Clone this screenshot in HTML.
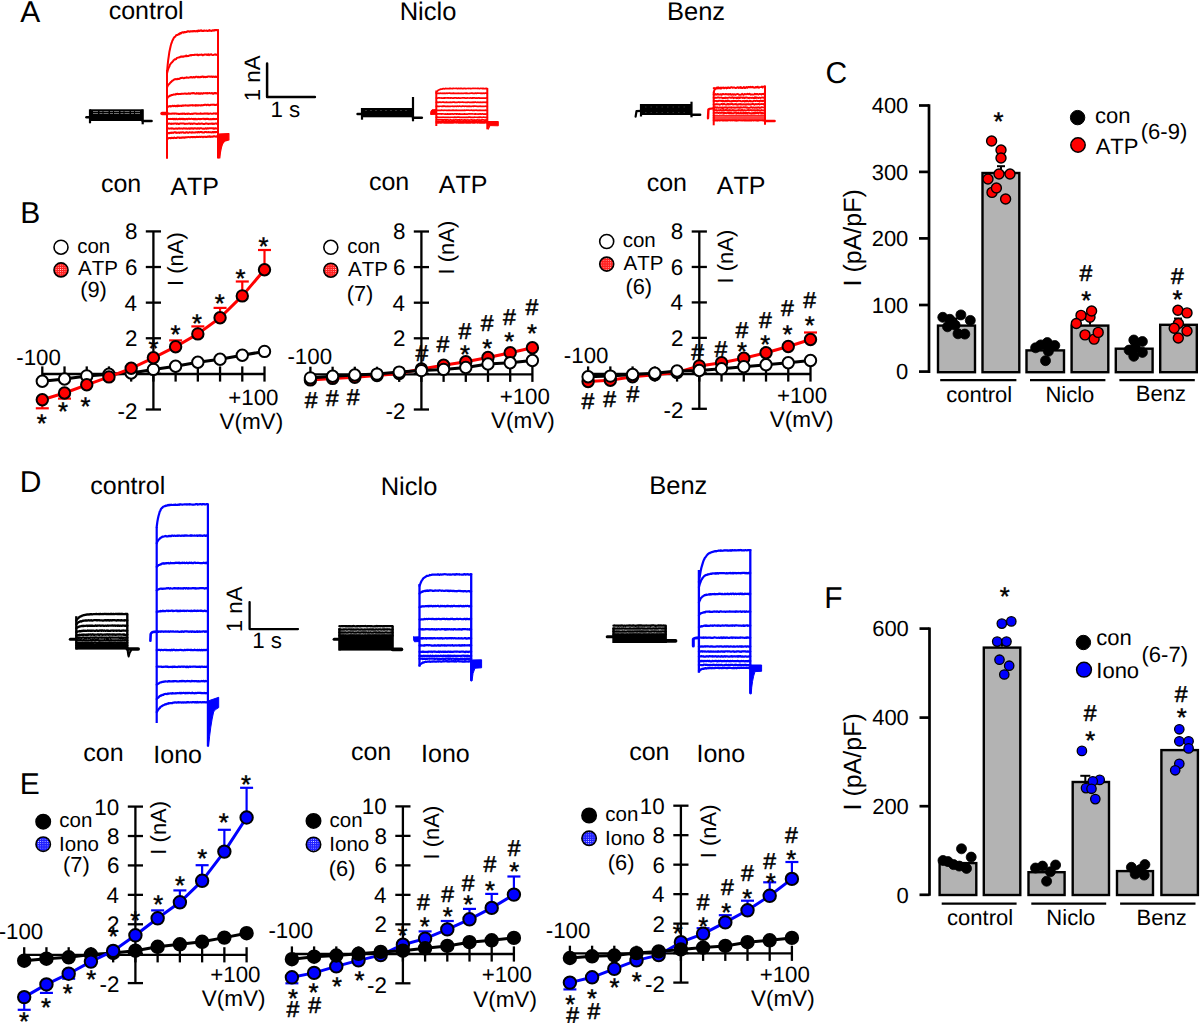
<!DOCTYPE html><html><head><meta charset="utf-8"><style>html,body{margin:0;padding:0;background:#fff;overflow:hidden}svg{display:block}text{font-family:"Liberation Sans",sans-serif;font-kerning:none;text-rendering:geometricPrecision}</style></head><body>
<svg width="1200" height="1023" viewBox="0 0 1200 1023">
<defs><pattern id="pr" width="2.2" height="2.2" patternUnits="userSpaceOnUse"><rect width="2.2" height="2.2" fill="#ff2020"/><circle cx="1.1" cy="1.1" r="0.45" fill="#fff"/></pattern><pattern id="pb" width="2.2" height="2.2" patternUnits="userSpaceOnUse"><rect width="2.2" height="2.2" fill="#2020ff"/><circle cx="1.1" cy="1.1" r="0.45" fill="#fff"/></pattern></defs>
<rect width="1200" height="1023" fill="#fff"/>
<text x="20.30" y="21.72" font-size="30" fill="#000">A</text>
<text x="20.36" y="223.32" font-size="30" fill="#000">B</text>
<text x="825.38" y="82.93" font-size="30" fill="#000">C</text>
<text x="19.65" y="492.32" font-size="30" fill="#000">D</text>
<text x="19.71" y="793.92" font-size="30" fill="#000">E</text>
<text x="824.21" y="608.32" font-size="30" fill="#000">F</text>
<text x="108.64" y="18.84" font-size="25" fill="#000">control</text>
<text x="399.70" y="19.81" font-size="25.5" fill="#000">Niclo</text>
<text x="666.98" y="19.55" font-size="25.5" fill="#000">Benz</text>
<text x="100.93" y="191.90" font-size="25" fill="#000">con</text>
<text x="170.42" y="195.20" font-size="25" fill="#000">ATP</text>
<text x="368.93" y="190.30" font-size="25" fill="#000">con</text>
<text x="438.72" y="193.30" font-size="25" fill="#000">ATP</text>
<text x="646.73" y="191.20" font-size="25" fill="#000">con</text>
<text x="716.72" y="194.30" font-size="25" fill="#000">ATP</text>
<path d="M267.1,63.6 L267.1,97.1 L314.9,97.1" stroke="#000" stroke-width="2.5" fill="none" stroke-linejoin="round" stroke-linecap="round" />
<text transform="translate(252.00,77.50) rotate(-90)" x="-23.76" y="7.67" font-size="22.3" fill="#000">1 nA</text>
<text x="270.53" y="116.96" font-size="22.3" fill="#000">1 s</text>
<rect x="90" y="109.3" width="52.7" height="11.7" fill="#000"/>
<line x1="90.00" y1="109.30" x2="90.00" y2="123.30" stroke="#000" stroke-width="2.2" stroke-linecap="butt"/>
<line x1="142.70" y1="109.30" x2="142.70" y2="124.30" stroke="#000" stroke-width="2.2" stroke-linecap="butt"/>
<line x1="86.50" y1="117.20" x2="90.00" y2="117.20" stroke="#000" stroke-width="2.6" stroke-linecap="round"/>
<line x1="142.70" y1="121.00" x2="151.50" y2="121.00" stroke="#000" stroke-width="2.6" stroke-linecap="round"/>
<path d="M93,111.5 H140 M93,113.5 H140" stroke="#fff" stroke-width="0.7" stroke-dasharray="5 1.5 3 1" opacity="0.6"/>
<path d="M167.00,72.30 L167.60,65.57 L168.20,59.98 L168.80,56.00 L169.40,51.70 L170.00,49.07 L170.60,46.33 L171.20,43.88 L171.80,42.53 L172.40,40.56 L173.00,39.69 L173.60,38.25 L174.20,37.37 L174.80,36.93 L175.40,36.67 L176.00,35.40 L176.60,35.00 L177.20,34.98 L177.80,34.93 L178.40,34.23 L179.00,33.76 L179.60,34.09 L180.20,32.93 L180.80,33.53 L181.40,32.78 L182.00,32.47 L182.60,32.29 L183.20,32.34 L183.80,32.71 L184.40,31.96 L185.00,32.25 L185.60,32.21 L186.20,31.84 L186.80,31.93 L187.40,31.36 L188.00,31.28 L188.60,31.35 L189.20,31.76 L189.80,31.44 L190.40,31.27 L191.00,31.48 L191.60,31.29 L192.20,31.09 L192.80,31.53 L193.40,31.39 L194.00,30.89 L194.60,31.18 L195.20,31.09 L195.80,31.40 L196.40,31.22 L197.00,30.75 L197.60,31.41 L198.20,30.51 L198.80,30.78 L199.40,31.10 L200.00,30.46 L200.60,30.78 L201.20,30.30 L201.80,30.91 L202.40,30.98 L203.00,30.77 L203.60,31.05 L204.20,30.47 L204.80,30.84 L205.40,30.72 L206.00,30.69 L206.60,30.55 L207.20,30.92 L207.80,31.01 L208.40,30.53 L209.00,30.71 L209.60,30.09 L210.20,30.72 L210.80,30.66 L211.40,30.99 L212.00,30.81 L212.60,30.26 L213.20,30.36 L213.80,30.63 L214.40,29.98 L215.00,30.41 L215.60,30.11 L216.20,30.05 L216.80,29.99 L217.40,30.69 L218.00,30.41" stroke="#ff0000" stroke-width="2.0" fill="none" stroke-linejoin="round" stroke-linecap="round" />
<path d="M167.00,73.60 L167.60,70.93 L168.20,69.06 L168.80,67.51 L169.40,66.51 L170.00,64.57 L170.60,63.85 L171.20,63.02 L171.80,62.53 L172.40,61.79 L173.00,61.22 L173.60,60.16 L174.20,59.81 L174.80,59.34 L175.40,59.44 L176.00,59.17 L176.60,58.14 L177.20,57.89 L177.80,57.69 L178.40,57.46 L179.00,57.48 L179.60,57.38 L180.20,56.91 L180.80,56.52 L181.40,56.74 L182.00,56.56 L182.60,56.61 L183.20,56.83 L183.80,56.49 L184.40,56.22 L185.00,56.22 L185.60,56.18 L186.20,55.53 L186.80,56.22 L187.40,56.03 L188.00,56.05 L188.60,55.91 L189.20,55.49 L189.80,55.43 L190.40,55.11 L191.00,55.54 L191.60,54.98 L192.20,54.94 L192.80,55.02 L193.40,54.94 L194.00,55.06 L194.60,54.77 L195.20,54.69 L195.80,54.79 L196.40,54.72 L197.00,54.93 L197.60,54.60 L198.20,55.33 L198.80,55.08 L199.40,54.64 L200.00,54.71 L200.60,54.78 L201.20,54.77 L201.80,54.54 L202.40,55.18 L203.00,55.29 L203.60,54.80 L204.20,54.80 L204.80,54.43 L205.40,54.44 L206.00,54.64 L206.60,54.56 L207.20,55.06 L207.80,54.45 L208.40,54.31 L209.00,55.14 L209.60,54.75 L210.20,54.40 L210.80,54.75 L211.40,54.28 L212.00,54.73 L212.60,55.12 L213.20,55.02 L213.80,54.86 L214.40,54.46 L215.00,54.55 L215.60,54.37 L216.20,54.91 L216.80,54.69 L217.40,54.91 L218.00,54.65" stroke="#ff0000" stroke-width="2.0" fill="none" stroke-linejoin="round" stroke-linecap="round" />
<path d="M167.00,87.60 L167.60,86.13 L168.20,84.92 L168.80,84.45 L169.40,83.78 L170.00,82.98 L170.60,82.36 L171.20,81.86 L171.80,81.35 L172.40,80.56 L173.00,80.46 L173.60,80.03 L174.20,79.51 L174.80,79.28 L175.40,79.27 L176.00,79.07 L176.60,79.25 L177.20,79.30 L177.80,78.75 L178.40,79.02 L179.00,78.94 L179.60,78.80 L180.20,78.23 L180.80,78.02 L181.40,77.94 L182.00,77.83 L182.60,77.76 L183.20,78.02 L183.80,78.18 L184.40,78.06 L185.00,77.71 L185.60,77.80 L186.20,77.86 L186.80,77.24 L187.40,77.65 L188.00,77.80 L188.60,77.66 L189.20,77.59 L189.80,77.33 L190.40,77.06 L191.00,77.51 L191.60,77.11 L192.20,77.45 L192.80,77.56 L193.40,77.07 L194.00,77.05 L194.60,77.46 L195.20,77.26 L195.80,76.79 L196.40,76.73 L197.00,76.73 L197.60,77.31 L198.20,77.22 L198.80,76.67 L199.40,77.20 L200.00,77.30 L200.60,77.03 L201.20,76.77 L201.80,76.91 L202.40,76.57 L203.00,76.46 L203.60,77.21 L204.20,76.95 L204.80,76.84 L205.40,77.15 L206.00,76.74 L206.60,77.08 L207.20,77.04 L207.80,76.54 L208.40,76.56 L209.00,76.59 L209.60,76.54 L210.20,76.81 L210.80,76.54 L211.40,76.66 L212.00,76.42 L212.60,77.04 L213.20,76.59 L213.80,76.67 L214.40,76.76 L215.00,77.02 L215.60,76.62 L216.20,77.02 L216.80,76.68 L217.40,76.70 L218.00,76.67" stroke="#ff0000" stroke-width="2.0" fill="none" stroke-linejoin="round" stroke-linecap="round" />
<path d="M167.00,98.50 L167.60,97.79 L168.20,96.77 L168.80,96.59 L169.40,95.96 L170.00,95.45 L170.60,95.78 L171.20,95.02 L171.80,95.04 L172.40,95.05 L173.00,94.75 L173.60,94.43 L174.20,94.46 L174.80,94.38 L175.40,94.47 L176.00,93.85 L176.60,94.14 L177.20,93.83 L177.80,93.79 L178.40,94.14 L179.00,93.88 L179.60,93.88 L180.20,94.01 L180.80,94.09 L181.40,93.69 L182.00,93.79 L182.60,93.68 L183.20,93.66 L183.80,93.78 L184.40,93.57 L185.00,93.62 L185.60,93.55 L186.20,93.91 L186.80,93.70 L187.40,93.83 L188.00,93.87 L188.60,93.31 L189.20,93.53 L189.80,93.83 L190.40,93.74 L191.00,93.17 L191.60,93.14 L192.20,93.39 L192.80,93.09 L193.40,93.21 L194.00,93.07 L194.60,93.54 L195.20,93.63 L195.80,93.71 L196.40,93.11 L197.00,93.56 L197.60,93.51 L198.20,93.09 L198.80,93.68 L199.40,93.74 L200.00,93.14 L200.60,93.72 L201.20,93.27 L201.80,93.34 L202.40,93.74 L203.00,93.61 L203.60,93.07 L204.20,93.29 L204.80,93.35 L205.40,93.21 L206.00,93.09 L206.60,93.19 L207.20,93.51 L207.80,92.94 L208.40,93.37 L209.00,93.28 L209.60,92.94 L210.20,93.19 L210.80,93.42 L211.40,93.33 L212.00,92.97 L212.60,93.71 L213.20,93.55 L213.80,93.69 L214.40,93.00 L215.00,93.13 L215.60,92.94 L216.20,93.54 L216.80,93.13 L217.40,93.01 L218.00,93.31" stroke="#ff0000" stroke-width="2.0" fill="none" stroke-linejoin="round" stroke-linecap="round" />
<path d="M167.00,106.70 L167.60,106.50 L168.20,106.73 L168.80,106.57 L169.40,106.11 L170.00,105.98 L170.60,106.47 L171.20,106.19 L171.80,106.24 L172.40,105.79 L173.00,105.74 L173.60,106.16 L174.20,105.95 L174.80,105.68 L175.40,106.27 L176.00,106.03 L176.60,106.13 L177.20,105.61 L177.80,106.13 L178.40,105.56 L179.00,106.10 L179.60,105.80 L180.20,105.70 L180.80,105.83 L181.40,106.08 L182.00,105.60 L182.60,105.48 L183.20,105.74 L183.80,105.52 L184.40,105.41 L185.00,105.43 L185.60,105.34 L186.20,105.43 L186.80,105.49 L187.40,105.46 L188.00,105.76 L188.60,105.42 L189.20,105.55 L189.80,105.30 L190.40,105.40 L191.00,105.16 L191.60,105.30 L192.20,105.12 L192.80,105.60 L193.40,105.46 L194.00,105.19 L194.60,105.37 L195.20,105.67 L195.80,105.08 L196.40,105.56 L197.00,105.27 L197.60,105.30 L198.20,105.52 L198.80,105.19 L199.40,105.25 L200.00,105.36 L200.60,105.55 L201.20,105.08 L201.80,105.41 L202.40,105.30 L203.00,105.24 L203.60,105.06 L204.20,105.00 L204.80,104.78 L205.40,104.81 L206.00,104.75 L206.60,105.20 L207.20,104.85 L207.80,104.76 L208.40,104.69 L209.00,105.20 L209.60,105.21 L210.20,105.05 L210.80,104.76 L211.40,104.71 L212.00,104.73 L212.60,104.83 L213.20,104.60 L213.80,104.79 L214.40,104.64 L215.00,105.11 L215.60,105.10 L216.20,104.79 L216.80,104.56 L217.40,105.04 L218.00,104.70" stroke="#ff0000" stroke-width="2.0" fill="none" stroke-linejoin="round" stroke-linecap="round" />
<path d="M167.00,113.80 L167.60,113.68 L168.20,113.71 L168.80,113.49 L169.40,113.72 L170.00,113.77 L170.60,113.79 L171.20,113.60 L171.80,113.78 L172.40,113.48 L173.00,113.63 L173.60,113.53 L174.20,113.71 L174.80,113.49 L175.40,113.48 L176.00,113.65 L176.60,113.60 L177.20,113.81 L177.80,113.78 L178.40,113.91 L179.00,113.85 L179.60,113.88 L180.20,113.98 L180.80,113.68 L181.40,113.64 L182.00,114.03 L182.60,113.53 L183.20,113.87 L183.80,113.82 L184.40,113.46 L185.00,113.93 L185.60,113.96 L186.20,113.80 L186.80,113.86 L187.40,113.91 L188.00,113.50 L188.60,113.73 L189.20,113.72 L189.80,113.91 L190.40,113.89 L191.00,113.90 L191.60,113.75 L192.20,113.94 L192.80,113.81 L193.40,113.81 L194.00,113.53 L194.60,113.41 L195.20,113.47 L195.80,113.60 L196.40,113.45 L197.00,113.88 L197.60,113.72 L198.20,113.75 L198.80,113.75 L199.40,113.78 L200.00,113.66 L200.60,113.37 L201.20,113.84 L201.80,113.81 L202.40,113.66 L203.00,113.68 L203.60,113.75 L204.20,113.39 L204.80,113.79 L205.40,113.50 L206.00,113.39 L206.60,113.50 L207.20,113.78 L207.80,113.46 L208.40,113.78 L209.00,113.92 L209.60,113.63 L210.20,113.56 L210.80,113.62 L211.40,113.74 L212.00,113.78 L212.60,113.69 L213.20,113.70 L213.80,113.36 L214.40,113.40 L215.00,113.46 L215.60,113.76 L216.20,113.49 L216.80,113.65 L217.40,113.31 L218.00,113.60" stroke="#ff0000" stroke-width="2.0" fill="none" stroke-linejoin="round" stroke-linecap="round" />
<path d="M167.00,119.00 L167.60,118.74 L168.20,118.86 L168.80,119.10 L169.40,119.12 L170.00,119.11 L170.60,118.87 L171.20,119.01 L171.80,118.98 L172.40,118.98 L173.00,118.77 L173.60,119.24 L174.20,118.82 L174.80,119.29 L175.40,119.26 L176.00,118.71 L176.60,118.98 L177.20,119.19 L177.80,119.28 L178.40,118.97 L179.00,118.86 L179.60,118.83 L180.20,119.27 L180.80,118.83 L181.40,119.05 L182.00,118.79 L182.60,119.01 L183.20,119.27 L183.80,118.78 L184.40,119.19 L185.00,119.01 L185.60,119.23 L186.20,119.12 L186.80,118.84 L187.40,119.24 L188.00,118.99 L188.60,118.71 L189.20,118.70 L189.80,119.00 L190.40,118.97 L191.00,118.88 L191.60,118.78 L192.20,118.91 L192.80,118.89 L193.40,119.20 L194.00,118.70 L194.60,119.15 L195.20,119.20 L195.80,118.77 L196.40,119.26 L197.00,119.13 L197.60,119.24 L198.20,118.87 L198.80,118.92 L199.40,118.94 L200.00,119.30 L200.60,119.05 L201.20,118.92 L201.80,118.96 L202.40,118.87 L203.00,118.73 L203.60,118.76 L204.20,119.20 L204.80,118.87 L205.40,119.26 L206.00,118.85 L206.60,118.86 L207.20,119.01 L207.80,118.81 L208.40,118.92 L209.00,119.27 L209.60,119.23 L210.20,119.19 L210.80,119.08 L211.40,119.25 L212.00,119.26 L212.60,119.03 L213.20,119.13 L213.80,118.73 L214.40,119.14 L215.00,118.97 L215.60,119.15 L216.20,119.09 L216.80,118.87 L217.40,118.73 L218.00,119.00" stroke="#ff0000" stroke-width="2.0" fill="none" stroke-linejoin="round" stroke-linecap="round" />
<path d="M167.00,123.70 L167.60,123.96 L168.20,123.48 L168.80,123.68 L169.40,123.61 L170.00,123.58 L170.60,123.84 L171.20,123.99 L171.80,123.56 L172.40,123.79 L173.00,123.58 L173.60,123.73 L174.20,123.64 L174.80,123.50 L175.40,123.50 L176.00,123.52 L176.60,123.94 L177.20,123.70 L177.80,123.53 L178.40,123.94 L179.00,124.00 L179.60,123.67 L180.20,123.48 L180.80,123.52 L181.40,123.45 L182.00,123.61 L182.60,123.45 L183.20,123.54 L183.80,123.56 L184.40,123.74 L185.00,123.93 L185.60,123.85 L186.20,123.65 L186.80,123.65 L187.40,123.71 L188.00,123.63 L188.60,123.60 L189.20,123.44 L189.80,123.57 L190.40,123.98 L191.00,123.48 L191.60,123.70 L192.20,123.78 L192.80,123.92 L193.40,123.53 L194.00,123.56 L194.60,123.55 L195.20,123.64 L195.80,123.67 L196.40,123.97 L197.00,123.91 L197.60,123.92 L198.20,123.41 L198.80,123.42 L199.40,123.83 L200.00,123.94 L200.60,123.68 L201.20,123.75 L201.80,123.40 L202.40,123.63 L203.00,123.96 L203.60,123.90 L204.20,123.91 L204.80,123.98 L205.40,123.55 L206.00,123.47 L206.60,123.49 L207.20,123.71 L207.80,123.81 L208.40,123.96 L209.00,123.83 L209.60,123.79 L210.20,123.86 L210.80,123.67 L211.40,123.73 L212.00,123.42 L212.60,123.87 L213.20,123.54 L213.80,123.95 L214.40,123.79 L215.00,123.58 L215.60,123.48 L216.20,123.55 L216.80,123.78 L217.40,123.82 L218.00,123.70" stroke="#ff0000" stroke-width="2.0" fill="none" stroke-linejoin="round" stroke-linecap="round" />
<path d="M167.00,128.60 L167.60,128.36 L168.20,128.34 L168.80,128.61 L169.40,128.64 L170.00,128.52 L170.60,128.42 L171.20,128.64 L171.80,128.29 L172.40,128.46 L173.00,128.55 L173.60,128.85 L174.20,128.66 L174.80,128.80 L175.40,128.55 L176.00,128.41 L176.60,128.41 L177.20,128.84 L177.80,128.68 L178.40,128.44 L179.00,128.27 L179.60,128.55 L180.20,128.65 L180.80,128.50 L181.40,128.40 L182.00,128.64 L182.60,128.79 L183.20,128.37 L183.80,128.25 L184.40,128.43 L185.00,128.48 L185.60,128.64 L186.20,128.34 L186.80,128.70 L187.40,128.66 L188.00,128.52 L188.60,128.34 L189.20,128.79 L189.80,128.40 L190.40,128.70 L191.00,128.34 L191.60,128.34 L192.20,128.66 L192.80,128.38 L193.40,128.77 L194.00,128.49 L194.60,128.30 L195.20,128.32 L195.80,128.44 L196.40,128.58 L197.00,128.75 L197.60,128.27 L198.20,128.41 L198.80,128.30 L199.40,128.76 L200.00,128.26 L200.60,128.20 L201.20,128.20 L201.80,128.40 L202.40,128.70 L203.00,128.69 L203.60,128.60 L204.20,128.75 L204.80,128.71 L205.40,128.35 L206.00,128.26 L206.60,128.71 L207.20,128.59 L207.80,128.16 L208.40,128.54 L209.00,128.36 L209.60,128.36 L210.20,128.33 L210.80,128.23 L211.40,128.13 L212.00,128.29 L212.60,128.33 L213.20,128.69 L213.80,128.19 L214.40,128.69 L215.00,128.24 L215.60,128.32 L216.20,128.60 L216.80,128.60 L217.40,128.36 L218.00,128.40" stroke="#ff0000" stroke-width="2.0" fill="none" stroke-linejoin="round" stroke-linecap="round" />
<path d="M167.00,133.70 L167.60,133.12 L168.20,133.22 L168.80,133.00 L169.40,133.27 L170.00,132.67 L170.60,132.73 L171.20,133.05 L171.80,132.41 L172.40,132.64 L173.00,132.90 L173.60,132.85 L174.20,132.32 L174.80,132.30 L175.40,132.31 L176.00,132.90 L176.60,132.43 L177.20,132.76 L177.80,132.86 L178.40,132.46 L179.00,132.40 L179.60,132.87 L180.20,132.63 L180.80,132.37 L181.40,132.68 L182.00,132.40 L182.60,132.36 L183.20,132.16 L183.80,132.68 L184.40,132.79 L185.00,132.58 L185.60,132.79 L186.20,132.14 L186.80,132.28 L187.40,132.44 L188.00,132.77 L188.60,132.76 L189.20,132.36 L189.80,132.26 L190.40,132.38 L191.00,132.41 L191.60,132.71 L192.20,132.18 L192.80,132.61 L193.40,132.56 L194.00,132.61 L194.60,132.57 L195.20,132.44 L195.80,132.24 L196.40,132.23 L197.00,132.25 L197.60,132.54 L198.20,132.04 L198.80,132.11 L199.40,132.50 L200.00,132.13 L200.60,132.00 L201.20,131.97 L201.80,132.33 L202.40,132.16 L203.00,132.61 L203.60,132.54 L204.20,132.60 L204.80,132.09 L205.40,131.96 L206.00,131.96 L206.60,132.23 L207.20,132.37 L207.80,132.18 L208.40,132.03 L209.00,132.15 L209.60,132.28 L210.20,132.31 L210.80,132.36 L211.40,132.42 L212.00,132.29 L212.60,131.90 L213.20,132.40 L213.80,132.01 L214.40,132.19 L215.00,132.05 L215.60,132.29 L216.20,131.91 L216.80,131.94 L217.40,131.93 L218.00,132.10" stroke="#ff0000" stroke-width="2.0" fill="none" stroke-linejoin="round" stroke-linecap="round" />
<path d="M167.00,138.50 L167.60,138.11 L168.20,138.51 L168.80,138.20 L169.40,137.95 L170.00,137.94 L170.60,138.31 L171.20,137.93 L171.80,137.71 L172.40,138.08 L173.00,137.94 L173.60,138.16 L174.20,137.51 L174.80,137.75 L175.40,137.97 L176.00,137.96 L176.60,137.99 L177.20,137.36 L177.80,137.52 L178.40,137.38 L179.00,137.41 L179.60,137.94 L180.20,137.64 L180.80,137.87 L181.40,137.46 L182.00,137.79 L182.60,137.48 L183.20,137.32 L183.80,137.67 L184.40,137.77 L185.00,137.16 L185.60,137.48 L186.20,137.48 L186.80,137.18 L187.40,137.27 L188.00,137.09 L188.60,137.12 L189.20,137.13 L189.80,137.35 L190.40,137.37 L191.00,137.04 L191.60,136.89 L192.20,137.09 L192.80,137.32 L193.40,136.95 L194.00,137.02 L194.60,136.93 L195.20,137.32 L195.80,137.13 L196.40,136.77 L197.00,136.78 L197.60,136.97 L198.20,137.06 L198.80,137.10 L199.40,136.70 L200.00,136.73 L200.60,137.08 L201.20,136.86 L201.80,136.76 L202.40,136.75 L203.00,137.19 L203.60,136.72 L204.20,136.88 L204.80,136.71 L205.40,136.74 L206.00,137.03 L206.60,137.11 L207.20,136.64 L207.80,136.51 L208.40,136.86 L209.00,136.47 L209.60,136.32 L210.20,136.93 L210.80,136.57 L211.40,136.83 L212.00,136.52 L212.60,136.84 L213.20,136.52 L213.80,136.30 L214.40,136.17 L215.00,136.53 L215.60,136.57 L216.20,136.74 L216.80,136.15 L217.40,136.50 L218.00,136.40" stroke="#ff0000" stroke-width="2.0" fill="none" stroke-linejoin="round" stroke-linecap="round" />
<line x1="167.00" y1="70.00" x2="167.00" y2="158.70" stroke="#ff0000" stroke-width="2.0" stroke-linecap="butt"/>
<line x1="218.00" y1="29.30" x2="218.00" y2="158.30" stroke="#ff0000" stroke-width="2.0" stroke-linecap="butt"/>
<line x1="162.00" y1="113.50" x2="167.00" y2="113.50" stroke="#ff0000" stroke-width="3.4" stroke-linecap="round"/>
<path d="M218,134 L228.9,133.6 L228.9,140 L224.5,141.2 Q221,144 219.8,158 L218,158 Z" stroke="#ff0000" stroke-width="1.2" fill="#ff0000" stroke-linejoin="round" stroke-linecap="round" />
<rect x="362" y="108" width="51" height="9.3" fill="#000"/>
<line x1="362.00" y1="108.00" x2="362.00" y2="119.70" stroke="#000" stroke-width="2.2" stroke-linecap="butt"/>
<line x1="413.00" y1="97.00" x2="413.00" y2="121.30" stroke="#000" stroke-width="2.2" stroke-linecap="butt"/>
<line x1="357.50" y1="114.00" x2="362.00" y2="114.00" stroke="#000" stroke-width="2.4" stroke-linecap="round"/>
<line x1="413.00" y1="117.70" x2="421.80" y2="117.70" stroke="#000" stroke-width="2.6" stroke-linecap="round"/>
<path d="M365,110.5 H410" stroke="#fff" stroke-width="0.6" stroke-dasharray="2 3" opacity="0.35"/>
<path d="M436.30,92.50 L436.90,91.59 L437.50,90.98 L438.10,90.31 L438.70,89.94 L439.30,89.71 L439.90,89.62 L440.50,89.09 L441.10,89.08 L441.70,89.08 L442.30,89.05 L442.90,88.66 L443.50,88.58 L444.10,88.85 L444.70,88.83 L445.30,88.60 L445.90,88.41 L446.50,88.74 L447.10,88.51 L447.70,88.70 L448.30,88.58 L448.90,88.66 L449.50,88.38 L450.10,88.63 L450.70,88.40 L451.30,88.47 L451.90,88.65 L452.50,88.64 L453.10,88.38 L453.70,88.39 L454.30,88.46 L454.90,88.51 L455.50,88.46 L456.10,88.35 L456.70,88.40 L457.30,88.59 L457.90,88.66 L458.50,88.32 L459.10,88.53 L459.70,88.60 L460.30,88.32 L460.90,88.64 L461.50,88.35 L462.10,88.54 L462.70,88.52 L463.30,88.55 L463.90,88.42 L464.50,88.47 L465.10,88.53 L465.70,88.47 L466.30,88.56 L466.90,88.48 L467.50,88.48 L468.10,88.31 L468.70,88.55 L469.30,88.50 L469.90,88.39 L470.50,88.61 L471.10,88.61 L471.70,88.48 L472.30,88.37 L472.90,88.49 L473.50,88.34 L474.10,88.35 L474.70,88.47 L475.30,88.34 L475.90,88.48 L476.50,88.50 L477.10,88.32 L477.70,88.55 L478.30,88.33 L478.90,88.59 L479.50,88.61 L480.10,88.50 L480.70,88.32 L481.30,88.50 L481.90,88.45 L482.50,88.68 L483.10,88.35 L483.70,88.64 L484.30,88.70 L484.90,88.59 L485.50,88.63 L486.10,88.38 L486.70,88.69 L487.30,88.50" stroke="#ff0000" stroke-width="1.7" fill="none" stroke-linejoin="round" stroke-linecap="round" />
<path d="M436.30,93.30 L436.90,93.30 L437.50,93.46 L438.10,93.45 L438.70,93.18 L439.30,93.40 L439.90,93.46 L440.50,93.14 L441.10,93.25 L441.70,93.39 L442.30,93.18 L442.90,93.44 L443.50,93.22 L444.10,93.41 L444.70,93.17 L445.30,93.30 L445.90,93.45 L446.50,93.19 L447.10,93.21 L447.70,93.30 L448.30,93.23 L448.90,93.13 L449.50,93.19 L450.10,93.18 L450.70,93.46 L451.30,93.36 L451.90,93.44 L452.50,93.18 L453.10,93.40 L453.70,93.16 L454.30,93.31 L454.90,93.35 L455.50,93.25 L456.10,93.43 L456.70,93.32 L457.30,93.33 L457.90,93.44 L458.50,93.16 L459.10,93.48 L459.70,93.35 L460.30,93.26 L460.90,93.41 L461.50,93.22 L462.10,93.48 L462.70,93.33 L463.30,93.25 L463.90,93.40 L464.50,93.28 L465.10,93.18 L465.70,93.39 L466.30,93.14 L466.90,93.42 L467.50,93.21 L468.10,93.35 L468.70,93.47 L469.30,93.33 L469.90,93.36 L470.50,93.23 L471.10,93.12 L471.70,93.13 L472.30,93.17 L472.90,93.34 L473.50,93.28 L474.10,93.30 L474.70,93.44 L475.30,93.17 L475.90,93.20 L476.50,93.36 L477.10,93.13 L477.70,93.12 L478.30,93.25 L478.90,93.16 L479.50,93.25 L480.10,93.20 L480.70,93.33 L481.30,93.33 L481.90,93.19 L482.50,93.34 L483.10,93.29 L483.70,93.17 L484.30,93.46 L484.90,93.21 L485.50,93.17 L486.10,93.15 L486.70,93.35 L487.30,93.30" stroke="#ff0000" stroke-width="1.7" fill="none" stroke-linejoin="round" stroke-linecap="round" />
<path d="M436.30,98.00 L436.90,98.13 L437.50,98.10 L438.10,97.96 L438.70,97.92 L439.30,97.82 L439.90,98.05 L440.50,98.02 L441.10,97.95 L441.70,98.05 L442.30,97.98 L442.90,98.16 L443.50,98.08 L444.10,97.91 L444.70,98.15 L445.30,97.84 L445.90,98.01 L446.50,97.97 L447.10,97.91 L447.70,97.84 L448.30,98.10 L448.90,97.82 L449.50,98.02 L450.10,98.16 L450.70,97.87 L451.30,97.89 L451.90,98.04 L452.50,98.00 L453.10,98.05 L453.70,98.11 L454.30,97.88 L454.90,97.93 L455.50,97.93 L456.10,97.84 L456.70,98.14 L457.30,98.10 L457.90,98.08 L458.50,97.82 L459.10,98.12 L459.70,98.09 L460.30,97.99 L460.90,98.09 L461.50,97.98 L462.10,97.90 L462.70,97.86 L463.30,97.90 L463.90,97.83 L464.50,97.94 L465.10,98.09 L465.70,98.07 L466.30,98.12 L466.90,98.08 L467.50,97.92 L468.10,98.02 L468.70,97.98 L469.30,98.10 L469.90,98.01 L470.50,97.92 L471.10,98.05 L471.70,98.17 L472.30,97.90 L472.90,98.14 L473.50,97.83 L474.10,97.91 L474.70,97.90 L475.30,98.09 L475.90,98.16 L476.50,98.09 L477.10,97.94 L477.70,98.14 L478.30,97.94 L478.90,97.91 L479.50,98.15 L480.10,98.05 L480.70,98.07 L481.30,98.06 L481.90,98.17 L482.50,97.99 L483.10,98.12 L483.70,98.07 L484.30,98.13 L484.90,97.98 L485.50,98.08 L486.10,98.03 L486.70,97.93 L487.30,98.00" stroke="#ff0000" stroke-width="1.7" fill="none" stroke-linejoin="round" stroke-linecap="round" />
<path d="M436.30,102.30 L436.90,102.20 L437.50,102.34 L438.10,102.15 L438.70,102.45 L439.30,102.17 L439.90,102.13 L440.50,102.16 L441.10,102.45 L441.70,102.24 L442.30,102.17 L442.90,102.13 L443.50,102.13 L444.10,102.37 L444.70,102.35 L445.30,102.37 L445.90,102.39 L446.50,102.14 L447.10,102.33 L447.70,102.25 L448.30,102.41 L448.90,102.42 L449.50,102.44 L450.10,102.14 L450.70,102.43 L451.30,102.45 L451.90,102.46 L452.50,102.16 L453.10,102.19 L453.70,102.16 L454.30,102.13 L454.90,102.43 L455.50,102.41 L456.10,102.35 L456.70,102.42 L457.30,102.35 L457.90,102.22 L458.50,102.16 L459.10,102.16 L459.70,102.39 L460.30,102.19 L460.90,102.23 L461.50,102.27 L462.10,102.13 L462.70,102.21 L463.30,102.22 L463.90,102.38 L464.50,102.25 L465.10,102.24 L465.70,102.47 L466.30,102.30 L466.90,102.43 L467.50,102.34 L468.10,102.13 L468.70,102.27 L469.30,102.28 L469.90,102.40 L470.50,102.24 L471.10,102.37 L471.70,102.31 L472.30,102.20 L472.90,102.43 L473.50,102.15 L474.10,102.42 L474.70,102.18 L475.30,102.12 L475.90,102.19 L476.50,102.39 L477.10,102.47 L477.70,102.12 L478.30,102.30 L478.90,102.30 L479.50,102.41 L480.10,102.19 L480.70,102.30 L481.30,102.24 L481.90,102.42 L482.50,102.21 L483.10,102.46 L483.70,102.22 L484.30,102.20 L484.90,102.37 L485.50,102.30 L486.10,102.16 L486.70,102.35 L487.30,102.30" stroke="#ff0000" stroke-width="1.7" fill="none" stroke-linejoin="round" stroke-linecap="round" />
<path d="M436.30,106.30 L436.90,106.15 L437.50,106.40 L438.10,106.37 L438.70,106.40 L439.30,106.35 L439.90,106.25 L440.50,106.26 L441.10,106.26 L441.70,106.44 L442.30,106.15 L442.90,106.44 L443.50,106.13 L444.10,106.19 L444.70,106.21 L445.30,106.44 L445.90,106.30 L446.50,106.26 L447.10,106.44 L447.70,106.20 L448.30,106.29 L448.90,106.31 L449.50,106.39 L450.10,106.39 L450.70,106.35 L451.30,106.25 L451.90,106.24 L452.50,106.18 L453.10,106.42 L453.70,106.36 L454.30,106.39 L454.90,106.18 L455.50,106.28 L456.10,106.40 L456.70,106.33 L457.30,106.17 L457.90,106.29 L458.50,106.44 L459.10,106.21 L459.70,106.19 L460.30,106.23 L460.90,106.37 L461.50,106.42 L462.10,106.18 L462.70,106.18 L463.30,106.21 L463.90,106.24 L464.50,106.31 L465.10,106.18 L465.70,106.24 L466.30,106.19 L466.90,106.47 L467.50,106.38 L468.10,106.16 L468.70,106.47 L469.30,106.16 L469.90,106.26 L470.50,106.47 L471.10,106.41 L471.70,106.38 L472.30,106.28 L472.90,106.19 L473.50,106.35 L474.10,106.16 L474.70,106.19 L475.30,106.26 L475.90,106.13 L476.50,106.26 L477.10,106.40 L477.70,106.37 L478.30,106.30 L478.90,106.35 L479.50,106.29 L480.10,106.17 L480.70,106.34 L481.30,106.27 L481.90,106.39 L482.50,106.45 L483.10,106.27 L483.70,106.33 L484.30,106.39 L484.90,106.27 L485.50,106.20 L486.10,106.38 L486.70,106.44 L487.30,106.30" stroke="#ff0000" stroke-width="1.7" fill="none" stroke-linejoin="round" stroke-linecap="round" />
<path d="M436.30,110.30 L436.90,110.40 L437.50,110.37 L438.10,110.43 L438.70,110.36 L439.30,110.35 L439.90,110.28 L440.50,110.23 L441.10,110.35 L441.70,110.16 L442.30,110.27 L442.90,110.40 L443.50,110.38 L444.10,110.35 L444.70,110.21 L445.30,110.27 L445.90,110.28 L446.50,110.34 L447.10,110.27 L447.70,110.36 L448.30,110.45 L448.90,110.19 L449.50,110.36 L450.10,110.40 L450.70,110.26 L451.30,110.30 L451.90,110.47 L452.50,110.13 L453.10,110.32 L453.70,110.18 L454.30,110.40 L454.90,110.46 L455.50,110.31 L456.10,110.16 L456.70,110.33 L457.30,110.31 L457.90,110.38 L458.50,110.30 L459.10,110.35 L459.70,110.42 L460.30,110.31 L460.90,110.27 L461.50,110.46 L462.10,110.20 L462.70,110.37 L463.30,110.26 L463.90,110.39 L464.50,110.16 L465.10,110.47 L465.70,110.25 L466.30,110.14 L466.90,110.22 L467.50,110.26 L468.10,110.12 L468.70,110.27 L469.30,110.27 L469.90,110.37 L470.50,110.25 L471.10,110.22 L471.70,110.20 L472.30,110.39 L472.90,110.46 L473.50,110.31 L474.10,110.20 L474.70,110.41 L475.30,110.26 L475.90,110.20 L476.50,110.17 L477.10,110.40 L477.70,110.41 L478.30,110.35 L478.90,110.29 L479.50,110.32 L480.10,110.20 L480.70,110.47 L481.30,110.25 L481.90,110.35 L482.50,110.41 L483.10,110.41 L483.70,110.29 L484.30,110.23 L484.90,110.32 L485.50,110.17 L486.10,110.42 L486.70,110.25 L487.30,110.30" stroke="#ff0000" stroke-width="1.7" fill="none" stroke-linejoin="round" stroke-linecap="round" />
<path d="M436.30,114.00 L436.90,114.13 L437.50,113.92 L438.10,113.96 L438.70,113.91 L439.30,113.97 L439.90,113.89 L440.50,113.82 L441.10,114.08 L441.70,113.92 L442.30,113.91 L442.90,113.93 L443.50,113.99 L444.10,113.97 L444.70,114.05 L445.30,114.06 L445.90,113.95 L446.50,114.15 L447.10,114.13 L447.70,113.84 L448.30,114.12 L448.90,114.15 L449.50,114.10 L450.10,113.87 L450.70,114.12 L451.30,114.05 L451.90,113.83 L452.50,113.82 L453.10,114.16 L453.70,114.06 L454.30,113.91 L454.90,113.86 L455.50,113.87 L456.10,113.90 L456.70,114.10 L457.30,113.94 L457.90,113.87 L458.50,114.15 L459.10,114.11 L459.70,113.88 L460.30,114.14 L460.90,114.04 L461.50,114.10 L462.10,114.06 L462.70,114.14 L463.30,114.10 L463.90,114.12 L464.50,113.89 L465.10,114.07 L465.70,114.01 L466.30,114.09 L466.90,113.98 L467.50,114.14 L468.10,114.02 L468.70,113.92 L469.30,113.90 L469.90,113.87 L470.50,114.00 L471.10,113.84 L471.70,113.99 L472.30,113.87 L472.90,114.00 L473.50,114.00 L474.10,114.01 L474.70,114.13 L475.30,113.82 L475.90,114.12 L476.50,113.99 L477.10,114.02 L477.70,114.06 L478.30,114.12 L478.90,113.95 L479.50,113.97 L480.10,114.17 L480.70,113.85 L481.30,114.05 L481.90,114.05 L482.50,113.83 L483.10,114.04 L483.70,114.07 L484.30,114.16 L484.90,113.94 L485.50,114.17 L486.10,114.00 L486.70,113.99 L487.30,114.00" stroke="#ff0000" stroke-width="1.7" fill="none" stroke-linejoin="round" stroke-linecap="round" />
<path d="M436.30,117.30 L436.90,117.44 L437.50,117.13 L438.10,117.38 L438.70,117.35 L439.30,117.24 L439.90,117.43 L440.50,117.25 L441.10,117.29 L441.70,117.31 L442.30,117.40 L442.90,117.20 L443.50,117.28 L444.10,117.27 L444.70,117.32 L445.30,117.42 L445.90,117.23 L446.50,117.42 L447.10,117.27 L447.70,117.30 L448.30,117.22 L448.90,117.30 L449.50,117.47 L450.10,117.36 L450.70,117.41 L451.30,117.24 L451.90,117.23 L452.50,117.23 L453.10,117.33 L453.70,117.35 L454.30,117.40 L454.90,117.13 L455.50,117.38 L456.10,117.44 L456.70,117.32 L457.30,117.14 L457.90,117.23 L458.50,117.12 L459.10,117.19 L459.70,117.45 L460.30,117.34 L460.90,117.36 L461.50,117.40 L462.10,117.45 L462.70,117.34 L463.30,117.34 L463.90,117.35 L464.50,117.37 L465.10,117.33 L465.70,117.37 L466.30,117.20 L466.90,117.36 L467.50,117.28 L468.10,117.39 L468.70,117.16 L469.30,117.19 L469.90,117.13 L470.50,117.40 L471.10,117.45 L471.70,117.36 L472.30,117.25 L472.90,117.42 L473.50,117.40 L474.10,117.32 L474.70,117.21 L475.30,117.23 L475.90,117.27 L476.50,117.23 L477.10,117.28 L477.70,117.35 L478.30,117.46 L478.90,117.14 L479.50,117.32 L480.10,117.13 L480.70,117.16 L481.30,117.41 L481.90,117.33 L482.50,117.45 L483.10,117.28 L483.70,117.13 L484.30,117.26 L484.90,117.33 L485.50,117.46 L486.10,117.47 L486.70,117.29 L487.30,117.30" stroke="#ff0000" stroke-width="1.7" fill="none" stroke-linejoin="round" stroke-linecap="round" />
<path d="M436.30,120.00 L436.90,119.97 L437.50,119.86 L438.10,120.05 L438.70,119.90 L439.30,119.87 L439.90,119.83 L440.50,119.82 L441.10,120.07 L441.70,119.86 L442.30,120.17 L442.90,119.85 L443.50,120.13 L444.10,119.87 L444.70,119.83 L445.30,120.08 L445.90,119.91 L446.50,120.08 L447.10,119.89 L447.70,119.84 L448.30,120.10 L448.90,120.08 L449.50,120.13 L450.10,120.08 L450.70,119.85 L451.30,120.05 L451.90,120.08 L452.50,119.99 L453.10,120.16 L453.70,119.91 L454.30,120.17 L454.90,120.08 L455.50,119.82 L456.10,119.83 L456.70,120.05 L457.30,120.11 L457.90,119.85 L458.50,119.93 L459.10,120.08 L459.70,119.88 L460.30,120.13 L460.90,120.00 L461.50,119.84 L462.10,119.95 L462.70,120.03 L463.30,119.98 L463.90,120.06 L464.50,119.87 L465.10,120.11 L465.70,119.95 L466.30,120.05 L466.90,120.05 L467.50,119.97 L468.10,119.96 L468.70,120.10 L469.30,120.16 L469.90,120.10 L470.50,120.02 L471.10,119.93 L471.70,119.84 L472.30,120.17 L472.90,120.07 L473.50,120.12 L474.10,119.94 L474.70,120.04 L475.30,120.17 L475.90,120.12 L476.50,120.04 L477.10,119.93 L477.70,119.97 L478.30,120.14 L478.90,119.96 L479.50,120.07 L480.10,120.04 L480.70,120.14 L481.30,120.11 L481.90,119.92 L482.50,119.82 L483.10,119.91 L483.70,119.97 L484.30,120.03 L484.90,120.11 L485.50,120.14 L486.10,119.84 L486.70,120.12 L487.30,120.00" stroke="#ff0000" stroke-width="1.7" fill="none" stroke-linejoin="round" stroke-linecap="round" />
<path d="M436.30,121.70 L436.90,121.81 L437.50,121.83 L438.10,121.73 L438.70,121.62 L439.30,121.83 L439.90,121.81 L440.50,121.77 L441.10,121.85 L441.70,121.64 L442.30,121.55 L442.90,121.72 L443.50,121.81 L444.10,121.59 L444.70,121.79 L445.30,121.86 L445.90,121.60 L446.50,121.74 L447.10,121.76 L447.70,121.69 L448.30,121.59 L448.90,121.61 L449.50,121.79 L450.10,121.80 L450.70,121.69 L451.30,121.55 L451.90,121.81 L452.50,121.80 L453.10,121.60 L453.70,121.73 L454.30,121.84 L454.90,121.84 L455.50,121.71 L456.10,121.69 L456.70,121.73 L457.30,121.59 L457.90,121.59 L458.50,121.59 L459.10,121.77 L459.70,121.65 L460.30,121.72 L460.90,121.66 L461.50,121.71 L462.10,121.57 L462.70,121.54 L463.30,121.88 L463.90,121.65 L464.50,121.56 L465.10,121.75 L465.70,121.80 L466.30,121.58 L466.90,121.73 L467.50,121.64 L468.10,121.71 L468.70,121.53 L469.30,121.53 L469.90,121.88 L470.50,121.83 L471.10,121.70 L471.70,121.72 L472.30,121.61 L472.90,121.80 L473.50,121.67 L474.10,121.86 L474.70,121.80 L475.30,121.81 L475.90,121.87 L476.50,121.61 L477.10,121.53 L477.70,121.59 L478.30,121.59 L478.90,121.55 L479.50,121.54 L480.10,121.72 L480.70,121.83 L481.30,121.68 L481.90,121.86 L482.50,121.85 L483.10,121.54 L483.70,121.74 L484.30,121.66 L484.90,121.56 L485.50,121.87 L486.10,121.61 L486.70,121.72 L487.30,121.70" stroke="#ff0000" stroke-width="1.7" fill="none" stroke-linejoin="round" stroke-linecap="round" />
<path d="M436.30,122.80 L436.90,122.85 L437.50,122.96 L438.10,122.86 L438.70,122.76 L439.30,122.78 L439.90,122.68 L440.50,122.97 L441.10,122.98 L441.70,122.70 L442.30,122.63 L442.90,122.71 L443.50,122.75 L444.10,122.94 L444.70,122.95 L445.30,122.92 L445.90,122.64 L446.50,122.90 L447.10,122.88 L447.70,122.85 L448.30,122.97 L448.90,122.64 L449.50,122.67 L450.10,122.89 L450.70,122.96 L451.30,122.86 L451.90,122.73 L452.50,122.83 L453.10,122.89 L453.70,122.66 L454.30,122.74 L454.90,122.71 L455.50,122.66 L456.10,122.79 L456.70,122.68 L457.30,122.71 L457.90,122.67 L458.50,122.86 L459.10,122.62 L459.70,122.88 L460.30,122.69 L460.90,122.63 L461.50,122.95 L462.10,122.70 L462.70,122.96 L463.30,122.93 L463.90,122.94 L464.50,122.67 L465.10,122.78 L465.70,122.65 L466.30,122.95 L466.90,122.92 L467.50,122.85 L468.10,122.78 L468.70,122.74 L469.30,122.92 L469.90,122.79 L470.50,122.85 L471.10,122.67 L471.70,122.70 L472.30,122.64 L472.90,122.88 L473.50,122.82 L474.10,122.67 L474.70,122.93 L475.30,122.72 L475.90,122.77 L476.50,122.68 L477.10,122.72 L477.70,122.92 L478.30,122.74 L478.90,122.68 L479.50,122.80 L480.10,122.73 L480.70,122.95 L481.30,122.66 L481.90,122.97 L482.50,122.64 L483.10,122.94 L483.70,122.86 L484.30,122.70 L484.90,122.79 L485.50,122.72 L486.10,122.71 L486.70,122.69 L487.30,122.80" stroke="#ff0000" stroke-width="1.7" fill="none" stroke-linejoin="round" stroke-linecap="round" />
<line x1="436.30" y1="90.50" x2="436.30" y2="126.00" stroke="#ff0000" stroke-width="2.0" stroke-linecap="butt"/>
<line x1="487.30" y1="88.30" x2="487.30" y2="129.30" stroke="#ff0000" stroke-width="2.0" stroke-linecap="butt"/>
<path d="M436,109.6 L432,109.8 Q430.3,111 430.6,114.5 L436,114.3 Z" stroke="#ff0000" stroke-width="1" fill="#ff0000" stroke-linejoin="round" stroke-linecap="round" />
<path d="M487.3,121.5 L498.3,121.5 L498.3,125.8 L490,125.6 L488.5,129 Z" stroke="#ff0000" stroke-width="1" fill="#ff0000" stroke-linejoin="round" stroke-linecap="round" />
<rect x="641" y="104" width="50.7" height="11" fill="#000"/>
<line x1="641.00" y1="104.00" x2="641.00" y2="116.50" stroke="#000" stroke-width="2.2" stroke-linecap="butt"/>
<line x1="691.50" y1="101.70" x2="691.50" y2="117.30" stroke="#000" stroke-width="2.2" stroke-linecap="butt"/>
<path d="M635.6,116.6 L636.5,111.2 L641,110.8" stroke="#000" stroke-width="2.2" fill="none" stroke-linejoin="round" stroke-linecap="round" />
<line x1="691.70" y1="114.70" x2="700.10" y2="114.70" stroke="#000" stroke-width="2.6" stroke-linecap="round"/>
<path d="M645,107 H688 M645,112.5 H688" stroke="#fff" stroke-width="0.5" stroke-dasharray="1.5 4" opacity="0.35"/>
<path d="M713.70,88.20 L714.30,88.02 L714.91,88.76 L715.51,88.76 L716.11,88.65 L716.72,87.65 L717.32,87.86 L717.92,88.58 L718.53,87.56 L719.13,88.34 L719.74,87.81 L720.34,88.62 L720.94,87.45 L721.55,88.38 L722.15,87.81 L722.75,87.56 L723.36,87.38 L723.96,88.36 L724.56,87.98 L725.17,87.55 L725.77,87.84 L726.37,88.40 L726.98,87.55 L727.58,87.96 L728.18,87.43 L728.79,87.46 L729.39,88.16 L730.00,88.07 L730.60,87.44 L731.20,87.29 L731.81,87.28 L732.41,87.89 L733.01,87.74 L733.62,87.46 L734.22,87.37 L734.82,87.84 L735.43,87.94 L736.03,88.05 L736.63,87.76 L737.24,87.29 L737.84,87.11 L738.44,87.90 L739.05,87.50 L739.65,87.86 L740.26,87.05 L740.86,87.94 L741.46,87.35 L742.07,87.95 L742.67,87.96 L743.27,87.50 L743.88,86.91 L744.48,87.97 L745.08,87.44 L745.69,87.90 L746.29,87.16 L746.89,87.05 L747.50,87.81 L748.10,87.24 L748.70,86.98 L749.31,87.21 L749.91,87.47 L750.52,86.74 L751.12,87.35 L751.72,87.25 L752.33,87.32 L752.93,86.83 L753.53,87.53 L754.14,87.63 L754.74,87.68 L755.34,87.01 L755.95,87.47 L756.55,87.06 L757.15,87.49 L757.76,86.64 L758.36,87.60 L758.96,87.69 L759.57,87.12 L760.17,87.13 L760.78,87.14 L761.38,87.13 L761.98,86.50 L762.59,87.62 L763.19,86.71 L763.79,86.65 L764.40,86.54 L765.00,87.00" stroke="#ff0000" stroke-width="1.9" fill="none" stroke-linejoin="round" stroke-linecap="round" />
<path d="M713.70,94.50 L714.30,94.25 L714.91,94.81 L715.51,94.02 L716.11,94.08 L716.72,94.68 L717.32,94.17 L717.92,93.98 L718.53,94.56 L719.13,94.53 L719.74,94.48 L720.34,94.65 L720.94,94.05 L721.55,94.81 L722.15,94.65 L722.75,93.97 L723.36,94.05 L723.96,94.41 L724.56,94.42 L725.17,94.19 L725.77,94.03 L726.37,94.31 L726.98,94.03 L727.58,94.48 L728.18,94.75 L728.79,94.03 L729.39,94.45 L730.00,94.62 L730.60,94.03 L731.20,94.69 L731.81,94.80 L732.41,94.24 L733.01,94.27 L733.62,94.68 L734.22,94.37 L734.82,94.23 L735.43,94.77 L736.03,94.60 L736.63,94.16 L737.24,94.06 L737.84,94.15 L738.44,94.24 L739.05,94.78 L739.65,94.60 L740.26,94.71 L740.86,94.60 L741.46,94.63 L742.07,93.83 L742.67,94.29 L743.27,94.73 L743.88,94.70 L744.48,94.01 L745.08,94.18 L745.69,94.38 L746.29,94.11 L746.89,94.27 L747.50,93.81 L748.10,94.16 L748.70,94.23 L749.31,93.74 L749.91,93.86 L750.52,94.68 L751.12,94.48 L751.72,94.64 L752.33,94.33 L752.93,94.50 L753.53,94.57 L754.14,94.57 L754.74,93.71 L755.34,94.32 L755.95,93.94 L756.55,94.34 L757.15,93.93 L757.76,94.20 L758.36,94.58 L758.96,94.27 L759.57,93.89 L760.17,94.16 L760.78,94.07 L761.38,94.58 L761.98,93.91 L762.59,93.92 L763.19,94.26 L763.79,93.73 L764.40,94.20 L765.00,94.10" stroke="#ff0000" stroke-width="1.9" fill="none" stroke-linejoin="round" stroke-linecap="round" />
<path d="M713.70,97.90 L714.30,98.35 L714.91,97.91 L715.51,97.66 L716.11,97.85 L716.72,97.92 L717.32,97.53 L717.92,97.50 L718.53,97.50 L719.13,97.66 L719.74,97.77 L720.34,97.65 L720.94,97.60 L721.55,97.44 L722.15,97.90 L722.75,98.19 L723.36,97.95 L723.96,97.91 L724.56,97.99 L725.17,97.53 L725.77,98.04 L726.37,97.79 L726.98,97.87 L727.58,97.93 L728.18,97.78 L728.79,97.62 L729.39,97.55 L730.00,97.53 L730.60,97.81 L731.20,97.68 L731.81,97.88 L732.41,97.30 L733.01,97.64 L733.62,98.15 L734.22,97.52 L734.82,97.83 L735.43,97.76 L736.03,97.55 L736.63,98.25 L737.24,97.56 L737.84,98.03 L738.44,97.41 L739.05,97.32 L739.65,98.12 L740.26,97.68 L740.86,97.30 L741.46,97.63 L742.07,97.67 L742.67,97.97 L743.27,97.34 L743.88,97.45 L744.48,98.18 L745.08,97.96 L745.69,97.37 L746.29,97.55 L746.89,97.56 L747.50,97.88 L748.10,97.82 L748.70,98.05 L749.31,98.01 L749.91,97.71 L750.52,97.92 L751.12,97.92 L751.72,97.94 L752.33,97.65 L752.93,97.96 L753.53,97.88 L754.14,98.08 L754.74,97.29 L755.34,98.03 L755.95,97.16 L756.55,97.92 L757.15,97.73 L757.76,97.64 L758.36,98.10 L758.96,97.71 L759.57,97.55 L760.17,97.91 L760.78,98.00 L761.38,97.73 L761.98,97.50 L762.59,97.57 L763.19,97.57 L763.79,97.83 L764.40,97.40 L765.00,97.60" stroke="#ff0000" stroke-width="1.9" fill="none" stroke-linejoin="round" stroke-linecap="round" />
<path d="M713.70,101.00 L714.30,100.90 L714.91,101.05 L715.51,100.90 L716.11,100.84 L716.72,101.26 L717.32,101.31 L717.92,101.00 L718.53,100.95 L719.13,100.72 L719.74,100.82 L720.34,100.68 L720.94,101.07 L721.55,101.07 L722.15,100.63 L722.75,101.38 L723.36,100.84 L723.96,101.31 L724.56,101.30 L725.17,101.41 L725.77,100.73 L726.37,100.93 L726.98,101.37 L727.58,100.56 L728.18,100.59 L728.79,101.06 L729.39,101.00 L730.00,101.38 L730.60,101.25 L731.20,101.03 L731.81,101.45 L732.41,101.02 L733.01,101.02 L733.62,101.17 L734.22,100.90 L734.82,100.87 L735.43,101.09 L736.03,100.87 L736.63,101.40 L737.24,101.16 L737.84,101.02 L738.44,100.64 L739.05,100.89 L739.65,100.91 L740.26,101.06 L740.86,101.07 L741.46,101.34 L742.07,101.42 L742.67,100.99 L743.27,100.95 L743.88,101.11 L744.48,101.45 L745.08,100.86 L745.69,101.03 L746.29,101.28 L746.89,100.70 L747.50,100.84 L748.10,101.43 L748.70,101.29 L749.31,101.01 L749.91,100.65 L750.52,101.36 L751.12,101.17 L751.72,101.29 L752.33,101.44 L752.93,101.35 L753.53,100.93 L754.14,100.69 L754.74,100.81 L755.34,101.01 L755.95,101.00 L756.55,100.72 L757.15,100.71 L757.76,101.12 L758.36,101.09 L758.96,100.87 L759.57,101.44 L760.17,101.12 L760.78,100.59 L761.38,100.92 L761.98,101.26 L762.59,100.83 L763.19,101.17 L763.79,100.55 L764.40,100.82 L765.00,101.00" stroke="#ff0000" stroke-width="1.9" fill="none" stroke-linejoin="round" stroke-linecap="round" />
<path d="M713.70,104.30 L714.30,104.57 L714.91,104.37 L715.51,104.43 L716.11,104.06 L716.72,104.30 L717.32,104.34 L717.92,104.11 L718.53,104.42 L719.13,104.33 L719.74,104.70 L720.34,104.36 L720.94,104.23 L721.55,104.00 L722.15,104.03 L722.75,104.51 L723.36,103.99 L723.96,103.98 L724.56,104.04 L725.17,104.32 L725.77,104.56 L726.37,104.39 L726.98,104.55 L727.58,103.95 L728.18,103.91 L728.79,104.52 L729.39,104.16 L730.00,104.47 L730.60,104.18 L731.20,104.04 L731.81,104.11 L732.41,103.98 L733.01,104.62 L733.62,104.37 L734.22,104.18 L734.82,104.26 L735.43,104.21 L736.03,103.94 L736.63,104.61 L737.24,104.37 L737.84,104.67 L738.44,104.25 L739.05,104.40 L739.65,104.10 L740.26,103.94 L740.86,104.64 L741.46,104.58 L742.07,104.15 L742.67,104.62 L743.27,104.55 L743.88,104.14 L744.48,104.38 L745.08,104.67 L745.69,104.30 L746.29,104.66 L746.89,104.09 L747.50,104.21 L748.10,104.47 L748.70,104.08 L749.31,104.15 L749.91,104.60 L750.52,104.29 L751.12,104.53 L751.72,104.09 L752.33,104.04 L752.93,104.19 L753.53,104.05 L754.14,104.68 L754.74,104.13 L755.34,104.35 L755.95,103.99 L756.55,104.33 L757.15,104.21 L757.76,104.22 L758.36,103.95 L758.96,104.00 L759.57,104.56 L760.17,104.18 L760.78,104.10 L761.38,104.05 L761.98,104.13 L762.59,104.09 L763.19,103.93 L763.79,104.43 L764.40,104.17 L765.00,104.30" stroke="#ff0000" stroke-width="1.9" fill="none" stroke-linejoin="round" stroke-linecap="round" />
<path d="M713.70,107.60 L714.30,107.32 L714.91,107.76 L715.51,107.27 L716.11,107.42 L716.72,107.87 L717.32,107.30 L717.92,107.55 L718.53,107.87 L719.13,107.84 L719.74,107.33 L720.34,107.48 L720.94,107.78 L721.55,107.50 L722.15,107.97 L722.75,107.37 L723.36,107.96 L723.96,107.60 L724.56,107.38 L725.17,107.56 L725.77,107.30 L726.37,107.77 L726.98,107.41 L727.58,107.92 L728.18,107.67 L728.79,107.49 L729.39,107.40 L730.00,107.69 L730.60,107.37 L731.20,107.90 L731.81,107.30 L732.41,107.61 L733.01,107.63 L733.62,107.42 L734.22,107.82 L734.82,107.51 L735.43,107.73 L736.03,107.65 L736.63,107.45 L737.24,107.51 L737.84,107.27 L738.44,107.34 L739.05,107.88 L739.65,107.46 L740.26,107.73 L740.86,107.29 L741.46,107.65 L742.07,107.49 L742.67,107.60 L743.27,107.44 L743.88,107.25 L744.48,107.45 L745.08,107.38 L745.69,107.30 L746.29,107.77 L746.89,107.43 L747.50,107.52 L748.10,107.93 L748.70,107.82 L749.31,107.91 L749.91,107.89 L750.52,107.31 L751.12,107.42 L751.72,107.22 L752.33,107.74 L752.93,107.73 L753.53,107.48 L754.14,107.53 L754.74,107.73 L755.34,107.76 L755.95,107.40 L756.55,107.88 L757.15,107.48 L757.76,107.70 L758.36,107.35 L758.96,107.29 L759.57,107.93 L760.17,107.79 L760.78,107.77 L761.38,107.23 L761.98,107.23 L762.59,107.33 L763.19,107.36 L763.79,107.44 L764.40,107.50 L765.00,107.60" stroke="#ff0000" stroke-width="1.9" fill="none" stroke-linejoin="round" stroke-linecap="round" />
<path d="M713.70,110.30 L714.30,109.98 L714.91,110.17 L715.51,110.40 L716.11,110.08 L716.72,110.54 L717.32,110.35 L717.92,110.45 L718.53,110.13 L719.13,110.25 L719.74,110.43 L720.34,110.19 L720.94,109.95 L721.55,110.53 L722.15,110.49 L722.75,110.15 L723.36,109.98 L723.96,110.55 L724.56,110.38 L725.17,109.98 L725.77,110.12 L726.37,110.03 L726.98,110.50 L727.58,110.10 L728.18,110.59 L728.79,110.47 L729.39,110.01 L730.00,110.44 L730.60,110.23 L731.20,110.47 L731.81,110.53 L732.41,110.15 L733.01,110.01 L733.62,110.61 L734.22,110.25 L734.82,110.60 L735.43,110.43 L736.03,110.47 L736.63,110.53 L737.24,110.39 L737.84,110.27 L738.44,109.99 L739.05,110.44 L739.65,110.25 L740.26,110.31 L740.86,110.60 L741.46,110.04 L742.07,110.48 L742.67,109.98 L743.27,110.44 L743.88,110.51 L744.48,110.13 L745.08,110.33 L745.69,110.63 L746.29,110.40 L746.89,110.33 L747.50,110.12 L748.10,109.99 L748.70,110.20 L749.31,110.24 L749.91,110.09 L750.52,110.17 L751.12,110.05 L751.72,110.44 L752.33,110.42 L752.93,110.12 L753.53,110.12 L754.14,110.31 L754.74,110.26 L755.34,110.61 L755.95,110.20 L756.55,110.16 L757.15,110.57 L757.76,110.05 L758.36,110.34 L758.96,110.18 L759.57,110.52 L760.17,110.33 L760.78,110.48 L761.38,110.07 L761.98,110.42 L762.59,110.37 L763.19,110.27 L763.79,110.49 L764.40,110.53 L765.00,110.30" stroke="#ff0000" stroke-width="1.9" fill="none" stroke-linejoin="round" stroke-linecap="round" />
<path d="M713.70,113.00 L714.30,112.73 L714.91,112.85 L715.51,112.90 L716.11,112.79 L716.72,112.69 L717.32,112.85 L717.92,112.79 L718.53,113.14 L719.13,112.96 L719.74,112.73 L720.34,112.88 L720.94,112.98 L721.55,112.90 L722.15,112.77 L722.75,112.70 L723.36,112.66 L723.96,113.34 L724.56,113.18 L725.17,112.71 L725.77,113.15 L726.37,113.34 L726.98,113.04 L727.58,112.73 L728.18,112.99 L728.79,112.95 L729.39,112.78 L730.00,113.03 L730.60,112.66 L731.20,113.29 L731.81,113.10 L732.41,113.09 L733.01,113.30 L733.62,113.11 L734.22,112.83 L734.82,112.82 L735.43,112.75 L736.03,112.67 L736.63,113.19 L737.24,113.24 L737.84,112.86 L738.44,112.78 L739.05,113.10 L739.65,113.24 L740.26,113.30 L740.86,112.77 L741.46,113.20 L742.07,113.23 L742.67,113.17 L743.27,112.88 L743.88,112.78 L744.48,113.23 L745.08,112.87 L745.69,112.91 L746.29,113.04 L746.89,112.91 L747.50,113.23 L748.10,112.82 L748.70,112.68 L749.31,113.05 L749.91,113.09 L750.52,113.22 L751.12,113.14 L751.72,113.28 L752.33,113.31 L752.93,113.00 L753.53,113.00 L754.14,112.76 L754.74,112.86 L755.34,113.06 L755.95,112.71 L756.55,113.13 L757.15,112.76 L757.76,112.96 L758.36,113.33 L758.96,112.71 L759.57,112.68 L760.17,112.96 L760.78,112.78 L761.38,113.16 L761.98,112.65 L762.59,113.24 L763.19,113.25 L763.79,113.20 L764.40,112.95 L765.00,113.00" stroke="#ff0000" stroke-width="1.9" fill="none" stroke-linejoin="round" stroke-linecap="round" />
<path d="M713.70,115.70 L714.30,115.57 L714.91,115.80 L715.51,115.71 L716.11,115.65 L716.72,115.60 L717.32,115.66 L717.92,115.80 L718.53,115.90 L719.13,115.94 L719.74,115.50 L720.34,115.58 L720.94,115.67 L721.55,115.74 L722.15,115.61 L722.75,115.52 L723.36,115.45 L723.96,115.59 L724.56,115.68 L725.17,115.98 L725.77,115.95 L726.37,115.92 L726.98,115.98 L727.58,115.98 L728.18,115.77 L728.79,115.89 L729.39,115.44 L730.00,115.81 L730.60,115.77 L731.20,115.58 L731.81,115.74 L732.41,115.97 L733.01,115.69 L733.62,115.79 L734.22,115.58 L734.82,115.61 L735.43,115.93 L736.03,115.42 L736.63,115.51 L737.24,115.81 L737.84,115.67 L738.44,115.45 L739.05,115.80 L739.65,115.62 L740.26,115.75 L740.86,115.65 L741.46,115.72 L742.07,115.74 L742.67,115.64 L743.27,115.47 L743.88,115.51 L744.48,115.93 L745.08,115.73 L745.69,115.47 L746.29,115.92 L746.89,115.55 L747.50,115.46 L748.10,115.72 L748.70,115.55 L749.31,115.69 L749.91,115.73 L750.52,115.54 L751.12,115.74 L751.72,115.47 L752.33,115.71 L752.93,115.75 L753.53,115.45 L754.14,115.64 L754.74,115.44 L755.34,115.66 L755.95,115.92 L756.55,115.73 L757.15,115.83 L757.76,115.85 L758.36,115.47 L758.96,115.99 L759.57,115.83 L760.17,115.46 L760.78,115.90 L761.38,115.64 L761.98,115.50 L762.59,115.98 L763.19,115.74 L763.79,115.86 L764.40,115.48 L765.00,115.70" stroke="#ff0000" stroke-width="1.9" fill="none" stroke-linejoin="round" stroke-linecap="round" />
<path d="M713.70,117.40 L714.30,117.57 L714.91,117.13 L715.51,117.24 L716.11,117.32 L716.72,117.11 L717.32,117.46 L717.92,117.23 L718.53,117.28 L719.13,117.52 L719.74,117.36 L720.34,117.63 L720.94,117.47 L721.55,117.62 L722.15,117.44 L722.75,117.65 L723.36,117.62 L723.96,117.20 L724.56,117.55 L725.17,117.30 L725.77,117.56 L726.37,117.51 L726.98,117.60 L727.58,117.17 L728.18,117.32 L728.79,117.54 L729.39,117.67 L730.00,117.53 L730.60,117.13 L731.20,117.46 L731.81,117.16 L732.41,117.43 L733.01,117.58 L733.62,117.17 L734.22,117.66 L734.82,117.51 L735.43,117.25 L736.03,117.22 L736.63,117.37 L737.24,117.60 L737.84,117.45 L738.44,117.17 L739.05,117.11 L739.65,117.17 L740.26,117.58 L740.86,117.21 L741.46,117.43 L742.07,117.27 L742.67,117.51 L743.27,117.33 L743.88,117.19 L744.48,117.63 L745.08,117.42 L745.69,117.51 L746.29,117.58 L746.89,117.67 L747.50,117.11 L748.10,117.31 L748.70,117.19 L749.31,117.40 L749.91,117.62 L750.52,117.58 L751.12,117.12 L751.72,117.21 L752.33,117.59 L752.93,117.51 L753.53,117.34 L754.14,117.39 L754.74,117.19 L755.34,117.61 L755.95,117.34 L756.55,117.62 L757.15,117.47 L757.76,117.15 L758.36,117.30 L758.96,117.23 L759.57,117.64 L760.17,117.45 L760.78,117.13 L761.38,117.20 L761.98,117.32 L762.59,117.38 L763.19,117.45 L763.79,117.33 L764.40,117.31 L765.00,117.40" stroke="#ff0000" stroke-width="1.9" fill="none" stroke-linejoin="round" stroke-linecap="round" />
<path d="M713.70,119.00 L714.30,118.70 L714.91,119.05 L715.51,118.90 L716.11,118.71 L716.72,118.98 L717.32,119.29 L717.92,118.73 L718.53,118.79 L719.13,119.10 L719.74,118.86 L720.34,118.86 L720.94,119.00 L721.55,118.86 L722.15,119.04 L722.75,119.02 L723.36,119.27 L723.96,119.30 L724.56,118.72 L725.17,119.04 L725.77,119.16 L726.37,119.22 L726.98,119.16 L727.58,119.08 L728.18,119.08 L728.79,118.92 L729.39,118.87 L730.00,119.18 L730.60,119.22 L731.20,119.26 L731.81,119.11 L732.41,118.88 L733.01,119.16 L733.62,119.14 L734.22,119.01 L734.82,119.08 L735.43,118.91 L736.03,119.03 L736.63,118.94 L737.24,118.74 L737.84,118.90 L738.44,118.89 L739.05,119.29 L739.65,118.99 L740.26,118.92 L740.86,118.85 L741.46,118.84 L742.07,118.91 L742.67,118.78 L743.27,118.70 L743.88,119.22 L744.48,118.97 L745.08,118.97 L745.69,119.04 L746.29,118.88 L746.89,118.80 L747.50,118.74 L748.10,118.88 L748.70,118.89 L749.31,119.14 L749.91,119.03 L750.52,119.26 L751.12,118.90 L751.72,119.25 L752.33,119.05 L752.93,118.75 L753.53,118.81 L754.14,119.05 L754.74,119.29 L755.34,118.91 L755.95,119.16 L756.55,118.96 L757.15,119.22 L757.76,118.74 L758.36,118.99 L758.96,119.24 L759.57,118.87 L760.17,118.85 L760.78,118.71 L761.38,118.80 L761.98,118.86 L762.59,119.12 L763.19,118.83 L763.79,118.94 L764.40,118.82 L765.00,119.00" stroke="#ff0000" stroke-width="1.9" fill="none" stroke-linejoin="round" stroke-linecap="round" />
<path d="M713.70,120.40 L714.30,120.46 L714.91,120.62 L715.51,120.49 L716.11,120.22 L716.72,120.54 L717.32,120.68 L717.92,120.46 L718.53,120.15 L719.13,120.59 L719.74,120.63 L720.34,120.30 L720.94,120.18 L721.55,120.21 L722.15,120.42 L722.75,120.63 L723.36,120.48 L723.96,120.65 L724.56,120.23 L725.17,120.30 L725.77,120.55 L726.37,120.49 L726.98,120.34 L727.58,120.51 L728.18,120.30 L728.79,120.13 L729.39,120.35 L730.00,120.13 L730.60,120.48 L731.20,120.30 L731.81,120.40 L732.41,120.46 L733.01,120.25 L733.62,120.38 L734.22,120.11 L734.82,120.66 L735.43,120.44 L736.03,120.69 L736.63,120.13 L737.24,120.47 L737.84,120.53 L738.44,120.30 L739.05,120.16 L739.65,120.19 L740.26,120.19 L740.86,120.56 L741.46,120.15 L742.07,120.59 L742.67,120.35 L743.27,120.42 L743.88,120.45 L744.48,120.43 L745.08,120.49 L745.69,120.46 L746.29,120.30 L746.89,120.54 L747.50,120.25 L748.10,120.53 L748.70,120.56 L749.31,120.57 L749.91,120.29 L750.52,120.56 L751.12,120.69 L751.72,120.37 L752.33,120.27 L752.93,120.41 L753.53,120.66 L754.14,120.18 L754.74,120.11 L755.34,120.39 L755.95,120.49 L756.55,120.56 L757.15,120.32 L757.76,120.69 L758.36,120.24 L758.96,120.55 L759.57,120.15 L760.17,120.12 L760.78,120.18 L761.38,120.14 L761.98,120.40 L762.59,120.43 L763.19,120.21 L763.79,120.66 L764.40,120.32 L765.00,120.40" stroke="#ff0000" stroke-width="1.9" fill="none" stroke-linejoin="round" stroke-linecap="round" />
<rect x="714.5" y="115.5" width="50" height="4" fill="#ff5050" opacity="0.8"/>
<line x1="713.70" y1="92.00" x2="713.70" y2="125.30" stroke="#ff0000" stroke-width="2.0" stroke-linecap="butt"/>
<line x1="765.00" y1="85.50" x2="765.00" y2="124.70" stroke="#ff0000" stroke-width="2.0" stroke-linecap="butt"/>
<path d="M713.8,92 Q714.5,88 718,87.5" stroke="#ff0000" stroke-width="2" fill="none" stroke-linejoin="round" stroke-linecap="round" />
<path d="M708,118.3 L708.4,109.6 Q709,108.4 713.7,108.4" stroke="#ff0000" stroke-width="2.4" fill="none" stroke-linejoin="round" stroke-linecap="round" />
<line x1="765.00" y1="121.00" x2="774.50" y2="121.00" stroke="#ff0000" stroke-width="2.6" stroke-linecap="round"/>
<line x1="153.40" y1="231.40" x2="153.40" y2="409.50" stroke="#000" stroke-width="2.3" stroke-linecap="butt"/>
<line x1="42.30" y1="374.00" x2="264.50" y2="374.00" stroke="#000" stroke-width="2.3" stroke-linecap="butt"/>
<line x1="145.80" y1="231.40" x2="161.00" y2="231.40" stroke="#000" stroke-width="2.3" stroke-linecap="butt"/>
<line x1="145.80" y1="267.02" x2="161.00" y2="267.02" stroke="#000" stroke-width="2.3" stroke-linecap="butt"/>
<line x1="145.80" y1="302.64" x2="161.00" y2="302.64" stroke="#000" stroke-width="2.3" stroke-linecap="butt"/>
<line x1="145.80" y1="338.26" x2="161.00" y2="338.26" stroke="#000" stroke-width="2.3" stroke-linecap="butt"/>
<line x1="145.80" y1="373.88" x2="161.00" y2="373.88" stroke="#000" stroke-width="2.3" stroke-linecap="butt"/>
<line x1="145.80" y1="409.50" x2="161.00" y2="409.50" stroke="#000" stroke-width="2.3" stroke-linecap="butt"/>
<line x1="42.30" y1="366.40" x2="42.30" y2="381.60" stroke="#000" stroke-width="2.3" stroke-linecap="butt"/>
<line x1="64.52" y1="366.40" x2="64.52" y2="381.60" stroke="#000" stroke-width="2.3" stroke-linecap="butt"/>
<line x1="86.74" y1="366.40" x2="86.74" y2="381.60" stroke="#000" stroke-width="2.3" stroke-linecap="butt"/>
<line x1="108.96" y1="366.40" x2="108.96" y2="381.60" stroke="#000" stroke-width="2.3" stroke-linecap="butt"/>
<line x1="131.18" y1="366.40" x2="131.18" y2="381.60" stroke="#000" stroke-width="2.3" stroke-linecap="butt"/>
<line x1="153.40" y1="366.40" x2="153.40" y2="381.60" stroke="#000" stroke-width="2.3" stroke-linecap="butt"/>
<line x1="175.62" y1="366.40" x2="175.62" y2="381.60" stroke="#000" stroke-width="2.3" stroke-linecap="butt"/>
<line x1="197.84" y1="366.40" x2="197.84" y2="381.60" stroke="#000" stroke-width="2.3" stroke-linecap="butt"/>
<line x1="220.06" y1="366.40" x2="220.06" y2="381.60" stroke="#000" stroke-width="2.3" stroke-linecap="butt"/>
<line x1="242.28" y1="366.40" x2="242.28" y2="381.60" stroke="#000" stroke-width="2.3" stroke-linecap="butt"/>
<line x1="264.50" y1="366.40" x2="264.50" y2="381.60" stroke="#000" stroke-width="2.3" stroke-linecap="butt"/>
<text x="124.92" y="239.31" font-size="22.4" fill="#000">8</text>
<text x="124.93" y="274.93" font-size="22.4" fill="#000">6</text>
<text x="124.60" y="310.55" font-size="22.4" fill="#000">4</text>
<text x="125.07" y="346.28" font-size="22.4" fill="#000">2</text>
<text x="117.61" y="418.72" font-size="22.4" fill="#000">-2</text>
<text x="16.27" y="364.68" font-size="22.3" fill="#000">-100</text>
<text x="228.28" y="405.18" font-size="22.3" fill="#000">+100</text>
<text x="219.38" y="429.42" font-size="22.5" fill="#000">V(mV)</text>
<text transform="translate(177.75,258.85) rotate(-90)" x="-27.23" y="5.69" font-size="22" fill="#000">I (nA)</text>
<circle cx="61.00" cy="247.20" r="7.00" fill="#fff" stroke="#000" stroke-width="1.6"/>
<circle cx="61.00" cy="269.90" r="7.00" fill="url(#pr)" stroke="#000" stroke-width="1.6"/>
<text x="77.13" y="252.92" font-size="20.5" fill="#000">con</text>
<text x="77.96" y="275.45" font-size="20.5" fill="#000">ATP</text>
<text x="80.23" y="296.99" font-size="21.8" fill="#000">(9)</text>
<path d="M42.30,381.30 L64.52,379.00 L86.74,375.90 L108.96,374.30 L131.18,373.00 L153.40,369.40 L175.62,366.30 L197.84,362.30 L220.06,359.20 L242.28,355.30 L264.50,351.40" stroke="#000" stroke-width="3" fill="none" stroke-linejoin="round" stroke-linecap="round" />
<circle cx="42.30" cy="381.30" r="5.70" fill="#fff" stroke="#000" stroke-width="2.0"/>
<circle cx="64.52" cy="379.00" r="5.70" fill="#fff" stroke="#000" stroke-width="2.0"/>
<circle cx="86.74" cy="375.90" r="5.70" fill="#fff" stroke="#000" stroke-width="2.0"/>
<circle cx="108.96" cy="374.30" r="5.70" fill="#fff" stroke="#000" stroke-width="2.0"/>
<circle cx="131.18" cy="373.00" r="5.70" fill="#fff" stroke="#000" stroke-width="2.0"/>
<circle cx="153.40" cy="369.40" r="5.70" fill="#fff" stroke="#000" stroke-width="2.0"/>
<circle cx="175.62" cy="366.30" r="5.70" fill="#fff" stroke="#000" stroke-width="2.0"/>
<circle cx="197.84" cy="362.30" r="5.70" fill="#fff" stroke="#000" stroke-width="2.0"/>
<circle cx="220.06" cy="359.20" r="5.70" fill="#fff" stroke="#000" stroke-width="2.0"/>
<circle cx="242.28" cy="355.30" r="5.70" fill="#fff" stroke="#000" stroke-width="2.0"/>
<circle cx="264.50" cy="351.40" r="5.70" fill="#fff" stroke="#000" stroke-width="2.0"/>
<line x1="42.30" y1="399.80" x2="42.30" y2="408.30" stroke="#ff0000" stroke-width="2.2" stroke-linecap="butt"/>
<line x1="35.80" y1="408.30" x2="48.80" y2="408.30" stroke="#ff0000" stroke-width="2.2" stroke-linecap="butt"/>
<line x1="64.52" y1="393.00" x2="64.52" y2="398.60" stroke="#ff0000" stroke-width="2.2" stroke-linecap="butt"/>
<line x1="58.02" y1="398.60" x2="71.02" y2="398.60" stroke="#ff0000" stroke-width="2.2" stroke-linecap="butt"/>
<line x1="175.62" y1="346.70" x2="175.62" y2="340.40" stroke="#ff0000" stroke-width="2.2" stroke-linecap="butt"/>
<line x1="169.12" y1="340.40" x2="182.12" y2="340.40" stroke="#ff0000" stroke-width="2.2" stroke-linecap="butt"/>
<line x1="197.84" y1="333.90" x2="197.84" y2="326.40" stroke="#ff0000" stroke-width="2.2" stroke-linecap="butt"/>
<line x1="191.34" y1="326.40" x2="204.34" y2="326.40" stroke="#ff0000" stroke-width="2.2" stroke-linecap="butt"/>
<line x1="220.06" y1="317.80" x2="220.06" y2="307.90" stroke="#ff0000" stroke-width="2.2" stroke-linecap="butt"/>
<line x1="213.56" y1="307.90" x2="226.56" y2="307.90" stroke="#ff0000" stroke-width="2.2" stroke-linecap="butt"/>
<line x1="242.28" y1="295.90" x2="242.28" y2="281.50" stroke="#ff0000" stroke-width="2.2" stroke-linecap="butt"/>
<line x1="235.78" y1="281.50" x2="248.78" y2="281.50" stroke="#ff0000" stroke-width="2.2" stroke-linecap="butt"/>
<line x1="264.50" y1="269.70" x2="264.50" y2="250.00" stroke="#ff0000" stroke-width="2.2" stroke-linecap="butt"/>
<line x1="258.00" y1="250.00" x2="271.00" y2="250.00" stroke="#ff0000" stroke-width="2.2" stroke-linecap="butt"/>
<path d="M42.30,399.80 L64.52,393.00 L86.74,384.80 L108.96,376.90 L131.18,368.30 L153.40,357.80 L175.62,346.70 L197.84,333.90 L220.06,317.80 L242.28,295.90 L264.50,269.70" stroke="#ff0000" stroke-width="3" fill="none" stroke-linejoin="round" stroke-linecap="round" />
<circle cx="42.30" cy="399.80" r="5.70" fill="#ff0000" stroke="#000" stroke-width="2.0"/>
<circle cx="64.52" cy="393.00" r="5.70" fill="#ff0000" stroke="#000" stroke-width="2.0"/>
<circle cx="86.74" cy="384.80" r="5.70" fill="#ff0000" stroke="#000" stroke-width="2.0"/>
<circle cx="108.96" cy="376.90" r="5.70" fill="#ff0000" stroke="#000" stroke-width="2.0"/>
<circle cx="131.18" cy="368.30" r="5.70" fill="#ff0000" stroke="#000" stroke-width="2.0"/>
<circle cx="153.40" cy="357.80" r="5.70" fill="#ff0000" stroke="#000" stroke-width="2.0"/>
<circle cx="175.62" cy="346.70" r="5.70" fill="#ff0000" stroke="#000" stroke-width="2.0"/>
<circle cx="197.84" cy="333.90" r="5.70" fill="#ff0000" stroke="#000" stroke-width="2.0"/>
<circle cx="220.06" cy="317.80" r="5.70" fill="#ff0000" stroke="#000" stroke-width="2.0"/>
<circle cx="242.28" cy="295.90" r="5.70" fill="#ff0000" stroke="#000" stroke-width="2.0"/>
<circle cx="264.50" cy="269.70" r="5.70" fill="#ff0000" stroke="#000" stroke-width="2.0"/>
<text x="258.43" y="254.97" font-size="25.5" fill="#000" stroke="#000" stroke-width="0.45">*</text>
<text x="235.43" y="287.07" font-size="25.5" fill="#000" stroke="#000" stroke-width="0.45">*</text>
<text x="214.63" y="312.07" font-size="25.5" fill="#000" stroke="#000" stroke-width="0.45">*</text>
<text x="191.93" y="332.37" font-size="25.5" fill="#000" stroke="#000" stroke-width="0.45">*</text>
<text x="170.53" y="342.57" font-size="25.5" fill="#000" stroke="#000" stroke-width="0.45">*</text>
<text x="148.43" y="356.87" font-size="25.5" fill="#000" stroke="#000" stroke-width="0.45">*</text>
<text x="36.73" y="432.37" font-size="25.5" fill="#000" stroke="#000" stroke-width="0.45">*</text>
<text x="58.03" y="420.07" font-size="25.5" fill="#000" stroke="#000" stroke-width="0.45">*</text>
<text x="80.43" y="414.87" font-size="25.5" fill="#000" stroke="#000" stroke-width="0.45">*</text>
<line x1="421.40" y1="231.50" x2="421.40" y2="409.50" stroke="#000" stroke-width="2.3" stroke-linecap="butt"/>
<line x1="310.40" y1="374.30" x2="532.40" y2="374.30" stroke="#000" stroke-width="2.3" stroke-linecap="butt"/>
<line x1="413.80" y1="231.50" x2="429.00" y2="231.50" stroke="#000" stroke-width="2.3" stroke-linecap="butt"/>
<line x1="413.80" y1="267.10" x2="429.00" y2="267.10" stroke="#000" stroke-width="2.3" stroke-linecap="butt"/>
<line x1="413.80" y1="302.70" x2="429.00" y2="302.70" stroke="#000" stroke-width="2.3" stroke-linecap="butt"/>
<line x1="413.80" y1="338.30" x2="429.00" y2="338.30" stroke="#000" stroke-width="2.3" stroke-linecap="butt"/>
<line x1="413.80" y1="373.90" x2="429.00" y2="373.90" stroke="#000" stroke-width="2.3" stroke-linecap="butt"/>
<line x1="413.80" y1="409.50" x2="429.00" y2="409.50" stroke="#000" stroke-width="2.3" stroke-linecap="butt"/>
<line x1="310.40" y1="366.70" x2="310.40" y2="381.90" stroke="#000" stroke-width="2.3" stroke-linecap="butt"/>
<line x1="332.60" y1="366.70" x2="332.60" y2="381.90" stroke="#000" stroke-width="2.3" stroke-linecap="butt"/>
<line x1="354.80" y1="366.70" x2="354.80" y2="381.90" stroke="#000" stroke-width="2.3" stroke-linecap="butt"/>
<line x1="377.00" y1="366.70" x2="377.00" y2="381.90" stroke="#000" stroke-width="2.3" stroke-linecap="butt"/>
<line x1="399.20" y1="366.70" x2="399.20" y2="381.90" stroke="#000" stroke-width="2.3" stroke-linecap="butt"/>
<line x1="421.40" y1="366.70" x2="421.40" y2="381.90" stroke="#000" stroke-width="2.3" stroke-linecap="butt"/>
<line x1="443.60" y1="366.70" x2="443.60" y2="381.90" stroke="#000" stroke-width="2.3" stroke-linecap="butt"/>
<line x1="465.80" y1="366.70" x2="465.80" y2="381.90" stroke="#000" stroke-width="2.3" stroke-linecap="butt"/>
<line x1="488.00" y1="366.70" x2="488.00" y2="381.90" stroke="#000" stroke-width="2.3" stroke-linecap="butt"/>
<line x1="510.20" y1="366.70" x2="510.20" y2="381.90" stroke="#000" stroke-width="2.3" stroke-linecap="butt"/>
<line x1="532.40" y1="366.70" x2="532.40" y2="381.90" stroke="#000" stroke-width="2.3" stroke-linecap="butt"/>
<text x="392.92" y="239.41" font-size="22.4" fill="#000">8</text>
<text x="392.93" y="275.01" font-size="22.4" fill="#000">6</text>
<text x="392.60" y="310.61" font-size="22.4" fill="#000">4</text>
<text x="393.07" y="346.32" font-size="22.4" fill="#000">2</text>
<text x="385.61" y="418.72" font-size="22.4" fill="#000">-2</text>
<text x="287.42" y="363.88" font-size="22.3" fill="#000">-100</text>
<text x="499.63" y="404.38" font-size="22.3" fill="#000">+100</text>
<text x="490.98" y="427.52" font-size="22.5" fill="#000">V(mV)</text>
<text transform="translate(448.70,247.30) rotate(-90)" x="-27.23" y="5.69" font-size="22" fill="#000">I (nA)</text>
<circle cx="330.80" cy="247.30" r="7.00" fill="#fff" stroke="#000" stroke-width="1.6"/>
<circle cx="330.80" cy="270.20" r="7.00" fill="url(#pr)" stroke="#000" stroke-width="1.6"/>
<text x="347.13" y="253.02" font-size="20.5" fill="#000">con</text>
<text x="347.96" y="275.75" font-size="20.5" fill="#000">ATP</text>
<text x="346.68" y="301.34" font-size="21.8" fill="#000">(7)</text>
<path d="M310.40,379.90 L332.60,378.40 L354.80,377.20 L377.00,375.50 L399.20,373.50 L421.40,369.00 L443.60,365.20 L465.80,361.70 L488.00,357.50 L510.20,352.80 L532.40,347.70" stroke="#ff0000" stroke-width="3" fill="none" stroke-linejoin="round" stroke-linecap="round" />
<circle cx="310.40" cy="379.90" r="5.70" fill="#ff0000" stroke="#000" stroke-width="2.0"/>
<circle cx="332.60" cy="378.40" r="5.70" fill="#ff0000" stroke="#000" stroke-width="2.0"/>
<circle cx="354.80" cy="377.20" r="5.70" fill="#ff0000" stroke="#000" stroke-width="2.0"/>
<circle cx="377.00" cy="375.50" r="5.70" fill="#ff0000" stroke="#000" stroke-width="2.0"/>
<circle cx="399.20" cy="373.50" r="5.70" fill="#ff0000" stroke="#000" stroke-width="2.0"/>
<circle cx="421.40" cy="369.00" r="5.70" fill="#ff0000" stroke="#000" stroke-width="2.0"/>
<circle cx="443.60" cy="365.20" r="5.70" fill="#ff0000" stroke="#000" stroke-width="2.0"/>
<circle cx="465.80" cy="361.70" r="5.70" fill="#ff0000" stroke="#000" stroke-width="2.0"/>
<circle cx="488.00" cy="357.50" r="5.70" fill="#ff0000" stroke="#000" stroke-width="2.0"/>
<circle cx="510.20" cy="352.80" r="5.70" fill="#ff0000" stroke="#000" stroke-width="2.0"/>
<circle cx="532.40" cy="347.70" r="5.70" fill="#ff0000" stroke="#000" stroke-width="2.0"/>
<path d="M310.40,377.90 L332.60,376.20 L354.80,375.00 L377.00,374.10 L399.20,372.10 L421.40,370.60 L443.60,369.40 L465.80,367.50 L488.00,364.00 L510.20,362.80 L532.40,360.50" stroke="#000" stroke-width="3" fill="none" stroke-linejoin="round" stroke-linecap="round" />
<circle cx="310.40" cy="377.90" r="5.70" fill="#fff" stroke="#000" stroke-width="2.0"/>
<circle cx="332.60" cy="376.20" r="5.70" fill="#fff" stroke="#000" stroke-width="2.0"/>
<circle cx="354.80" cy="375.00" r="5.70" fill="#fff" stroke="#000" stroke-width="2.0"/>
<circle cx="377.00" cy="374.10" r="5.70" fill="#fff" stroke="#000" stroke-width="2.0"/>
<circle cx="399.20" cy="372.10" r="5.70" fill="#fff" stroke="#000" stroke-width="2.0"/>
<circle cx="421.40" cy="370.60" r="5.70" fill="#fff" stroke="#000" stroke-width="2.0"/>
<circle cx="443.60" cy="369.40" r="5.70" fill="#fff" stroke="#000" stroke-width="2.0"/>
<circle cx="465.80" cy="367.50" r="5.70" fill="#fff" stroke="#000" stroke-width="2.0"/>
<circle cx="488.00" cy="364.00" r="5.70" fill="#fff" stroke="#000" stroke-width="2.0"/>
<circle cx="510.20" cy="362.80" r="5.70" fill="#fff" stroke="#000" stroke-width="2.0"/>
<circle cx="532.40" cy="360.50" r="5.70" fill="#fff" stroke="#000" stroke-width="2.0"/>
<text x="304.71" y="407.97" font-size="23" fill="#000" stroke="#000" stroke-width="0.55">#</text>
<text x="325.71" y="406.17" font-size="23" fill="#000" stroke="#000" stroke-width="0.55">#</text>
<text x="346.71" y="405.07" font-size="23" fill="#000" stroke="#000" stroke-width="0.55">#</text>
<text x="415.51" y="360.67" font-size="23" fill="#000" stroke="#000" stroke-width="0.55">#</text>
<text x="436.41" y="352.07" font-size="23" fill="#000" stroke="#000" stroke-width="0.55">#</text>
<text x="458.61" y="339.17" font-size="23" fill="#000" stroke="#000" stroke-width="0.55">#</text>
<text x="460.03" y="363.07" font-size="25.5" fill="#000" stroke="#000" stroke-width="0.45">*</text>
<text x="480.81" y="331.07" font-size="23" fill="#000" stroke="#000" stroke-width="0.55">#</text>
<text x="482.23" y="357.27" font-size="25.5" fill="#000" stroke="#000" stroke-width="0.45">*</text>
<text x="502.91" y="325.17" font-size="23" fill="#000" stroke="#000" stroke-width="0.55">#</text>
<text x="504.33" y="350.27" font-size="25.5" fill="#000" stroke="#000" stroke-width="0.45">*</text>
<text x="525.61" y="314.67" font-size="23" fill="#000" stroke="#000" stroke-width="0.55">#</text>
<text x="527.03" y="342.07" font-size="25.5" fill="#000" stroke="#000" stroke-width="0.45">*</text>
<line x1="699.30" y1="231.50" x2="699.30" y2="408.80" stroke="#000" stroke-width="2.3" stroke-linecap="butt"/>
<line x1="588.10" y1="374.00" x2="810.50" y2="374.00" stroke="#000" stroke-width="2.3" stroke-linecap="butt"/>
<line x1="691.70" y1="231.50" x2="706.90" y2="231.50" stroke="#000" stroke-width="2.3" stroke-linecap="butt"/>
<line x1="691.70" y1="266.96" x2="706.90" y2="266.96" stroke="#000" stroke-width="2.3" stroke-linecap="butt"/>
<line x1="691.70" y1="302.42" x2="706.90" y2="302.42" stroke="#000" stroke-width="2.3" stroke-linecap="butt"/>
<line x1="691.70" y1="337.88" x2="706.90" y2="337.88" stroke="#000" stroke-width="2.3" stroke-linecap="butt"/>
<line x1="691.70" y1="373.34" x2="706.90" y2="373.34" stroke="#000" stroke-width="2.3" stroke-linecap="butt"/>
<line x1="691.70" y1="408.80" x2="706.90" y2="408.80" stroke="#000" stroke-width="2.3" stroke-linecap="butt"/>
<line x1="588.10" y1="366.40" x2="588.10" y2="381.60" stroke="#000" stroke-width="2.3" stroke-linecap="butt"/>
<line x1="610.34" y1="366.40" x2="610.34" y2="381.60" stroke="#000" stroke-width="2.3" stroke-linecap="butt"/>
<line x1="632.58" y1="366.40" x2="632.58" y2="381.60" stroke="#000" stroke-width="2.3" stroke-linecap="butt"/>
<line x1="654.82" y1="366.40" x2="654.82" y2="381.60" stroke="#000" stroke-width="2.3" stroke-linecap="butt"/>
<line x1="677.06" y1="366.40" x2="677.06" y2="381.60" stroke="#000" stroke-width="2.3" stroke-linecap="butt"/>
<line x1="699.30" y1="366.40" x2="699.30" y2="381.60" stroke="#000" stroke-width="2.3" stroke-linecap="butt"/>
<line x1="721.54" y1="366.40" x2="721.54" y2="381.60" stroke="#000" stroke-width="2.3" stroke-linecap="butt"/>
<line x1="743.78" y1="366.40" x2="743.78" y2="381.60" stroke="#000" stroke-width="2.3" stroke-linecap="butt"/>
<line x1="766.02" y1="366.40" x2="766.02" y2="381.60" stroke="#000" stroke-width="2.3" stroke-linecap="butt"/>
<line x1="788.26" y1="366.40" x2="788.26" y2="381.60" stroke="#000" stroke-width="2.3" stroke-linecap="butt"/>
<line x1="810.50" y1="366.40" x2="810.50" y2="381.60" stroke="#000" stroke-width="2.3" stroke-linecap="butt"/>
<text x="670.82" y="239.41" font-size="22.4" fill="#000">8</text>
<text x="670.83" y="274.87" font-size="22.4" fill="#000">6</text>
<text x="670.50" y="310.33" font-size="22.4" fill="#000">4</text>
<text x="670.97" y="345.90" font-size="22.4" fill="#000">2</text>
<text x="663.51" y="418.02" font-size="22.4" fill="#000">-2</text>
<text x="563.87" y="362.93" font-size="22.3" fill="#000">-100</text>
<text x="776.88" y="402.58" font-size="22.3" fill="#000">+100</text>
<text x="769.68" y="426.97" font-size="22.5" fill="#000">V(mV)</text>
<text transform="translate(727.40,256.30) rotate(-90)" x="-27.23" y="5.69" font-size="22" fill="#000">I (nA)</text>
<circle cx="606.70" cy="241.50" r="7.00" fill="#fff" stroke="#000" stroke-width="1.6"/>
<circle cx="606.70" cy="264.10" r="7.00" fill="url(#pr)" stroke="#000" stroke-width="1.6"/>
<text x="622.63" y="247.22" font-size="20.5" fill="#000">con</text>
<text x="623.46" y="269.65" font-size="20.5" fill="#000">ATP</text>
<text x="625.43" y="294.39" font-size="21.8" fill="#000">(6)</text>
<line x1="810.50" y1="339.50" x2="810.50" y2="332.50" stroke="#ff0000" stroke-width="2.2" stroke-linecap="butt"/>
<line x1="804.00" y1="332.50" x2="817.00" y2="332.50" stroke="#ff0000" stroke-width="2.2" stroke-linecap="butt"/>
<path d="M588.10,381.50 L610.34,380.30 L632.58,376.80 L654.82,374.80 L677.06,372.50 L699.30,365.90 L721.54,362.80 L743.78,358.20 L766.02,352.80 L788.26,346.50 L810.50,339.50" stroke="#ff0000" stroke-width="3" fill="none" stroke-linejoin="round" stroke-linecap="round" />
<circle cx="588.10" cy="381.50" r="5.70" fill="#ff0000" stroke="#000" stroke-width="2.0"/>
<circle cx="610.34" cy="380.30" r="5.70" fill="#ff0000" stroke="#000" stroke-width="2.0"/>
<circle cx="632.58" cy="376.80" r="5.70" fill="#ff0000" stroke="#000" stroke-width="2.0"/>
<circle cx="654.82" cy="374.80" r="5.70" fill="#ff0000" stroke="#000" stroke-width="2.0"/>
<circle cx="677.06" cy="372.50" r="5.70" fill="#ff0000" stroke="#000" stroke-width="2.0"/>
<circle cx="699.30" cy="365.90" r="5.70" fill="#ff0000" stroke="#000" stroke-width="2.0"/>
<circle cx="721.54" cy="362.80" r="5.70" fill="#ff0000" stroke="#000" stroke-width="2.0"/>
<circle cx="743.78" cy="358.20" r="5.70" fill="#ff0000" stroke="#000" stroke-width="2.0"/>
<circle cx="766.02" cy="352.80" r="5.70" fill="#ff0000" stroke="#000" stroke-width="2.0"/>
<circle cx="788.26" cy="346.50" r="5.70" fill="#ff0000" stroke="#000" stroke-width="2.0"/>
<circle cx="810.50" cy="339.50" r="5.70" fill="#ff0000" stroke="#000" stroke-width="2.0"/>
<path d="M588.10,376.80 L610.34,376.10 L632.58,374.50 L654.82,373.30 L677.06,371.00 L699.30,370.50 L721.54,368.70 L743.78,366.80 L766.02,364.70 L788.26,362.80 L810.50,360.50" stroke="#000" stroke-width="3" fill="none" stroke-linejoin="round" stroke-linecap="round" />
<circle cx="588.10" cy="376.80" r="5.70" fill="#fff" stroke="#000" stroke-width="2.0"/>
<circle cx="610.34" cy="376.10" r="5.70" fill="#fff" stroke="#000" stroke-width="2.0"/>
<circle cx="632.58" cy="374.50" r="5.70" fill="#fff" stroke="#000" stroke-width="2.0"/>
<circle cx="654.82" cy="373.30" r="5.70" fill="#fff" stroke="#000" stroke-width="2.0"/>
<circle cx="677.06" cy="371.00" r="5.70" fill="#fff" stroke="#000" stroke-width="2.0"/>
<circle cx="699.30" cy="370.50" r="5.70" fill="#fff" stroke="#000" stroke-width="2.0"/>
<circle cx="721.54" cy="368.70" r="5.70" fill="#fff" stroke="#000" stroke-width="2.0"/>
<circle cx="743.78" cy="366.80" r="5.70" fill="#fff" stroke="#000" stroke-width="2.0"/>
<circle cx="766.02" cy="364.70" r="5.70" fill="#fff" stroke="#000" stroke-width="2.0"/>
<circle cx="788.26" cy="362.80" r="5.70" fill="#fff" stroke="#000" stroke-width="2.0"/>
<circle cx="810.50" cy="360.50" r="5.70" fill="#fff" stroke="#000" stroke-width="2.0"/>
<text x="581.61" y="409.17" font-size="23" fill="#000" stroke="#000" stroke-width="0.55">#</text>
<text x="603.31" y="406.87" font-size="23" fill="#000" stroke="#000" stroke-width="0.55">#</text>
<text x="626.41" y="402.17" font-size="23" fill="#000" stroke="#000" stroke-width="0.55">#</text>
<text x="691.31" y="360.17" font-size="23" fill="#000" stroke="#000" stroke-width="0.55">#</text>
<text x="714.61" y="356.67" font-size="23" fill="#000" stroke="#000" stroke-width="0.55">#</text>
<text x="735.61" y="338.07" font-size="23" fill="#000" stroke="#000" stroke-width="0.55">#</text>
<text x="737.03" y="359.57" font-size="25.5" fill="#000" stroke="#000" stroke-width="0.45">*</text>
<text x="758.91" y="327.57" font-size="23" fill="#000" stroke="#000" stroke-width="0.55">#</text>
<text x="760.33" y="352.57" font-size="25.5" fill="#000" stroke="#000" stroke-width="0.45">*</text>
<text x="781.11" y="315.87" font-size="23" fill="#000" stroke="#000" stroke-width="0.55">#</text>
<text x="782.53" y="343.27" font-size="25.5" fill="#000" stroke="#000" stroke-width="0.45">*</text>
<text x="803.31" y="307.67" font-size="23" fill="#000" stroke="#000" stroke-width="0.55">#</text>
<text x="804.73" y="333.87" font-size="25.5" fill="#000" stroke="#000" stroke-width="0.45">*</text>
<rect x="938.00" y="325.60" width="37.00" height="46.60" fill="#b3b3b3" stroke="#000" stroke-width="2.4"/>
<rect x="982.50" y="173.00" width="36.80" height="199.20" fill="#b3b3b3" stroke="#000" stroke-width="2.4"/>
<rect x="1026.50" y="350.40" width="37.50" height="21.80" fill="#b3b3b3" stroke="#000" stroke-width="2.4"/>
<rect x="1071.60" y="325.60" width="36.70" height="46.60" fill="#b3b3b3" stroke="#000" stroke-width="2.4"/>
<rect x="1115.80" y="348.70" width="36.80" height="23.50" fill="#b3b3b3" stroke="#000" stroke-width="2.4"/>
<rect x="1160.20" y="324.80" width="36.60" height="47.40" fill="#b3b3b3" stroke="#000" stroke-width="2.4"/>
<line x1="929.00" y1="104.30" x2="929.00" y2="373.00" stroke="#000" stroke-width="2.7" stroke-linecap="butt"/>
<line x1="919.00" y1="105.50" x2="929.00" y2="105.50" stroke="#000" stroke-width="2.7" stroke-linecap="butt"/>
<text x="871.65" y="113.37" font-size="22" fill="#000">400</text>
<line x1="919.00" y1="171.90" x2="929.00" y2="171.90" stroke="#000" stroke-width="2.7" stroke-linecap="butt"/>
<text x="871.65" y="179.77" font-size="22" fill="#000">300</text>
<line x1="919.00" y1="238.40" x2="929.00" y2="238.40" stroke="#000" stroke-width="2.7" stroke-linecap="butt"/>
<text x="871.65" y="246.27" font-size="22" fill="#000">200</text>
<line x1="919.00" y1="305.00" x2="929.00" y2="305.00" stroke="#000" stroke-width="2.7" stroke-linecap="butt"/>
<text x="871.65" y="312.87" font-size="22" fill="#000">100</text>
<line x1="919.00" y1="371.60" x2="929.00" y2="371.60" stroke="#000" stroke-width="2.7" stroke-linecap="butt"/>
<text x="896.12" y="379.47" font-size="22" fill="#000">0</text>
<line x1="940.20" y1="380.20" x2="1016.40" y2="380.20" stroke="#000" stroke-width="2.3" stroke-linecap="butt"/>
<line x1="1030.00" y1="380.20" x2="1105.40" y2="380.20" stroke="#000" stroke-width="2.3" stroke-linecap="butt"/>
<line x1="1119.40" y1="380.20" x2="1194.80" y2="380.20" stroke="#000" stroke-width="2.3" stroke-linecap="butt"/>
<text x="946.20" y="402.06" font-size="22" fill="#000">control</text>
<text x="1045.41" y="401.76" font-size="22" fill="#000">Niclo</text>
<text x="1135.77" y="401.46" font-size="22" fill="#000">Benz</text>
<text transform="translate(854.20,237.50) rotate(-90)" x="-49.00" y="6.46" font-size="25" fill="#000">I (pA/pF)</text>
<line x1="1001.00" y1="166.20" x2="1001.00" y2="172.20" stroke="#000" stroke-width="2" stroke-linecap="butt"/>
<line x1="997.00" y1="166.20" x2="1005.00" y2="166.20" stroke="#000" stroke-width="2" stroke-linecap="butt"/>
<line x1="956.00" y1="318.50" x2="956.00" y2="324.50" stroke="#000" stroke-width="2" stroke-linecap="butt"/>
<line x1="952.00" y1="318.50" x2="960.00" y2="318.50" stroke="#000" stroke-width="2" stroke-linecap="butt"/>
<line x1="1090.00" y1="318.80" x2="1090.00" y2="324.80" stroke="#000" stroke-width="2" stroke-linecap="butt"/>
<line x1="1086.00" y1="318.80" x2="1094.00" y2="318.80" stroke="#000" stroke-width="2" stroke-linecap="butt"/>
<line x1="1045.00" y1="345.50" x2="1045.00" y2="351.50" stroke="#000" stroke-width="2" stroke-linecap="butt"/>
<line x1="1041.00" y1="345.50" x2="1049.00" y2="345.50" stroke="#000" stroke-width="2" stroke-linecap="butt"/>
<line x1="1134.00" y1="343.50" x2="1134.00" y2="349.50" stroke="#000" stroke-width="2" stroke-linecap="butt"/>
<line x1="1130.00" y1="343.50" x2="1138.00" y2="343.50" stroke="#000" stroke-width="2" stroke-linecap="butt"/>
<line x1="1178.00" y1="318.50" x2="1178.00" y2="324.50" stroke="#000" stroke-width="2" stroke-linecap="butt"/>
<line x1="1174.00" y1="318.50" x2="1182.00" y2="318.50" stroke="#000" stroke-width="2" stroke-linecap="butt"/>
<circle cx="942.80" cy="317.30" r="5.00" fill="#000" stroke="#000" stroke-width="0.8"/>
<circle cx="949.80" cy="319.30" r="5.00" fill="#000" stroke="#000" stroke-width="0.8"/>
<circle cx="960.90" cy="314.90" r="5.00" fill="#000" stroke="#000" stroke-width="0.8"/>
<circle cx="970.30" cy="320.40" r="5.00" fill="#000" stroke="#000" stroke-width="0.8"/>
<circle cx="947.50" cy="326.80" r="5.00" fill="#000" stroke="#000" stroke-width="0.8"/>
<circle cx="955.10" cy="325.10" r="5.00" fill="#000" stroke="#000" stroke-width="0.8"/>
<circle cx="958.00" cy="333.80" r="5.00" fill="#000" stroke="#000" stroke-width="0.8"/>
<circle cx="964.80" cy="334.10" r="5.00" fill="#000" stroke="#000" stroke-width="0.8"/>
<circle cx="1035.60" cy="347.80" r="5.00" fill="#000" stroke="#000" stroke-width="0.8"/>
<circle cx="1040.80" cy="344.90" r="5.00" fill="#000" stroke="#000" stroke-width="0.8"/>
<circle cx="1047.30" cy="342.60" r="5.00" fill="#000" stroke="#000" stroke-width="0.8"/>
<circle cx="1054.80" cy="345.50" r="5.00" fill="#000" stroke="#000" stroke-width="0.8"/>
<circle cx="1048.40" cy="351.30" r="5.00" fill="#000" stroke="#000" stroke-width="0.8"/>
<circle cx="1045.50" cy="360.70" r="5.00" fill="#000" stroke="#000" stroke-width="0.8"/>
<circle cx="1133.80" cy="340.00" r="5.00" fill="#000" stroke="#000" stroke-width="0.8"/>
<circle cx="1142.40" cy="341.50" r="5.00" fill="#000" stroke="#000" stroke-width="0.8"/>
<circle cx="1129.10" cy="350.10" r="5.00" fill="#000" stroke="#000" stroke-width="0.8"/>
<circle cx="1135.40" cy="347.70" r="5.00" fill="#000" stroke="#000" stroke-width="0.8"/>
<circle cx="1142.40" cy="352.40" r="5.00" fill="#000" stroke="#000" stroke-width="0.8"/>
<circle cx="1133.80" cy="356.30" r="5.00" fill="#000" stroke="#000" stroke-width="0.8"/>
<circle cx="991.60" cy="141.00" r="5.00" fill="#ff0000" stroke="#000" stroke-width="1.4"/>
<circle cx="1001.00" cy="150.00" r="5.00" fill="#ff0000" stroke="#000" stroke-width="1.4"/>
<circle cx="1001.00" cy="158.00" r="5.00" fill="#ff0000" stroke="#000" stroke-width="1.4"/>
<circle cx="988.00" cy="179.00" r="5.00" fill="#ff0000" stroke="#000" stroke-width="1.4"/>
<circle cx="999.00" cy="174.00" r="5.00" fill="#ff0000" stroke="#000" stroke-width="1.4"/>
<circle cx="1010.00" cy="174.00" r="5.00" fill="#ff0000" stroke="#000" stroke-width="1.4"/>
<circle cx="992.00" cy="192.40" r="5.00" fill="#ff0000" stroke="#000" stroke-width="1.4"/>
<circle cx="996.40" cy="188.00" r="5.00" fill="#ff0000" stroke="#000" stroke-width="1.4"/>
<circle cx="1005.60" cy="199.00" r="5.00" fill="#ff0000" stroke="#000" stroke-width="1.4"/>
<circle cx="1090.00" cy="317.20" r="5.00" fill="#ff0000" stroke="#000" stroke-width="1.4"/>
<circle cx="1081.00" cy="315.40" r="5.00" fill="#ff0000" stroke="#000" stroke-width="1.4"/>
<circle cx="1091.60" cy="311.00" r="5.00" fill="#ff0000" stroke="#000" stroke-width="1.4"/>
<circle cx="1076.30" cy="323.50" r="5.00" fill="#ff0000" stroke="#000" stroke-width="1.4"/>
<circle cx="1085.00" cy="334.90" r="5.00" fill="#ff0000" stroke="#000" stroke-width="1.4"/>
<circle cx="1094.10" cy="339.10" r="5.00" fill="#ff0000" stroke="#000" stroke-width="1.4"/>
<circle cx="1098.20" cy="332.40" r="5.00" fill="#ff0000" stroke="#000" stroke-width="1.4"/>
<circle cx="1177.90" cy="310.20" r="5.00" fill="#ff0000" stroke="#000" stroke-width="1.4"/>
<circle cx="1187.00" cy="312.90" r="5.00" fill="#ff0000" stroke="#000" stroke-width="1.4"/>
<circle cx="1178.40" cy="323.50" r="5.00" fill="#ff0000" stroke="#000" stroke-width="1.4"/>
<circle cx="1174.20" cy="328.20" r="5.00" fill="#ff0000" stroke="#000" stroke-width="1.4"/>
<circle cx="1187.00" cy="331.00" r="5.00" fill="#ff0000" stroke="#000" stroke-width="1.4"/>
<circle cx="1178.30" cy="338.00" r="5.00" fill="#ff0000" stroke="#000" stroke-width="1.4"/>
<text x="993.53" y="129.77" font-size="25.5" fill="#000" stroke="#000" stroke-width="0.45">*</text>
<text x="1079.51" y="280.87" font-size="23" fill="#000" stroke="#000" stroke-width="0.55">#</text>
<text x="1081.13" y="308.87" font-size="25.5" fill="#000" stroke="#000" stroke-width="0.45">*</text>
<text x="1171.11" y="284.37" font-size="23" fill="#000" stroke="#000" stroke-width="0.55">#</text>
<text x="1172.53" y="308.47" font-size="25.5" fill="#000" stroke="#000" stroke-width="0.45">*</text>
<circle cx="1077.60" cy="117.60" r="7.20" fill="#000" stroke="#000" stroke-width="1"/>
<circle cx="1078.00" cy="145.00" r="7.20" fill="#ff0000" stroke="#000" stroke-width="1.5"/>
<text x="1095.11" y="122.71" font-size="22" fill="#000">con</text>
<text x="1095.67" y="153.57" font-size="22" fill="#000">ATP</text>
<text x="1140.78" y="139.19" font-size="22" fill="#000">(6-9)</text>
<rect x="939.60" y="863.10" width="36.70" height="31.90" fill="#b3b3b3" stroke="#000" stroke-width="2.4"/>
<rect x="983.80" y="647.60" width="36.50" height="247.40" fill="#b3b3b3" stroke="#000" stroke-width="2.4"/>
<rect x="1028.50" y="872.20" width="36.10" height="22.80" fill="#b3b3b3" stroke="#000" stroke-width="2.4"/>
<rect x="1072.70" y="782.00" width="36.30" height="113.00" fill="#b3b3b3" stroke="#000" stroke-width="2.4"/>
<rect x="1117.00" y="871.10" width="36.00" height="23.90" fill="#b3b3b3" stroke="#000" stroke-width="2.4"/>
<rect x="1161.40" y="750.10" width="36.50" height="144.90" fill="#b3b3b3" stroke="#000" stroke-width="2.4"/>
<line x1="929.50" y1="627.40" x2="929.50" y2="895.80" stroke="#000" stroke-width="2.7" stroke-linecap="butt"/>
<line x1="919.50" y1="628.60" x2="929.50" y2="628.60" stroke="#000" stroke-width="2.7" stroke-linecap="butt"/>
<text x="872.15" y="636.47" font-size="22" fill="#000">600</text>
<line x1="919.50" y1="717.60" x2="929.50" y2="717.60" stroke="#000" stroke-width="2.7" stroke-linecap="butt"/>
<text x="872.15" y="725.47" font-size="22" fill="#000">400</text>
<line x1="919.50" y1="806.20" x2="929.50" y2="806.20" stroke="#000" stroke-width="2.7" stroke-linecap="butt"/>
<text x="872.15" y="814.07" font-size="22" fill="#000">200</text>
<line x1="919.50" y1="894.80" x2="929.50" y2="894.80" stroke="#000" stroke-width="2.7" stroke-linecap="butt"/>
<text x="896.62" y="902.67" font-size="22" fill="#000">0</text>
<line x1="941.70" y1="903.60" x2="1016.60" y2="903.60" stroke="#000" stroke-width="2.3" stroke-linecap="butt"/>
<line x1="1031.30" y1="903.60" x2="1106.20" y2="903.60" stroke="#000" stroke-width="2.3" stroke-linecap="butt"/>
<line x1="1120.10" y1="903.60" x2="1195.50" y2="903.60" stroke="#000" stroke-width="2.3" stroke-linecap="butt"/>
<text x="947.10" y="925.36" font-size="22" fill="#000">control</text>
<text x="1046.36" y="925.16" font-size="22" fill="#000">Niclo</text>
<text x="1136.57" y="924.86" font-size="22" fill="#000">Benz</text>
<text transform="translate(855.00,761.50) rotate(-90)" x="-49.00" y="6.46" font-size="25" fill="#000">I (pA/pF)</text>
<line x1="1085.30" y1="775.80" x2="1085.30" y2="781.80" stroke="#000" stroke-width="2" stroke-linecap="butt"/>
<line x1="1080.30" y1="775.80" x2="1090.30" y2="775.80" stroke="#000" stroke-width="2" stroke-linecap="butt"/>
<line x1="1002.00" y1="640.50" x2="1002.00" y2="646.50" stroke="#000" stroke-width="2" stroke-linecap="butt"/>
<line x1="997.00" y1="640.50" x2="1007.00" y2="640.50" stroke="#000" stroke-width="2" stroke-linecap="butt"/>
<circle cx="961.50" cy="848.80" r="5.00" fill="#000" stroke="#000" stroke-width="0.8"/>
<circle cx="971.20" cy="857.10" r="5.00" fill="#000" stroke="#000" stroke-width="0.8"/>
<circle cx="948.00" cy="861.60" r="5.00" fill="#000" stroke="#000" stroke-width="0.8"/>
<circle cx="953.60" cy="864.60" r="5.00" fill="#000" stroke="#000" stroke-width="0.8"/>
<circle cx="959.30" cy="866.10" r="5.00" fill="#000" stroke="#000" stroke-width="0.8"/>
<circle cx="966.50" cy="868.40" r="5.00" fill="#000" stroke="#000" stroke-width="0.8"/>
<circle cx="943.00" cy="860.50" r="5.00" fill="#000" stroke="#000" stroke-width="0.8"/>
<circle cx="1035.50" cy="868.00" r="5.00" fill="#000" stroke="#000" stroke-width="0.8"/>
<circle cx="1042.50" cy="866.10" r="5.00" fill="#000" stroke="#000" stroke-width="0.8"/>
<circle cx="1055.60" cy="865.00" r="5.00" fill="#000" stroke="#000" stroke-width="0.8"/>
<circle cx="1050.40" cy="871.80" r="5.00" fill="#000" stroke="#000" stroke-width="0.8"/>
<circle cx="1046.60" cy="881.20" r="5.00" fill="#000" stroke="#000" stroke-width="0.8"/>
<circle cx="1131.40" cy="867.30" r="5.00" fill="#000" stroke="#000" stroke-width="0.8"/>
<circle cx="1144.90" cy="864.60" r="5.00" fill="#000" stroke="#000" stroke-width="0.8"/>
<circle cx="1135.20" cy="874.00" r="5.00" fill="#000" stroke="#000" stroke-width="0.8"/>
<circle cx="1144.20" cy="875.10" r="5.00" fill="#000" stroke="#000" stroke-width="0.8"/>
<circle cx="1140.40" cy="869.50" r="5.00" fill="#000" stroke="#000" stroke-width="0.8"/>
<circle cx="1001.80" cy="623.60" r="4.70" fill="#0000ff" stroke="#000" stroke-width="1.3"/>
<circle cx="1011.30" cy="621.40" r="4.70" fill="#0000ff" stroke="#000" stroke-width="1.3"/>
<circle cx="997.20" cy="641.60" r="4.70" fill="#0000ff" stroke="#000" stroke-width="1.3"/>
<circle cx="1006.50" cy="641.60" r="4.70" fill="#0000ff" stroke="#000" stroke-width="1.3"/>
<circle cx="999.50" cy="659.70" r="4.70" fill="#0000ff" stroke="#000" stroke-width="1.3"/>
<circle cx="1009.20" cy="665.70" r="4.70" fill="#0000ff" stroke="#000" stroke-width="1.3"/>
<circle cx="1004.30" cy="674.50" r="4.70" fill="#0000ff" stroke="#000" stroke-width="1.3"/>
<circle cx="1081.90" cy="750.90" r="4.70" fill="#0000ff" stroke="#000" stroke-width="1.3"/>
<circle cx="1099.70" cy="779.90" r="4.70" fill="#0000ff" stroke="#000" stroke-width="1.3"/>
<circle cx="1092.80" cy="781.30" r="4.70" fill="#0000ff" stroke="#000" stroke-width="1.3"/>
<circle cx="1086.00" cy="788.10" r="4.70" fill="#0000ff" stroke="#000" stroke-width="1.3"/>
<circle cx="1091.50" cy="788.80" r="4.70" fill="#0000ff" stroke="#000" stroke-width="1.3"/>
<circle cx="1095.30" cy="799.10" r="4.70" fill="#0000ff" stroke="#000" stroke-width="1.3"/>
<circle cx="1179.30" cy="729.30" r="4.70" fill="#0000ff" stroke="#000" stroke-width="1.3"/>
<circle cx="1179.30" cy="741.30" r="4.70" fill="#0000ff" stroke="#000" stroke-width="1.3"/>
<circle cx="1188.60" cy="741.30" r="4.70" fill="#0000ff" stroke="#000" stroke-width="1.3"/>
<circle cx="1188.60" cy="748.40" r="4.70" fill="#0000ff" stroke="#000" stroke-width="1.3"/>
<circle cx="1179.30" cy="763.80" r="4.70" fill="#0000ff" stroke="#000" stroke-width="1.3"/>
<circle cx="1175.20" cy="770.30" r="4.70" fill="#0000ff" stroke="#000" stroke-width="1.3"/>
<text x="999.83" y="605.07" font-size="25.5" fill="#000" stroke="#000" stroke-width="0.45">*</text>
<text x="1083.71" y="721.47" font-size="23" fill="#000" stroke="#000" stroke-width="0.55">#</text>
<text x="1085.33" y="749.47" font-size="25.5" fill="#000" stroke="#000" stroke-width="0.45">*</text>
<text x="1174.71" y="701.57" font-size="23" fill="#000" stroke="#000" stroke-width="0.55">#</text>
<text x="1176.83" y="725.67" font-size="25.5" fill="#000" stroke="#000" stroke-width="0.45">*</text>
<circle cx="1083.40" cy="642.50" r="7.20" fill="#000" stroke="#000" stroke-width="1"/>
<circle cx="1084.00" cy="669.70" r="7.40" fill="#0000ff" stroke="#000" stroke-width="1.5"/>
<text x="1096.26" y="644.61" font-size="22" fill="#000">con</text>
<text x="1096.29" y="677.96" font-size="22" fill="#000">Iono</text>
<text x="1141.53" y="662.49" font-size="22" fill="#000">(6-7)</text>
<text x="90.24" y="493.54" font-size="25" fill="#000">control</text>
<text x="380.65" y="494.71" font-size="25.5" fill="#000">Niclo</text>
<text x="649.23" y="493.95" font-size="25.5" fill="#000">Benz</text>
<text x="83.33" y="760.50" font-size="25" fill="#000">con</text>
<text x="153.29" y="763.28" font-size="25" fill="#000">Iono</text>
<text x="350.98" y="759.50" font-size="25" fill="#000">con</text>
<text x="421.04" y="761.98" font-size="25" fill="#000">Iono</text>
<text x="629.23" y="759.80" font-size="25" fill="#000">con</text>
<text x="696.49" y="761.98" font-size="25" fill="#000">Iono</text>
<path d="M249.6,602.1 L249.6,629.1 L298,629.1" stroke="#000" stroke-width="2.3" fill="none" stroke-linejoin="round" stroke-linecap="round" />
<text transform="translate(234.00,608.50) rotate(-90)" x="-23.76" y="7.67" font-size="22.3" fill="#000">1 nA</text>
<text x="252.18" y="647.76" font-size="22.3" fill="#000">1 s</text>
<rect x="76.30" y="643.50" width="51.00" height="6.10" fill="#000"/>
<path d="M76.30,620.50 L76.90,619.49 L77.50,618.76 L78.10,618.34 L78.70,617.85 L79.30,617.07 L79.90,616.60 L80.50,616.54 L81.10,616.01 L81.70,616.04 L82.30,615.61 L82.90,615.47 L83.50,615.17 L84.10,615.20 L84.70,614.93 L85.30,614.77 L85.90,614.90 L86.50,614.49 L87.10,614.67 L87.70,614.33 L88.30,614.51 L88.90,614.36 L89.50,614.50 L90.10,614.14 L90.70,614.31 L91.30,614.22 L91.90,614.39 L92.50,614.38 L93.10,614.23 L93.70,614.05 L94.30,614.05 L94.90,614.04 L95.50,614.10 L96.10,614.00 L96.70,613.98 L97.30,614.20 L97.90,614.14 L98.50,614.00 L99.10,614.27 L99.70,613.95 L100.30,614.09 L100.90,613.92 L101.50,614.20 L102.10,614.20 L102.70,613.95 L103.30,614.14 L103.90,614.17 L104.50,613.95 L105.10,613.97 L105.70,614.02 L106.30,614.18 L106.90,613.89 L107.50,614.10 L108.10,614.06 L108.70,614.00 L109.30,614.05 L109.90,614.17 L110.50,613.90 L111.10,614.17 L111.70,613.96 L112.30,614.13 L112.90,614.16 L113.50,613.89 L114.10,614.16 L114.70,614.21 L115.30,613.93 L115.90,613.82 L116.50,613.85 L117.10,614.20 L117.70,613.81 L118.30,614.17 L118.90,613.87 L119.50,614.10 L120.10,613.85 L120.70,613.87 L121.30,614.08 L121.90,613.84 L122.50,613.94 L123.10,614.17 L123.70,614.09 L124.30,614.16 L124.90,614.20 L125.50,613.82 L126.10,613.90 L126.70,614.12 L127.30,614.00" stroke="#000" stroke-width="2.3" fill="none" stroke-linejoin="round" stroke-linecap="round" />
<path d="M76.30,624.30 L76.90,623.76 L77.50,622.91 L78.10,622.69 L78.70,622.18 L79.30,621.96 L79.90,621.53 L80.50,621.26 L81.10,621.56 L81.70,621.06 L82.30,621.21 L82.90,620.72 L83.50,620.80 L84.10,620.55 L84.70,620.63 L85.30,620.45 L85.90,620.65 L86.50,620.34 L87.10,620.60 L87.70,620.45 L88.30,620.24 L88.90,620.34 L89.50,620.39 L90.10,620.59 L90.70,620.29 L91.30,620.21 L91.90,620.58 L92.50,620.53 L93.10,620.45 L93.70,620.21 L94.30,620.16 L94.90,620.20 L95.50,620.10 L96.10,620.09 L96.70,620.32 L97.30,620.26 L97.90,620.34 L98.50,620.24 L99.10,620.06 L99.70,620.40 L100.30,620.38 L100.90,620.33 L101.50,620.33 L102.10,620.40 L102.70,620.54 L103.30,620.49 L103.90,620.41 L104.50,620.25 L105.10,620.21 L105.70,620.26 L106.30,620.54 L106.90,620.24 L107.50,620.24 L108.10,620.26 L108.70,620.12 L109.30,620.55 L109.90,620.05 L110.50,620.35 L111.10,620.51 L111.70,620.18 L112.30,620.36 L112.90,620.24 L113.50,620.17 L114.10,620.15 L114.70,620.11 L115.30,620.47 L115.90,620.44 L116.50,620.50 L117.10,620.07 L117.70,620.40 L118.30,620.21 L118.90,620.37 L119.50,620.32 L120.10,620.21 L120.70,620.54 L121.30,620.05 L121.90,620.42 L122.50,620.48 L123.10,620.31 L123.70,620.35 L124.30,620.55 L124.90,620.17 L125.50,620.36 L126.10,620.42 L126.70,620.24 L127.30,620.30" stroke="#000" stroke-width="2.3" fill="none" stroke-linejoin="round" stroke-linecap="round" />
<path d="M76.30,628.20 L76.90,627.85 L77.50,627.32 L78.10,627.09 L78.70,626.88 L79.30,626.71 L79.90,626.36 L80.50,626.38 L81.10,626.23 L81.70,625.97 L82.30,626.09 L82.90,625.86 L83.50,626.13 L84.10,625.87 L84.70,625.96 L85.30,625.84 L85.90,625.79 L86.50,625.64 L87.10,625.59 L87.70,625.97 L88.30,625.76 L88.90,625.75 L89.50,625.74 L90.10,625.88 L90.70,625.59 L91.30,625.55 L91.90,625.87 L92.50,625.69 L93.10,625.78 L93.70,625.87 L94.30,625.90 L94.90,625.89 L95.50,625.48 L96.10,625.64 L96.70,625.87 L97.30,625.86 L97.90,625.51 L98.50,625.53 L99.10,625.58 L99.70,625.50 L100.30,625.63 L100.90,625.85 L101.50,625.71 L102.10,625.68 L102.70,625.49 L103.30,625.65 L103.90,625.95 L104.50,625.80 L105.10,625.67 L105.70,625.69 L106.30,625.85 L106.90,625.83 L107.50,625.53 L108.10,625.79 L108.70,625.63 L109.30,625.71 L109.90,625.57 L110.50,625.64 L111.10,625.62 L111.70,625.64 L112.30,625.46 L112.90,625.55 L113.50,625.74 L114.10,625.48 L114.70,625.54 L115.30,625.81 L115.90,625.59 L116.50,625.61 L117.10,625.57 L117.70,625.87 L118.30,625.50 L118.90,625.77 L119.50,625.88 L120.10,625.55 L120.70,625.66 L121.30,625.85 L121.90,625.76 L122.50,625.64 L123.10,625.47 L123.70,625.67 L124.30,625.63 L124.90,625.81 L125.50,625.60 L126.10,625.65 L126.70,625.77 L127.30,625.70" stroke="#000" stroke-width="2.3" fill="none" stroke-linejoin="round" stroke-linecap="round" />
<path d="M76.30,632.20 L76.90,632.08 L77.50,631.63 L78.10,631.47 L78.70,631.41 L79.30,631.46 L79.90,631.00 L80.50,631.31 L81.10,631.11 L81.70,630.88 L82.30,630.99 L82.90,630.78 L83.50,630.62 L84.10,630.94 L84.70,630.73 L85.30,630.79 L85.90,630.76 L86.50,630.95 L87.10,630.87 L87.70,630.50 L88.30,630.77 L88.90,630.70 L89.50,630.70 L90.10,630.88 L90.70,630.67 L91.30,630.70 L91.90,630.90 L92.50,630.68 L93.10,630.70 L93.70,630.71 L94.30,630.87 L94.90,630.79 L95.50,630.82 L96.10,630.65 L96.70,630.47 L97.30,630.79 L97.90,630.73 L98.50,630.84 L99.10,630.84 L99.70,630.51 L100.30,630.56 L100.90,630.49 L101.50,630.86 L102.10,630.50 L102.70,630.49 L103.30,630.83 L103.90,630.73 L104.50,630.48 L105.10,630.79 L105.70,630.81 L106.30,630.69 L106.90,630.48 L107.50,630.80 L108.10,630.66 L108.70,630.74 L109.30,630.95 L109.90,630.86 L110.50,630.89 L111.10,630.52 L111.70,630.62 L112.30,630.71 L112.90,630.45 L113.50,630.94 L114.10,630.59 L114.70,630.58 L115.30,630.61 L115.90,630.58 L116.50,630.88 L117.10,630.73 L117.70,630.71 L118.30,630.66 L118.90,630.48 L119.50,630.60 L120.10,630.88 L120.70,630.85 L121.30,630.88 L121.90,630.58 L122.50,630.55 L123.10,630.48 L123.70,630.72 L124.30,630.64 L124.90,630.68 L125.50,630.69 L126.10,630.74 L126.70,630.63 L127.30,630.70" stroke="#000" stroke-width="2.3" fill="none" stroke-linejoin="round" stroke-linecap="round" />
<path d="M76.30,635.60 L76.90,635.57 L77.50,635.12 L78.10,635.36 L78.70,635.08 L79.30,634.74 L79.90,634.81 L80.50,634.86 L81.10,634.76 L81.70,634.80 L82.30,634.65 L82.90,634.60 L83.50,634.84 L84.10,634.57 L84.70,634.77 L85.30,634.80 L85.90,634.69 L86.50,634.61 L87.10,634.84 L87.70,634.59 L88.30,634.81 L88.90,634.39 L89.50,634.58 L90.10,634.68 L90.70,634.38 L91.30,634.79 L91.90,634.39 L92.50,634.65 L93.10,634.44 L93.70,634.81 L94.30,634.63 L94.90,634.75 L95.50,634.60 L96.10,634.69 L96.70,634.69 L97.30,634.50 L97.90,634.46 L98.50,634.77 L99.10,634.42 L99.70,634.81 L100.30,634.45 L100.90,634.40 L101.50,634.40 L102.10,634.74 L102.70,634.83 L103.30,634.56 L103.90,634.68 L104.50,634.48 L105.10,634.80 L105.70,634.69 L106.30,634.43 L106.90,634.38 L107.50,634.70 L108.10,634.37 L108.70,634.77 L109.30,634.50 L109.90,634.47 L110.50,634.64 L111.10,634.51 L111.70,634.63 L112.30,634.43 L112.90,634.81 L113.50,634.51 L114.10,634.77 L114.70,634.43 L115.30,634.75 L115.90,634.84 L116.50,634.55 L117.10,634.37 L117.70,634.54 L118.30,634.67 L118.90,634.46 L119.50,634.62 L120.10,634.40 L120.70,634.58 L121.30,634.71 L121.90,634.56 L122.50,634.69 L123.10,634.41 L123.70,634.76 L124.30,634.41 L124.90,634.81 L125.50,634.85 L126.10,634.82 L126.70,634.61 L127.30,634.60" stroke="#000" stroke-width="2.3" fill="none" stroke-linejoin="round" stroke-linecap="round" />
<path d="M76.30,637.70 L76.90,637.60 L77.50,637.62 L78.10,637.83 L78.70,637.70 L79.30,637.91 L79.90,637.50 L80.50,637.69 L81.10,637.88 L81.70,637.75 L82.30,637.72 L82.90,637.49 L83.50,637.52 L84.10,637.59 L84.70,637.90 L85.30,637.87 L85.90,637.56 L86.50,637.91 L87.10,637.47 L87.70,637.75 L88.30,637.93 L88.90,637.62 L89.50,637.92 L90.10,637.78 L90.70,637.48 L91.30,637.62 L91.90,637.67 L92.50,637.57 L93.10,637.82 L93.70,637.54 L94.30,637.84 L94.90,637.60 L95.50,637.48 L96.10,637.73 L96.70,637.50 L97.30,637.73 L97.90,637.84 L98.50,637.75 L99.10,637.68 L99.70,637.47 L100.30,637.71 L100.90,637.50 L101.50,637.77 L102.10,637.52 L102.70,637.74 L103.30,637.63 L103.90,637.64 L104.50,637.78 L105.10,637.53 L105.70,637.53 L106.30,637.92 L106.90,637.62 L107.50,637.87 L108.10,637.89 L108.70,637.69 L109.30,637.52 L109.90,637.50 L110.50,637.89 L111.10,637.51 L111.70,637.70 L112.30,637.72 L112.90,637.51 L113.50,637.68 L114.10,637.53 L114.70,637.72 L115.30,637.70 L115.90,637.63 L116.50,637.55 L117.10,637.65 L117.70,637.55 L118.30,637.51 L118.90,637.57 L119.50,637.89 L120.10,637.70 L120.70,637.90 L121.30,637.46 L121.90,637.92 L122.50,637.69 L123.10,637.85 L123.70,637.74 L124.30,637.79 L124.90,637.56 L125.50,637.83 L126.10,637.53 L126.70,637.58 L127.30,637.70" stroke="#000" stroke-width="2.3" fill="none" stroke-linejoin="round" stroke-linecap="round" />
<path d="M76.30,640.30 L76.90,640.11 L77.50,640.26 L78.10,640.31 L78.70,640.22 L79.30,640.46 L79.90,640.13 L80.50,640.33 L81.10,640.19 L81.70,640.34 L82.30,640.41 L82.90,640.38 L83.50,640.12 L84.10,640.20 L84.70,640.34 L85.30,640.49 L85.90,640.12 L86.50,640.35 L87.10,640.38 L87.70,640.43 L88.30,640.24 L88.90,640.42 L89.50,640.28 L90.10,640.47 L90.70,640.10 L91.30,640.48 L91.90,640.26 L92.50,640.26 L93.10,640.14 L93.70,640.20 L94.30,640.39 L94.90,640.37 L95.50,640.16 L96.10,640.24 L96.70,640.16 L97.30,640.18 L97.90,640.19 L98.50,640.23 L99.10,640.49 L99.70,640.50 L100.30,640.42 L100.90,640.29 L101.50,640.30 L102.10,640.41 L102.70,640.46 L103.30,640.40 L103.90,640.35 L104.50,640.18 L105.10,640.35 L105.70,640.44 L106.30,640.41 L106.90,640.14 L107.50,640.39 L108.10,640.24 L108.70,640.16 L109.30,640.49 L109.90,640.37 L110.50,640.40 L111.10,640.15 L111.70,640.43 L112.30,640.47 L112.90,640.46 L113.50,640.40 L114.10,640.43 L114.70,640.42 L115.30,640.34 L115.90,640.27 L116.50,640.43 L117.10,640.41 L117.70,640.45 L118.30,640.22 L118.90,640.48 L119.50,640.31 L120.10,640.48 L120.70,640.15 L121.30,640.49 L121.90,640.41 L122.50,640.20 L123.10,640.44 L123.70,640.19 L124.30,640.18 L124.90,640.28 L125.50,640.19 L126.10,640.30 L126.70,640.46 L127.30,640.30" stroke="#000" stroke-width="2.3" fill="none" stroke-linejoin="round" stroke-linecap="round" />
<path d="M76.30,642.80 L76.90,642.87 L77.50,642.88 L78.10,642.76 L78.70,642.91 L79.30,642.92 L79.90,642.87 L80.50,642.98 L81.10,642.93 L81.70,642.76 L82.30,642.63 L82.90,642.86 L83.50,642.93 L84.10,642.74 L84.70,642.84 L85.30,642.93 L85.90,642.92 L86.50,642.60 L87.10,642.80 L87.70,642.61 L88.30,642.64 L88.90,642.92 L89.50,642.77 L90.10,642.84 L90.70,642.78 L91.30,642.73 L91.90,642.69 L92.50,642.74 L93.10,642.94 L93.70,642.85 L94.30,642.72 L94.90,642.64 L95.50,642.71 L96.10,642.88 L96.70,642.78 L97.30,642.86 L97.90,642.92 L98.50,642.65 L99.10,642.87 L99.70,642.62 L100.30,642.93 L100.90,642.67 L101.50,642.71 L102.10,642.98 L102.70,642.74 L103.30,642.69 L103.90,642.96 L104.50,642.84 L105.10,642.96 L105.70,642.76 L106.30,642.80 L106.90,642.98 L107.50,642.80 L108.10,643.00 L108.70,642.68 L109.30,642.93 L109.90,642.66 L110.50,642.81 L111.10,642.60 L111.70,642.67 L112.30,642.98 L112.90,642.78 L113.50,642.92 L114.10,642.70 L114.70,642.74 L115.30,642.64 L115.90,642.82 L116.50,642.94 L117.10,642.81 L117.70,642.75 L118.30,642.97 L118.90,642.96 L119.50,642.87 L120.10,642.63 L120.70,642.85 L121.30,642.78 L121.90,642.98 L122.50,642.74 L123.10,642.86 L123.70,642.85 L124.30,642.75 L124.90,642.81 L125.50,642.87 L126.10,642.96 L126.70,642.80 L127.30,642.80" stroke="#000" stroke-width="2.3" fill="none" stroke-linejoin="round" stroke-linecap="round" />
<path d="M76.30,645.40 L76.90,645.35 L77.50,645.59 L78.10,645.22 L78.70,645.53 L79.30,645.47 L79.90,645.42 L80.50,645.38 L81.10,645.50 L81.70,645.56 L82.30,645.49 L82.90,645.50 L83.50,645.21 L84.10,645.33 L84.70,645.25 L85.30,645.58 L85.90,645.56 L86.50,645.26 L87.10,645.44 L87.70,645.43 L88.30,645.22 L88.90,645.36 L89.50,645.50 L90.10,645.46 L90.70,645.31 L91.30,645.50 L91.90,645.32 L92.50,645.42 L93.10,645.37 L93.70,645.59 L94.30,645.46 L94.90,645.52 L95.50,645.47 L96.10,645.35 L96.70,645.59 L97.30,645.48 L97.90,645.48 L98.50,645.31 L99.10,645.26 L99.70,645.43 L100.30,645.53 L100.90,645.52 L101.50,645.34 L102.10,645.26 L102.70,645.41 L103.30,645.55 L103.90,645.26 L104.50,645.50 L105.10,645.27 L105.70,645.32 L106.30,645.22 L106.90,645.32 L107.50,645.35 L108.10,645.59 L108.70,645.58 L109.30,645.27 L109.90,645.32 L110.50,645.58 L111.10,645.28 L111.70,645.33 L112.30,645.38 L112.90,645.24 L113.50,645.30 L114.10,645.36 L114.70,645.35 L115.30,645.59 L115.90,645.31 L116.50,645.28 L117.10,645.56 L117.70,645.38 L118.30,645.53 L118.90,645.45 L119.50,645.51 L120.10,645.33 L120.70,645.26 L121.30,645.50 L121.90,645.39 L122.50,645.42 L123.10,645.47 L123.70,645.50 L124.30,645.31 L124.90,645.35 L125.50,645.57 L126.10,645.41 L126.70,645.32 L127.30,645.40" stroke="#000" stroke-width="2.3" fill="none" stroke-linejoin="round" stroke-linecap="round" />
<path d="M76.30,647.60 L76.90,647.65 L77.50,647.50 L78.10,647.71 L78.70,647.42 L79.30,647.73 L79.90,647.63 L80.50,647.54 L81.10,647.78 L81.70,647.51 L82.30,647.50 L82.90,647.43 L83.50,647.62 L84.10,647.70 L84.70,647.67 L85.30,647.57 L85.90,647.72 L86.50,647.44 L87.10,647.52 L87.70,647.66 L88.30,647.79 L88.90,647.65 L89.50,647.68 L90.10,647.71 L90.70,647.56 L91.30,647.78 L91.90,647.70 L92.50,647.54 L93.10,647.56 L93.70,647.72 L94.30,647.54 L94.90,647.47 L95.50,647.75 L96.10,647.61 L96.70,647.61 L97.30,647.67 L97.90,647.76 L98.50,647.45 L99.10,647.54 L99.70,647.43 L100.30,647.57 L100.90,647.60 L101.50,647.74 L102.10,647.67 L102.70,647.63 L103.30,647.56 L103.90,647.63 L104.50,647.51 L105.10,647.74 L105.70,647.72 L106.30,647.74 L106.90,647.46 L107.50,647.67 L108.10,647.70 L108.70,647.60 L109.30,647.76 L109.90,647.76 L110.50,647.70 L111.10,647.73 L111.70,647.66 L112.30,647.75 L112.90,647.45 L113.50,647.68 L114.10,647.68 L114.70,647.64 L115.30,647.51 L115.90,647.43 L116.50,647.64 L117.10,647.73 L117.70,647.51 L118.30,647.49 L118.90,647.49 L119.50,647.44 L120.10,647.67 L120.70,647.79 L121.30,647.72 L121.90,647.54 L122.50,647.68 L123.10,647.43 L123.70,647.74 L124.30,647.53 L124.90,647.40 L125.50,647.65 L126.10,647.46 L126.70,647.51 L127.30,647.60" stroke="#000" stroke-width="2.3" fill="none" stroke-linejoin="round" stroke-linecap="round" />
<line x1="76.30" y1="616.20" x2="76.30" y2="649.60" stroke="#000" stroke-width="2.4" stroke-linecap="butt"/>
<line x1="127.30" y1="614.20" x2="127.30" y2="649.60" stroke="#000" stroke-width="2.4" stroke-linecap="butt"/>
<line x1="70.30" y1="639.30" x2="76.30" y2="639.30" stroke="#000" stroke-width="3.0" stroke-linecap="round"/>
<line x1="127.30" y1="649.00" x2="138.20" y2="649.00" stroke="#000" stroke-width="3.6" stroke-linecap="round"/>
<path d="M127.6,649 Q128.2,656 128.6,656.3 Q129.5,652 131,650.5" stroke="#000" stroke-width="2.2" fill="none" stroke-linejoin="round" stroke-linecap="round" />
<path d="M156.70,527.00 L157.30,522.17 L157.90,518.80 L158.51,516.02 L159.11,513.93 L159.71,511.69 L160.31,510.76 L160.92,509.21 L161.52,508.40 L162.12,507.93 L162.72,507.20 L163.33,506.74 L163.93,506.52 L164.53,506.01 L165.13,506.12 L165.74,505.58 L166.34,505.80 L166.94,505.64 L167.54,505.37 L168.14,504.97 L168.75,505.34 L169.35,504.82 L169.95,505.05 L170.55,504.95 L171.16,504.69 L171.76,504.99 L172.36,505.01 L172.96,504.89 L173.57,504.75 L174.17,504.79 L174.77,504.81 L175.37,504.57 L175.98,504.93 L176.58,504.98 L177.18,504.85 L177.78,504.92 L178.38,504.53 L178.99,504.90 L179.59,504.34 L180.19,504.56 L180.79,504.34 L181.40,504.52 L182.00,504.64 L182.60,504.65 L183.20,504.48 L183.81,504.40 L184.41,504.30 L185.01,504.41 L185.61,504.33 L186.22,504.27 L186.82,504.58 L187.42,504.44 L188.02,504.39 L188.62,504.23 L189.23,504.53 L189.83,504.22 L190.43,504.25 L191.03,504.42 L191.64,504.50 L192.24,504.65 L192.84,504.51 L193.44,504.62 L194.05,504.60 L194.65,504.48 L195.25,504.47 L195.85,504.07 L196.46,504.15 L197.06,504.03 L197.66,504.54 L198.26,504.45 L198.86,504.39 L199.47,504.16 L200.07,504.21 L200.67,504.09 L201.27,504.37 L201.88,504.58 L202.48,504.17 L203.08,504.01 L203.68,504.08 L204.29,504.19 L204.89,504.51 L205.49,504.45 L206.09,504.24 L206.70,504.03 L207.30,504.03 L207.90,504.26" stroke="#0000ff" stroke-width="2.2" fill="none" stroke-linejoin="round" stroke-linecap="round" />
<path d="M156.70,543.30 L157.30,541.63 L157.90,540.84 L158.51,539.74 L159.11,539.32 L159.71,538.68 L160.31,538.14 L160.92,537.58 L161.52,537.48 L162.12,536.82 L162.72,536.61 L163.33,536.72 L163.93,536.55 L164.53,536.26 L165.13,536.19 L165.74,535.97 L166.34,536.44 L166.94,536.27 L167.54,536.36 L168.14,536.34 L168.75,535.97 L169.35,536.12 L169.95,535.88 L170.55,536.11 L171.16,536.11 L171.76,535.66 L172.36,535.57 L172.96,535.67 L173.57,535.88 L174.17,535.74 L174.77,535.51 L175.37,535.99 L175.98,535.95 L176.58,535.74 L177.18,535.48 L177.78,535.98 L178.38,535.76 L178.99,535.47 L179.59,535.62 L180.19,535.79 L180.79,535.94 L181.40,535.69 L182.00,535.78 L182.60,535.51 L183.20,535.53 L183.81,535.92 L184.41,535.60 L185.01,535.43 L185.61,535.72 L186.22,535.44 L186.82,535.48 L187.42,535.63 L188.02,535.70 L188.62,535.73 L189.23,535.77 L189.83,535.61 L190.43,535.38 L191.03,535.77 L191.64,535.37 L192.24,535.62 L192.84,535.57 L193.44,535.73 L194.05,535.76 L194.65,535.47 L195.25,535.72 L195.85,535.74 L196.46,535.61 L197.06,535.41 L197.66,535.87 L198.26,535.68 L198.86,535.36 L199.47,535.46 L200.07,535.91 L200.67,535.45 L201.27,535.55 L201.88,535.79 L202.48,535.81 L203.08,535.69 L203.68,535.76 L204.29,535.33 L204.89,535.37 L205.49,535.89 L206.09,535.79 L206.70,535.33 L207.30,535.34 L207.90,535.61" stroke="#0000ff" stroke-width="2.2" fill="none" stroke-linejoin="round" stroke-linecap="round" />
<path d="M156.70,566.90 L157.30,566.08 L157.90,565.94 L158.51,565.07 L159.11,564.96 L159.71,564.81 L160.31,564.38 L160.92,564.34 L161.52,563.77 L162.12,563.56 L162.72,563.35 L163.33,563.70 L163.93,563.22 L164.53,563.67 L165.13,563.45 L165.74,563.09 L166.34,563.42 L166.94,562.99 L167.54,563.17 L168.14,562.90 L168.75,563.29 L169.35,563.33 L169.95,563.32 L170.55,562.76 L171.16,563.26 L171.76,563.07 L172.36,563.22 L172.96,563.02 L173.57,563.08 L174.17,563.05 L174.77,563.17 L175.37,562.73 L175.98,562.71 L176.58,563.00 L177.18,562.84 L177.78,562.90 L178.38,562.66 L178.99,563.10 L179.59,562.67 L180.19,563.15 L180.79,563.13 L181.40,562.92 L182.00,562.71 L182.60,563.03 L183.20,562.76 L183.81,562.89 L184.41,562.70 L185.01,563.22 L185.61,562.96 L186.22,562.84 L186.82,562.68 L187.42,563.06 L188.02,563.13 L188.62,563.13 L189.23,562.68 L189.83,562.84 L190.43,562.80 L191.03,563.07 L191.64,562.70 L192.24,562.98 L192.84,563.20 L193.44,563.07 L194.05,562.62 L194.65,562.66 L195.25,562.68 L195.85,563.03 L196.46,562.97 L197.06,562.92 L197.66,562.88 L198.26,562.85 L198.86,562.97 L199.47,563.00 L200.07,563.16 L200.67,563.05 L201.27,563.08 L201.88,563.15 L202.48,563.11 L203.08,563.03 L203.68,562.62 L204.29,563.01 L204.89,563.11 L205.49,562.86 L206.09,563.13 L206.70,562.71 L207.30,563.17 L207.90,562.90" stroke="#0000ff" stroke-width="2.2" fill="none" stroke-linejoin="round" stroke-linecap="round" />
<path d="M156.70,590.30 L157.30,589.90 L157.90,589.76 L158.51,589.25 L159.11,589.08 L159.71,588.94 L160.31,588.79 L160.92,588.55 L161.52,588.67 L162.12,588.92 L162.72,588.66 L163.33,588.78 L163.93,588.64 L164.53,588.65 L165.13,588.72 L165.74,588.55 L166.34,588.25 L166.94,588.22 L167.54,588.30 L168.14,588.06 L168.75,588.17 L169.35,588.56 L169.95,588.58 L170.55,588.22 L171.16,588.48 L171.76,588.48 L172.36,588.54 L172.96,588.49 L173.57,588.33 L174.17,588.07 L174.77,588.50 L175.37,588.19 L175.98,588.38 L176.58,588.22 L177.18,588.32 L177.78,588.58 L178.38,588.10 L178.99,588.32 L179.59,588.39 L180.19,588.32 L180.79,588.56 L181.40,588.25 L182.00,588.55 L182.60,588.41 L183.20,588.58 L183.81,588.05 L184.41,588.13 L185.01,588.17 L185.61,588.54 L186.22,588.01 L186.82,588.16 L187.42,588.43 L188.02,588.59 L188.62,588.11 L189.23,588.26 L189.83,588.41 L190.43,588.41 L191.03,588.45 L191.64,588.45 L192.24,588.15 L192.84,588.15 L193.44,588.02 L194.05,588.41 L194.65,588.13 L195.25,588.16 L195.85,588.58 L196.46,588.39 L197.06,588.35 L197.66,588.39 L198.26,588.36 L198.86,588.42 L199.47,588.18 L200.07,588.04 L200.67,588.04 L201.27,588.01 L201.88,588.22 L202.48,588.09 L203.08,588.07 L203.68,588.30 L204.29,588.58 L204.89,588.41 L205.49,588.16 L206.09,588.46 L206.70,588.11 L207.30,588.06 L207.90,588.30" stroke="#0000ff" stroke-width="2.2" fill="none" stroke-linejoin="round" stroke-linecap="round" />
<path d="M156.70,611.90 L157.30,611.60 L157.90,611.51 L158.51,611.56 L159.11,611.31 L159.71,611.40 L160.31,610.96 L160.92,611.40 L161.52,611.01 L162.12,611.26 L162.72,610.75 L163.33,611.21 L163.93,610.83 L164.53,611.19 L165.13,611.14 L165.74,611.05 L166.34,610.81 L166.94,610.64 L167.54,610.74 L168.14,611.16 L168.75,610.71 L169.35,611.01 L169.95,610.96 L170.55,611.01 L171.16,610.72 L171.76,610.69 L172.36,610.66 L172.96,611.19 L173.57,610.83 L174.17,610.99 L174.77,610.94 L175.37,610.74 L175.98,610.64 L176.58,610.61 L177.18,611.11 L177.78,610.68 L178.38,611.18 L178.99,610.82 L179.59,611.03 L180.19,610.68 L180.79,611.07 L181.40,610.75 L182.00,610.82 L182.60,610.91 L183.20,610.67 L183.81,610.75 L184.41,611.08 L185.01,610.77 L185.61,610.83 L186.22,611.06 L186.82,610.73 L187.42,610.72 L188.02,610.73 L188.62,610.83 L189.23,610.82 L189.83,610.98 L190.43,610.88 L191.03,611.12 L191.64,610.63 L192.24,611.00 L192.84,611.10 L193.44,610.74 L194.05,610.62 L194.65,610.86 L195.25,610.67 L195.85,610.88 L196.46,611.03 L197.06,610.66 L197.66,610.67 L198.26,610.89 L198.86,610.70 L199.47,610.74 L200.07,610.86 L200.67,610.67 L201.27,610.64 L201.88,610.82 L202.48,610.88 L203.08,611.16 L203.68,610.93 L204.29,610.64 L204.89,610.73 L205.49,611.05 L206.09,610.94 L206.70,611.12 L207.30,611.18 L207.90,610.90" stroke="#0000ff" stroke-width="2.2" fill="none" stroke-linejoin="round" stroke-linecap="round" />
<path d="M156.70,631.60 L157.30,631.81 L157.90,631.37 L158.51,631.87 L159.11,631.61 L159.71,631.44 L160.31,631.40 L160.92,631.82 L161.52,631.43 L162.12,631.35 L162.72,631.46 L163.33,631.85 L163.93,631.58 L164.53,631.74 L165.13,631.34 L165.74,631.57 L166.34,631.49 L166.94,631.42 L167.54,631.70 L168.14,631.52 L168.75,631.37 L169.35,631.89 L169.95,631.59 L170.55,631.41 L171.16,631.31 L171.76,631.69 L172.36,631.61 L172.96,631.31 L173.57,631.58 L174.17,631.74 L174.77,631.62 L175.37,631.44 L175.98,631.60 L176.58,631.66 L177.18,631.69 L177.78,631.39 L178.38,631.78 L178.99,631.87 L179.59,631.74 L180.19,631.81 L180.79,631.52 L181.40,631.84 L182.00,631.41 L182.60,631.44 L183.20,631.66 L183.81,631.84 L184.41,631.35 L185.01,631.43 L185.61,631.32 L186.22,631.56 L186.82,631.38 L187.42,631.41 L188.02,631.75 L188.62,631.65 L189.23,631.86 L189.83,631.54 L190.43,631.71 L191.03,631.31 L191.64,631.87 L192.24,631.44 L192.84,631.59 L193.44,631.61 L194.05,631.87 L194.65,631.60 L195.25,631.90 L195.85,631.67 L196.46,631.43 L197.06,631.80 L197.66,631.42 L198.26,631.90 L198.86,631.57 L199.47,631.44 L200.07,631.88 L200.67,631.49 L201.27,631.54 L201.88,631.51 L202.48,631.70 L203.08,631.31 L203.68,631.52 L204.29,631.40 L204.89,631.80 L205.49,631.30 L206.09,631.66 L206.70,631.45 L207.30,631.57 L207.90,631.60" stroke="#0000ff" stroke-width="2.2" fill="none" stroke-linejoin="round" stroke-linecap="round" />
<path d="M156.70,650.00 L157.30,650.04 L157.90,650.13 L158.51,649.78 L159.11,649.84 L159.71,649.77 L160.31,650.28 L160.92,649.79 L161.52,649.78 L162.12,650.01 L162.72,650.05 L163.33,650.23 L163.93,649.73 L164.53,649.84 L165.13,649.80 L165.74,650.05 L166.34,649.97 L166.94,649.95 L167.54,650.23 L168.14,650.10 L168.75,650.22 L169.35,650.27 L169.95,649.86 L170.55,650.27 L171.16,649.94 L171.76,649.73 L172.36,650.25 L172.96,649.76 L173.57,649.71 L174.17,649.87 L174.77,649.87 L175.37,650.28 L175.98,650.22 L176.58,649.95 L177.18,650.02 L177.78,650.21 L178.38,650.18 L178.99,650.09 L179.59,650.01 L180.19,649.77 L180.79,649.85 L181.40,650.09 L182.00,650.05 L182.60,650.18 L183.20,650.24 L183.81,650.28 L184.41,649.82 L185.01,649.75 L185.61,650.24 L186.22,650.04 L186.82,649.81 L187.42,650.12 L188.02,649.85 L188.62,649.84 L189.23,649.92 L189.83,650.01 L190.43,650.11 L191.03,649.74 L191.64,650.14 L192.24,650.07 L192.84,649.98 L193.44,650.10 L194.05,650.18 L194.65,649.71 L195.25,649.99 L195.85,650.11 L196.46,650.13 L197.06,650.09 L197.66,649.81 L198.26,650.28 L198.86,650.17 L199.47,649.84 L200.07,649.96 L200.67,650.27 L201.27,649.82 L201.88,649.95 L202.48,650.28 L203.08,650.24 L203.68,649.84 L204.29,650.14 L204.89,649.92 L205.49,650.10 L206.09,650.16 L206.70,649.78 L207.30,649.83 L207.90,650.00" stroke="#0000ff" stroke-width="2.2" fill="none" stroke-linejoin="round" stroke-linecap="round" />
<path d="M156.70,666.80 L157.30,666.63 L157.90,666.66 L158.51,666.52 L159.11,666.58 L159.71,666.74 L160.31,666.75 L160.92,666.55 L161.52,666.85 L162.12,667.07 L162.72,666.85 L163.33,666.71 L163.93,666.92 L164.53,666.76 L165.13,666.61 L165.74,666.79 L166.34,666.51 L166.94,666.91 L167.54,666.60 L168.14,666.72 L168.75,667.08 L169.35,666.96 L169.95,667.00 L170.55,666.89 L171.16,666.88 L171.76,666.92 L172.36,667.08 L172.96,666.62 L173.57,666.96 L174.17,666.68 L174.77,666.65 L175.37,666.99 L175.98,666.86 L176.58,667.01 L177.18,667.03 L177.78,666.85 L178.38,666.62 L178.99,666.51 L179.59,666.82 L180.19,666.94 L180.79,666.66 L181.40,666.54 L182.00,666.50 L182.60,666.60 L183.20,666.92 L183.81,666.50 L184.41,666.64 L185.01,666.66 L185.61,666.93 L186.22,667.09 L186.82,666.51 L187.42,666.57 L188.02,667.06 L188.62,667.08 L189.23,666.59 L189.83,666.70 L190.43,666.81 L191.03,666.69 L191.64,666.75 L192.24,666.79 L192.84,666.66 L193.44,666.53 L194.05,666.55 L194.65,666.60 L195.25,666.55 L195.85,666.87 L196.46,666.92 L197.06,666.66 L197.66,666.98 L198.26,666.94 L198.86,666.71 L199.47,666.80 L200.07,666.61 L200.67,667.06 L201.27,666.84 L201.88,666.53 L202.48,666.59 L203.08,666.92 L203.68,666.73 L204.29,666.93 L204.89,666.64 L205.49,666.98 L206.09,666.98 L206.70,666.56 L207.30,666.85 L207.90,666.80" stroke="#0000ff" stroke-width="2.2" fill="none" stroke-linejoin="round" stroke-linecap="round" />
<path d="M156.70,684.70 L157.30,684.03 L157.90,683.91 L158.51,683.61 L159.11,683.29 L159.71,682.69 L160.31,682.37 L160.92,682.52 L161.52,682.29 L162.12,681.89 L162.72,681.79 L163.33,681.92 L163.93,681.54 L164.53,681.77 L165.13,681.47 L165.74,681.42 L166.34,681.47 L166.94,681.49 L167.54,681.57 L168.14,681.12 L168.75,681.51 L169.35,681.18 L169.95,681.20 L170.55,681.39 L171.16,681.41 L171.76,681.35 L172.36,681.51 L172.96,681.08 L173.57,681.14 L174.17,681.34 L174.77,681.09 L175.37,681.03 L175.98,681.06 L176.58,681.39 L177.18,681.42 L177.78,681.35 L178.38,681.49 L178.99,681.39 L179.59,681.10 L180.19,681.10 L180.79,681.34 L181.40,680.94 L182.00,681.27 L182.60,680.96 L183.20,680.93 L183.81,681.21 L184.41,680.99 L185.01,681.46 L185.61,681.43 L186.22,681.18 L186.82,681.02 L187.42,680.97 L188.02,681.21 L188.62,681.21 L189.23,681.12 L189.83,681.33 L190.43,681.22 L191.03,681.37 L191.64,680.96 L192.24,680.94 L192.84,681.13 L193.44,681.19 L194.05,681.05 L194.65,681.30 L195.25,681.03 L195.85,681.09 L196.46,681.19 L197.06,681.33 L197.66,681.36 L198.26,681.12 L198.86,681.17 L199.47,681.46 L200.07,681.46 L200.67,681.27 L201.27,680.96 L201.88,681.17 L202.48,681.28 L203.08,681.07 L203.68,680.92 L204.29,681.49 L204.89,681.45 L205.49,680.98 L206.09,681.18 L206.70,681.27 L207.30,681.08 L207.90,681.20" stroke="#0000ff" stroke-width="2.2" fill="none" stroke-linejoin="round" stroke-linecap="round" />
<path d="M156.70,699.00 L157.30,698.09 L157.90,697.92 L158.51,697.41 L159.11,696.75 L159.71,696.13 L160.31,695.95 L160.92,695.45 L161.52,695.68 L162.12,694.88 L162.72,694.80 L163.33,694.88 L163.93,694.32 L164.53,694.14 L165.13,693.98 L165.74,693.90 L166.34,694.01 L166.94,694.09 L167.54,693.60 L168.14,693.52 L168.75,693.80 L169.35,693.53 L169.95,693.42 L170.55,693.24 L171.16,693.27 L171.76,693.66 L172.36,693.11 L172.96,693.17 L173.57,693.43 L174.17,693.49 L174.77,693.47 L175.37,693.19 L175.98,693.46 L176.58,693.23 L177.18,693.03 L177.78,693.12 L178.38,693.26 L178.99,693.26 L179.59,692.88 L180.19,692.91 L180.79,693.36 L181.40,692.85 L182.00,693.26 L182.60,692.97 L183.20,692.91 L183.81,692.91 L184.41,693.03 L185.01,693.34 L185.61,692.83 L186.22,693.25 L186.82,692.93 L187.42,692.84 L188.02,693.18 L188.62,692.93 L189.23,692.84 L189.83,692.98 L190.43,693.22 L191.03,693.24 L191.64,693.07 L192.24,692.73 L192.84,693.18 L193.44,693.08 L194.05,693.25 L194.65,693.29 L195.25,692.91 L195.85,693.22 L196.46,693.20 L197.06,692.87 L197.66,692.93 L198.26,692.93 L198.86,692.92 L199.47,692.93 L200.07,692.77 L200.67,692.84 L201.27,693.25 L201.88,692.95 L202.48,693.09 L203.08,693.24 L203.68,693.16 L204.29,692.85 L204.89,693.26 L205.49,693.19 L206.09,693.30 L206.70,693.14 L207.30,693.16 L207.90,693.00" stroke="#0000ff" stroke-width="2.2" fill="none" stroke-linejoin="round" stroke-linecap="round" />
<path d="M156.70,712.20 L157.30,711.32 L157.90,710.03 L158.51,709.42 L159.11,708.51 L159.71,708.11 L160.31,707.09 L160.92,706.80 L161.52,706.20 L162.12,706.07 L162.72,705.41 L163.33,705.37 L163.93,705.08 L164.53,704.83 L165.13,704.15 L165.74,704.41 L166.34,704.10 L166.94,703.89 L167.54,703.73 L168.14,703.23 L168.75,703.60 L169.35,703.29 L169.95,703.14 L170.55,702.98 L171.16,703.17 L171.76,703.10 L172.36,703.09 L172.96,702.63 L173.57,702.66 L174.17,702.56 L174.77,702.42 L175.37,702.52 L175.98,702.31 L176.58,702.74 L177.18,702.37 L177.78,702.25 L178.38,702.22 L178.99,702.61 L179.59,702.26 L180.19,702.40 L180.79,702.35 L181.40,702.57 L182.00,702.65 L182.60,702.25 L183.20,702.43 L183.81,702.58 L184.41,702.32 L185.01,702.57 L185.61,702.46 L186.22,702.20 L186.82,702.53 L187.42,702.34 L188.02,702.05 L188.62,702.34 L189.23,702.48 L189.83,702.29 L190.43,702.26 L191.03,702.22 L191.64,702.49 L192.24,702.36 L192.84,702.08 L193.44,702.17 L194.05,702.17 L194.65,702.52 L195.25,702.36 L195.85,702.02 L196.46,702.49 L197.06,701.96 L197.66,702.29 L198.26,702.19 L198.86,702.36 L199.47,702.19 L200.07,701.98 L200.67,702.24 L201.27,702.42 L201.88,702.40 L202.48,702.14 L203.08,702.06 L203.68,702.37 L204.29,702.40 L204.89,702.05 L205.49,702.45 L206.09,702.51 L206.70,702.18 L207.30,702.14 L207.90,702.21" stroke="#0000ff" stroke-width="2.2" fill="none" stroke-linejoin="round" stroke-linecap="round" />
<line x1="156.70" y1="527.00" x2="156.70" y2="723.00" stroke="#0000ff" stroke-width="2.2" stroke-linecap="butt"/>
<line x1="207.90" y1="504.00" x2="207.90" y2="746.30" stroke="#0000ff" stroke-width="2.2" stroke-linecap="butt"/>
<path d="M150.4,640.8 L150.7,634 Q151.4,631.6 156.7,631.6" stroke="#0000ff" stroke-width="2.6" fill="none" stroke-linejoin="round" stroke-linecap="round" />
<path d="M207.9,701 L218.7,697.3 L218.7,707.6 Q214.6,709.6 213.6,712 Q210.5,725 208.6,746.3 L207.9,746.3 Z" stroke="#0000ff" stroke-width="1" fill="#0000ff" stroke-linejoin="round" stroke-linecap="round" />
<rect x="339.40" y="634.50" width="53.20" height="16.10" fill="#000"/>
<path d="M339.40,626.20 L340.00,626.28 L340.61,626.37 L341.21,626.08 L341.82,626.12 L342.42,626.13 L343.03,626.29 L343.63,626.07 L344.24,626.22 L344.84,626.20 L345.45,626.27 L346.05,626.06 L346.65,626.38 L347.26,626.40 L347.86,626.22 L348.47,626.32 L349.07,626.07 L349.68,626.36 L350.28,626.22 L350.89,626.30 L351.49,626.35 L352.10,626.14 L352.70,626.37 L353.30,626.08 L353.91,626.01 L354.51,626.20 L355.12,626.36 L355.72,626.36 L356.33,626.38 L356.93,626.20 L357.54,626.37 L358.14,626.22 L358.75,626.06 L359.35,626.25 L359.95,626.32 L360.56,626.17 L361.16,626.24 L361.77,626.10 L362.37,626.11 L362.98,626.17 L363.58,626.21 L364.19,626.19 L364.79,626.04 L365.40,626.00 L366.00,626.14 L366.60,626.29 L367.21,626.30 L367.81,626.09 L368.42,626.10 L369.02,626.21 L369.63,626.07 L370.23,626.24 L370.84,626.36 L371.44,626.08 L372.05,626.23 L372.65,626.29 L373.25,626.30 L373.86,626.28 L374.46,626.28 L375.07,626.11 L375.67,626.34 L376.28,626.37 L376.88,626.02 L377.49,626.38 L378.09,626.18 L378.70,626.03 L379.30,626.03 L379.90,626.32 L380.51,626.27 L381.11,626.06 L381.72,626.18 L382.32,626.26 L382.93,626.40 L383.53,626.13 L384.14,626.31 L384.74,626.10 L385.35,626.08 L385.95,626.06 L386.55,626.16 L387.16,626.25 L387.76,626.12 L388.37,626.06 L388.97,626.09 L389.58,626.03 L390.18,626.08 L390.79,626.13 L391.39,626.20 L392.00,626.07 L392.60,626.20" stroke="#000" stroke-width="2.3" fill="none" stroke-linejoin="round" stroke-linecap="round" />
<path d="M339.40,629.50 L340.00,629.49 L340.61,629.48 L341.21,629.69 L341.82,629.49 L342.42,629.68 L343.03,629.49 L343.63,629.38 L344.24,629.54 L344.84,629.36 L345.45,629.37 L346.05,629.33 L346.65,629.58 L347.26,629.69 L347.86,629.46 L348.47,629.44 L349.07,629.47 L349.68,629.44 L350.28,629.58 L350.89,629.46 L351.49,629.36 L352.10,629.65 L352.70,629.53 L353.30,629.30 L353.91,629.64 L354.51,629.59 L355.12,629.44 L355.72,629.55 L356.33,629.67 L356.93,629.46 L357.54,629.47 L358.14,629.42 L358.75,629.52 L359.35,629.57 L359.95,629.59 L360.56,629.68 L361.16,629.36 L361.77,629.45 L362.37,629.64 L362.98,629.62 L363.58,629.54 L364.19,629.57 L364.79,629.44 L365.40,629.68 L366.00,629.52 L366.60,629.46 L367.21,629.37 L367.81,629.35 L368.42,629.66 L369.02,629.62 L369.63,629.31 L370.23,629.43 L370.84,629.49 L371.44,629.50 L372.05,629.45 L372.65,629.66 L373.25,629.44 L373.86,629.51 L374.46,629.67 L375.07,629.56 L375.67,629.49 L376.28,629.43 L376.88,629.45 L377.49,629.54 L378.09,629.61 L378.70,629.40 L379.30,629.45 L379.90,629.46 L380.51,629.45 L381.11,629.67 L381.72,629.52 L382.32,629.41 L382.93,629.43 L383.53,629.63 L384.14,629.36 L384.74,629.58 L385.35,629.31 L385.95,629.38 L386.55,629.32 L387.16,629.62 L387.76,629.36 L388.37,629.39 L388.97,629.32 L389.58,629.41 L390.18,629.59 L390.79,629.59 L391.39,629.66 L392.00,629.68 L392.60,629.50" stroke="#000" stroke-width="2.3" fill="none" stroke-linejoin="round" stroke-linecap="round" />
<path d="M339.40,632.50 L340.00,632.52 L340.61,632.67 L341.21,632.34 L341.82,632.67 L342.42,632.47 L343.03,632.38 L343.63,632.60 L344.24,632.64 L344.84,632.45 L345.45,632.34 L346.05,632.65 L346.65,632.60 L347.26,632.54 L347.86,632.69 L348.47,632.32 L349.07,632.32 L349.68,632.35 L350.28,632.31 L350.89,632.58 L351.49,632.55 L352.10,632.34 L352.70,632.36 L353.30,632.37 L353.91,632.54 L354.51,632.57 L355.12,632.69 L355.72,632.44 L356.33,632.69 L356.93,632.47 L357.54,632.46 L358.14,632.40 L358.75,632.39 L359.35,632.69 L359.95,632.70 L360.56,632.58 L361.16,632.37 L361.77,632.37 L362.37,632.36 L362.98,632.44 L363.58,632.59 L364.19,632.32 L364.79,632.51 L365.40,632.57 L366.00,632.31 L366.60,632.48 L367.21,632.62 L367.81,632.53 L368.42,632.48 L369.02,632.65 L369.63,632.54 L370.23,632.43 L370.84,632.46 L371.44,632.68 L372.05,632.64 L372.65,632.67 L373.25,632.52 L373.86,632.36 L374.46,632.37 L375.07,632.45 L375.67,632.58 L376.28,632.30 L376.88,632.62 L377.49,632.61 L378.09,632.51 L378.70,632.30 L379.30,632.62 L379.90,632.47 L380.51,632.57 L381.11,632.53 L381.72,632.59 L382.32,632.46 L382.93,632.68 L383.53,632.68 L384.14,632.67 L384.74,632.55 L385.35,632.43 L385.95,632.45 L386.55,632.41 L387.16,632.66 L387.76,632.62 L388.37,632.62 L388.97,632.63 L389.58,632.70 L390.18,632.58 L390.79,632.43 L391.39,632.60 L392.00,632.40 L392.60,632.50" stroke="#000" stroke-width="2.3" fill="none" stroke-linejoin="round" stroke-linecap="round" />
<path d="M339.40,635.50 L340.00,635.54 L340.61,635.36 L341.21,635.64 L341.82,635.50 L342.42,635.41 L343.03,635.67 L343.63,635.33 L344.24,635.67 L344.84,635.60 L345.45,635.36 L346.05,635.60 L346.65,635.53 L347.26,635.66 L347.86,635.53 L348.47,635.47 L349.07,635.67 L349.68,635.33 L350.28,635.61 L350.89,635.34 L351.49,635.41 L352.10,635.35 L352.70,635.65 L353.30,635.48 L353.91,635.59 L354.51,635.40 L355.12,635.59 L355.72,635.56 L356.33,635.34 L356.93,635.50 L357.54,635.59 L358.14,635.39 L358.75,635.56 L359.35,635.41 L359.95,635.45 L360.56,635.67 L361.16,635.68 L361.77,635.70 L362.37,635.47 L362.98,635.53 L363.58,635.62 L364.19,635.60 L364.79,635.48 L365.40,635.65 L366.00,635.46 L366.60,635.68 L367.21,635.49 L367.81,635.35 L368.42,635.60 L369.02,635.36 L369.63,635.57 L370.23,635.32 L370.84,635.70 L371.44,635.52 L372.05,635.60 L372.65,635.35 L373.25,635.55 L373.86,635.45 L374.46,635.40 L375.07,635.63 L375.67,635.31 L376.28,635.49 L376.88,635.33 L377.49,635.64 L378.09,635.66 L378.70,635.31 L379.30,635.49 L379.90,635.49 L380.51,635.59 L381.11,635.59 L381.72,635.44 L382.32,635.67 L382.93,635.37 L383.53,635.35 L384.14,635.63 L384.74,635.35 L385.35,635.37 L385.95,635.50 L386.55,635.43 L387.16,635.37 L387.76,635.67 L388.37,635.49 L388.97,635.61 L389.58,635.40 L390.18,635.67 L390.79,635.39 L391.39,635.66 L392.00,635.55 L392.60,635.50" stroke="#000" stroke-width="2.3" fill="none" stroke-linejoin="round" stroke-linecap="round" />
<line x1="339.40" y1="628.20" x2="339.40" y2="650.60" stroke="#000" stroke-width="2.4" stroke-linecap="butt"/>
<line x1="392.60" y1="626.20" x2="392.60" y2="650.60" stroke="#000" stroke-width="2.4" stroke-linecap="butt"/>
<line x1="334.10" y1="639.30" x2="339.40" y2="639.30" stroke="#000" stroke-width="3.0" stroke-linecap="round"/>
<line x1="392.60" y1="649.40" x2="401.50" y2="649.40" stroke="#000" stroke-width="3.6" stroke-linecap="round"/>
<path d="M419.50,585.90 L420.10,584.42 L420.70,582.81 L421.30,581.47 L421.90,580.35 L422.51,579.64 L423.11,578.64 L423.71,577.79 L424.31,577.74 L424.91,577.22 L425.51,576.76 L426.11,576.47 L426.71,575.88 L427.32,575.79 L427.92,575.80 L428.52,575.72 L429.12,575.55 L429.72,574.97 L430.32,575.18 L430.92,575.01 L431.52,574.85 L432.12,574.64 L432.73,574.57 L433.33,574.72 L433.93,574.69 L434.53,574.52 L435.13,574.55 L435.73,574.64 L436.33,574.74 L436.93,574.62 L437.53,574.34 L438.14,574.76 L438.74,574.44 L439.34,574.78 L439.94,574.79 L440.54,574.27 L441.14,574.53 L441.74,574.75 L442.34,574.40 L442.95,574.49 L443.55,574.34 L444.15,574.17 L444.75,574.27 L445.35,574.22 L445.95,574.31 L446.55,574.52 L447.15,574.47 L447.75,574.70 L448.36,574.54 L448.96,574.35 L449.56,574.70 L450.16,574.51 L450.76,574.45 L451.36,574.64 L451.96,574.52 L452.56,574.34 L453.17,574.48 L453.77,574.30 L454.37,574.70 L454.97,574.26 L455.57,574.70 L456.17,574.15 L456.77,574.12 L457.37,574.44 L457.97,574.23 L458.58,574.41 L459.18,574.18 L459.78,574.61 L460.38,574.51 L460.98,574.52 L461.58,574.66 L462.18,574.70 L462.78,574.51 L463.38,574.53 L463.99,574.11 L464.59,574.14 L465.19,574.36 L465.79,574.69 L466.39,574.29 L466.99,574.45 L467.59,574.11 L468.19,574.35 L468.80,574.65 L469.40,574.46 L470.00,574.60 L470.60,574.11 L471.20,574.40" stroke="#0000ff" stroke-width="2.2" fill="none" stroke-linejoin="round" stroke-linecap="round" />
<path d="M419.50,593.70 L420.10,592.90 L420.70,592.38 L421.30,592.36 L421.90,591.59 L422.51,591.81 L423.11,591.20 L423.71,591.39 L424.31,591.03 L424.91,590.80 L425.51,591.09 L426.11,590.68 L426.71,590.80 L427.32,590.38 L427.92,590.81 L428.52,590.87 L429.12,590.33 L429.72,590.70 L430.32,590.41 L430.92,590.33 L431.52,590.46 L432.12,590.64 L432.73,590.82 L433.33,590.85 L433.93,590.86 L434.53,590.65 L435.13,590.67 L435.73,590.39 L436.33,590.74 L436.93,590.65 L437.53,590.54 L438.14,590.88 L438.74,590.51 L439.34,590.45 L439.94,590.47 L440.54,590.48 L441.14,590.76 L441.74,590.90 L442.34,590.53 L442.95,590.75 L443.55,590.80 L444.15,590.81 L444.75,590.73 L445.35,590.83 L445.95,590.52 L446.55,590.56 L447.15,590.80 L447.75,590.70 L448.36,591.02 L448.96,590.73 L449.56,591.09 L450.16,590.76 L450.76,590.68 L451.36,590.93 L451.96,590.89 L452.56,590.87 L453.17,591.14 L453.77,590.83 L454.37,591.11 L454.97,591.22 L455.57,591.01 L456.17,591.05 L456.77,591.32 L457.37,591.14 L457.97,590.90 L458.58,590.85 L459.18,590.87 L459.78,591.03 L460.38,590.90 L460.98,591.25 L461.58,591.13 L462.18,591.08 L462.78,591.21 L463.38,591.48 L463.99,591.08 L464.59,591.04 L465.19,591.14 L465.79,591.17 L466.39,591.53 L466.99,591.43 L467.59,591.27 L468.19,591.13 L468.80,591.07 L469.40,591.13 L470.00,591.58 L470.60,591.47 L471.20,591.40" stroke="#0000ff" stroke-width="2.2" fill="none" stroke-linejoin="round" stroke-linecap="round" />
<path d="M419.50,607.10 L420.10,606.71 L420.70,606.84 L421.30,606.38 L421.90,606.55 L422.51,606.37 L423.11,606.16 L423.71,606.49 L424.31,606.43 L424.91,606.27 L425.51,606.04 L426.11,606.31 L426.71,606.15 L427.32,606.27 L427.92,605.92 L428.52,606.39 L429.12,605.84 L429.72,605.97 L430.32,606.07 L430.92,605.94 L431.52,605.87 L432.12,606.23 L432.73,606.41 L433.33,606.01 L433.93,605.97 L434.53,606.21 L435.13,605.94 L435.73,606.04 L436.33,606.22 L436.93,606.06 L437.53,605.90 L438.14,605.84 L438.74,606.13 L439.34,606.40 L439.94,606.35 L440.54,605.86 L441.14,606.10 L441.74,606.09 L442.34,605.92 L442.95,606.20 L443.55,606.10 L444.15,606.29 L444.75,605.98 L445.35,606.36 L445.95,606.29 L446.55,606.08 L447.15,605.88 L447.75,606.09 L448.36,605.88 L448.96,606.21 L449.56,606.22 L450.16,606.15 L450.76,606.39 L451.36,605.83 L451.96,606.23 L452.56,606.28 L453.17,605.87 L453.77,605.99 L454.37,605.83 L454.97,606.15 L455.57,606.23 L456.17,606.01 L456.77,606.22 L457.37,606.02 L457.97,606.23 L458.58,605.97 L459.18,606.39 L459.78,606.06 L460.38,605.80 L460.98,605.85 L461.58,606.24 L462.18,606.32 L462.78,606.18 L463.38,605.89 L463.99,606.32 L464.59,606.23 L465.19,605.87 L465.79,606.03 L466.39,606.20 L466.99,605.80 L467.59,605.83 L468.19,606.01 L468.80,606.32 L469.40,606.40 L470.00,605.99 L470.60,606.35 L471.20,606.10" stroke="#0000ff" stroke-width="2.2" fill="none" stroke-linejoin="round" stroke-linecap="round" />
<path d="M419.50,619.50 L420.10,619.58 L420.70,619.55 L421.30,619.33 L421.90,619.51 L422.51,619.27 L423.11,619.42 L423.71,619.16 L424.31,618.92 L424.91,619.09 L425.51,619.06 L426.11,618.96 L426.71,618.97 L427.32,619.04 L427.92,619.08 L428.52,618.86 L429.12,618.89 L429.72,619.02 L430.32,619.02 L430.92,618.96 L431.52,619.11 L432.12,618.82 L432.73,619.03 L433.33,618.87 L433.93,619.17 L434.53,619.13 L435.13,619.17 L435.73,619.01 L436.33,618.85 L436.93,619.26 L437.53,619.01 L438.14,618.93 L438.74,618.88 L439.34,618.94 L439.94,619.13 L440.54,619.19 L441.14,618.99 L441.74,619.14 L442.34,618.83 L442.95,618.97 L443.55,618.91 L444.15,618.88 L444.75,618.92 L445.35,619.15 L445.95,619.14 L446.55,618.82 L447.15,618.84 L447.75,619.17 L448.36,619.09 L448.96,619.11 L449.56,619.08 L450.16,619.12 L450.76,618.86 L451.36,618.74 L451.96,618.92 L452.56,618.72 L453.17,619.28 L453.77,619.01 L454.37,619.10 L454.97,619.28 L455.57,619.18 L456.17,618.84 L456.77,618.90 L457.37,618.77 L457.97,619.18 L458.58,619.14 L459.18,618.99 L459.78,618.92 L460.38,618.86 L460.98,618.99 L461.58,619.13 L462.18,619.24 L462.78,619.21 L463.38,619.22 L463.99,618.96 L464.59,618.95 L465.19,618.89 L465.79,619.28 L466.39,618.81 L466.99,618.79 L467.59,618.87 L468.19,619.25 L468.80,619.21 L469.40,618.90 L470.00,619.21 L470.60,619.23 L471.20,619.00" stroke="#0000ff" stroke-width="2.2" fill="none" stroke-linejoin="round" stroke-linecap="round" />
<path d="M419.50,629.30 L420.10,629.26 L420.70,629.12 L421.30,629.46 L421.90,629.22 L422.51,629.07 L423.11,629.54 L423.71,629.26 L424.31,629.24 L424.91,629.36 L425.51,629.15 L426.11,629.01 L426.71,629.23 L427.32,629.23 L427.92,629.01 L428.52,629.22 L429.12,629.46 L429.72,629.20 L430.32,629.41 L430.92,629.37 L431.52,629.11 L432.12,629.01 L432.73,629.40 L433.33,629.37 L433.93,629.18 L434.53,629.12 L435.13,629.51 L435.73,629.55 L436.33,629.14 L436.93,629.35 L437.53,629.34 L438.14,629.19 L438.74,629.02 L439.34,629.20 L439.94,629.39 L440.54,629.36 L441.14,629.31 L441.74,629.07 L442.34,629.13 L442.95,629.19 L443.55,629.25 L444.15,629.22 L444.75,629.54 L445.35,629.07 L445.95,629.59 L446.55,629.14 L447.15,629.51 L447.75,629.15 L448.36,629.35 L448.96,629.23 L449.56,629.02 L450.16,629.48 L450.76,629.49 L451.36,629.16 L451.96,629.47 L452.56,629.29 L453.17,629.59 L453.77,629.03 L454.37,629.23 L454.97,629.14 L455.57,629.37 L456.17,629.47 L456.77,629.51 L457.37,629.33 L457.97,629.23 L458.58,629.48 L459.18,629.06 L459.78,629.16 L460.38,629.45 L460.98,629.26 L461.58,629.60 L462.18,629.05 L462.78,629.28 L463.38,629.13 L463.99,629.00 L464.59,629.06 L465.19,629.05 L465.79,629.22 L466.39,629.26 L466.99,629.30 L467.59,629.17 L468.19,629.42 L468.80,629.31 L469.40,629.59 L470.00,629.10 L470.60,629.31 L471.20,629.30" stroke="#0000ff" stroke-width="2.2" fill="none" stroke-linejoin="round" stroke-linecap="round" />
<path d="M419.50,638.30 L420.10,638.30 L420.70,638.22 L421.30,638.52 L421.90,638.13 L422.51,638.53 L423.11,638.21 L423.71,638.20 L424.31,638.37 L424.91,638.34 L425.51,638.17 L426.11,638.05 L426.71,638.57 L427.32,638.22 L427.92,638.07 L428.52,638.39 L429.12,638.32 L429.72,638.20 L430.32,638.20 L430.92,638.51 L431.52,638.20 L432.12,638.25 L432.73,638.57 L433.33,638.22 L433.93,638.24 L434.53,638.10 L435.13,638.40 L435.73,638.40 L436.33,638.27 L436.93,638.24 L437.53,638.14 L438.14,638.47 L438.74,638.27 L439.34,638.50 L439.94,638.22 L440.54,638.44 L441.14,638.02 L441.74,638.13 L442.34,638.58 L442.95,638.41 L443.55,638.41 L444.15,638.30 L444.75,638.28 L445.35,638.12 L445.95,638.10 L446.55,638.39 L447.15,638.42 L447.75,638.16 L448.36,638.39 L448.96,638.08 L449.56,638.37 L450.16,638.10 L450.76,638.31 L451.36,638.19 L451.96,638.33 L452.56,638.08 L453.17,638.29 L453.77,638.37 L454.37,638.08 L454.97,638.19 L455.57,638.41 L456.17,638.33 L456.77,638.37 L457.37,638.47 L457.97,638.34 L458.58,638.13 L459.18,638.27 L459.78,638.50 L460.38,638.34 L460.98,638.45 L461.58,638.22 L462.18,638.27 L462.78,638.58 L463.38,638.49 L463.99,638.39 L464.59,638.06 L465.19,638.37 L465.79,638.02 L466.39,638.56 L466.99,638.58 L467.59,638.44 L468.19,638.16 L468.80,638.51 L469.40,638.11 L470.00,638.50 L470.60,638.31 L471.20,638.30" stroke="#0000ff" stroke-width="2.2" fill="none" stroke-linejoin="round" stroke-linecap="round" />
<path d="M419.50,645.40 L420.10,645.11 L420.70,645.63 L421.30,645.36 L421.90,645.60 L422.51,645.51 L423.11,645.42 L423.71,645.62 L424.31,645.22 L424.91,645.64 L425.51,645.30 L426.11,645.12 L426.71,645.30 L427.32,645.14 L427.92,645.14 L428.52,645.47 L429.12,645.17 L429.72,645.20 L430.32,645.28 L430.92,645.27 L431.52,645.65 L432.12,645.64 L432.73,645.62 L433.33,645.69 L433.93,645.36 L434.53,645.58 L435.13,645.27 L435.73,645.66 L436.33,645.59 L436.93,645.54 L437.53,645.24 L438.14,645.15 L438.74,645.66 L439.34,645.43 L439.94,645.47 L440.54,645.62 L441.14,645.19 L441.74,645.52 L442.34,645.38 L442.95,645.57 L443.55,645.37 L444.15,645.22 L444.75,645.67 L445.35,645.27 L445.95,645.55 L446.55,645.60 L447.15,645.25 L447.75,645.52 L448.36,645.34 L448.96,645.23 L449.56,645.23 L450.16,645.67 L450.76,645.32 L451.36,645.41 L451.96,645.40 L452.56,645.12 L453.17,645.55 L453.77,645.55 L454.37,645.63 L454.97,645.31 L455.57,645.23 L456.17,645.31 L456.77,645.54 L457.37,645.49 L457.97,645.34 L458.58,645.41 L459.18,645.19 L459.78,645.65 L460.38,645.38 L460.98,645.40 L461.58,645.57 L462.18,645.22 L462.78,645.53 L463.38,645.31 L463.99,645.59 L464.59,645.16 L465.19,645.27 L465.79,645.48 L466.39,645.39 L466.99,645.33 L467.59,645.45 L468.19,645.23 L468.80,645.36 L469.40,645.10 L470.00,645.58 L470.60,645.25 L471.20,645.40" stroke="#0000ff" stroke-width="2.2" fill="none" stroke-linejoin="round" stroke-linecap="round" />
<path d="M419.50,651.80 L420.10,652.00 L420.70,651.83 L421.30,651.86 L421.90,651.88 L422.51,651.58 L423.11,651.97 L423.71,651.68 L424.31,652.02 L424.91,651.97 L425.51,651.91 L426.11,651.99 L426.71,651.76 L427.32,651.90 L427.92,652.07 L428.52,651.61 L429.12,651.56 L429.72,651.75 L430.32,651.81 L430.92,651.59 L431.52,651.63 L432.12,652.02 L432.73,651.73 L433.33,651.59 L433.93,651.61 L434.53,651.85 L435.13,651.61 L435.73,651.79 L436.33,651.82 L436.93,651.76 L437.53,651.80 L438.14,652.00 L438.74,651.51 L439.34,652.06 L439.94,651.62 L440.54,651.52 L441.14,651.96 L441.74,651.84 L442.34,651.82 L442.95,651.63 L443.55,651.97 L444.15,651.68 L444.75,651.94 L445.35,651.64 L445.95,651.84 L446.55,651.89 L447.15,651.72 L447.75,651.79 L448.36,651.54 L448.96,651.89 L449.56,651.91 L450.16,651.59 L450.76,651.83 L451.36,651.94 L451.96,651.56 L452.56,652.00 L453.17,652.02 L453.77,651.53 L454.37,651.65 L454.97,651.55 L455.57,651.65 L456.17,651.55 L456.77,651.79 L457.37,651.65 L457.97,651.68 L458.58,651.78 L459.18,651.72 L459.78,651.97 L460.38,651.93 L460.98,651.57 L461.58,651.63 L462.18,651.50 L462.78,651.70 L463.38,651.56 L463.99,651.92 L464.59,651.97 L465.19,652.10 L465.79,651.63 L466.39,651.52 L466.99,651.95 L467.59,651.75 L468.19,652.06 L468.80,651.74 L469.40,651.69 L470.00,651.54 L470.60,652.07 L471.20,651.80" stroke="#0000ff" stroke-width="2.2" fill="none" stroke-linejoin="round" stroke-linecap="round" />
<path d="M419.50,655.90 L420.10,655.91 L420.70,655.86 L421.30,655.86 L421.90,656.06 L422.51,656.10 L423.11,655.89 L423.71,655.71 L424.31,655.84 L424.91,656.13 L425.51,655.84 L426.11,656.00 L426.71,655.94 L427.32,655.88 L427.92,655.94 L428.52,655.75 L429.12,655.93 L429.72,656.12 L430.32,655.65 L430.92,655.82 L431.52,656.13 L432.12,656.19 L432.73,655.61 L433.33,655.98 L433.93,655.98 L434.53,656.11 L435.13,655.88 L435.73,655.68 L436.33,655.78 L436.93,656.03 L437.53,656.04 L438.14,655.72 L438.74,655.99 L439.34,655.99 L439.94,655.99 L440.54,655.61 L441.14,655.86 L441.74,655.79 L442.34,655.96 L442.95,655.80 L443.55,655.68 L444.15,656.00 L444.75,655.77 L445.35,656.07 L445.95,655.78 L446.55,655.93 L447.15,656.08 L447.75,655.67 L448.36,656.04 L448.96,655.64 L449.56,656.16 L450.16,655.62 L450.76,656.03 L451.36,655.82 L451.96,655.71 L452.56,655.84 L453.17,655.90 L453.77,655.85 L454.37,655.67 L454.97,655.91 L455.57,655.78 L456.17,656.18 L456.77,655.83 L457.37,655.86 L457.97,655.74 L458.58,656.18 L459.18,655.79 L459.78,655.99 L460.38,656.10 L460.98,655.84 L461.58,656.05 L462.18,655.77 L462.78,655.67 L463.38,655.63 L463.99,655.87 L464.59,656.12 L465.19,655.72 L465.79,655.86 L466.39,656.06 L466.99,655.77 L467.59,655.69 L468.19,655.91 L468.80,655.86 L469.40,656.16 L470.00,656.14 L470.60,655.74 L471.20,655.90" stroke="#0000ff" stroke-width="2.2" fill="none" stroke-linejoin="round" stroke-linecap="round" />
<path d="M419.50,658.80 L420.10,658.84 L420.70,658.75 L421.30,658.52 L421.90,658.77 L422.51,659.05 L423.11,658.68 L423.71,658.85 L424.31,658.93 L424.91,658.54 L425.51,659.05 L426.11,658.57 L426.71,658.68 L427.32,658.93 L427.92,658.51 L428.52,658.73 L429.12,658.58 L429.72,658.78 L430.32,658.51 L430.92,658.59 L431.52,658.63 L432.12,658.55 L432.73,658.55 L433.33,658.62 L433.93,658.81 L434.53,658.58 L435.13,658.99 L435.73,658.75 L436.33,658.65 L436.93,658.64 L437.53,659.00 L438.14,658.53 L438.74,658.95 L439.34,658.56 L439.94,659.07 L440.54,658.74 L441.14,658.86 L441.74,659.02 L442.34,658.56 L442.95,658.54 L443.55,658.92 L444.15,658.85 L444.75,658.93 L445.35,658.67 L445.95,658.80 L446.55,658.61 L447.15,658.76 L447.75,658.67 L448.36,658.85 L448.96,658.68 L449.56,658.66 L450.16,658.89 L450.76,658.55 L451.36,658.98 L451.96,658.80 L452.56,658.64 L453.17,658.57 L453.77,658.81 L454.37,658.80 L454.97,658.93 L455.57,658.72 L456.17,658.75 L456.77,659.04 L457.37,658.66 L457.97,659.09 L458.58,659.04 L459.18,659.09 L459.78,659.07 L460.38,658.65 L460.98,658.99 L461.58,658.87 L462.18,658.62 L462.78,659.10 L463.38,658.89 L463.99,658.99 L464.59,658.83 L465.19,658.55 L465.79,659.02 L466.39,658.61 L466.99,658.66 L467.59,658.87 L468.19,658.62 L468.80,658.78 L469.40,658.93 L470.00,658.56 L470.60,658.90 L471.20,658.80" stroke="#0000ff" stroke-width="2.2" fill="none" stroke-linejoin="round" stroke-linecap="round" />
<path d="M419.50,665.40 L420.10,664.44 L420.70,664.06 L421.30,663.68 L421.90,663.31 L422.51,662.59 L423.11,662.42 L423.71,662.66 L424.31,662.14 L424.91,662.01 L425.51,661.86 L426.11,661.96 L426.71,661.91 L427.32,661.79 L427.92,661.58 L428.52,661.64 L429.12,661.57 L429.72,661.35 L430.32,661.78 L430.92,661.77 L431.52,661.64 L432.12,661.76 L432.73,661.43 L433.33,661.64 L433.93,661.28 L434.53,661.57 L435.13,661.55 L435.73,661.68 L436.33,661.61 L436.93,661.64 L437.53,661.27 L438.14,661.58 L438.74,661.39 L439.34,661.29 L439.94,661.33 L440.54,661.58 L441.14,661.61 L441.74,661.61 L442.34,661.50 L442.95,661.20 L443.55,661.19 L444.15,661.44 L444.75,661.23 L445.35,661.30 L445.95,661.16 L446.55,661.19 L447.15,661.53 L447.75,661.23 L448.36,661.61 L448.96,661.30 L449.56,661.61 L450.16,661.28 L450.76,661.26 L451.36,661.34 L451.96,661.11 L452.56,661.36 L453.17,661.33 L453.77,661.11 L454.37,661.62 L454.97,661.33 L455.57,661.10 L456.17,661.68 L456.77,661.24 L457.37,661.25 L457.97,661.11 L458.58,661.16 L459.18,661.53 L459.78,661.45 L460.38,661.40 L460.98,661.25 L461.58,661.27 L462.18,661.68 L462.78,661.32 L463.38,661.69 L463.99,661.63 L464.59,661.17 L465.19,661.61 L465.79,661.11 L466.39,661.53 L466.99,661.59 L467.59,661.52 L468.19,661.43 L468.80,661.59 L469.40,661.19 L470.00,661.42 L470.60,661.26 L471.20,661.40" stroke="#0000ff" stroke-width="2.2" fill="none" stroke-linejoin="round" stroke-linecap="round" />
<line x1="419.50" y1="584.00" x2="419.50" y2="666.60" stroke="#0000ff" stroke-width="2.3" stroke-linecap="butt"/>
<line x1="471.20" y1="573.30" x2="471.20" y2="680.70" stroke="#0000ff" stroke-width="2.3" stroke-linecap="butt"/>
<path d="M413.6,637 L419.5,636.8 L419.5,641.5 L414.5,641.8 Q413.3,641 413.6,637 Z" stroke="#0000ff" stroke-width="1" fill="#0000ff" stroke-linejoin="round" stroke-linecap="round" />
<path d="M471.2,660 L481.6,659.8 L481.6,667.8 L475,668.2 Q472.6,672 472,681 L471.2,681 Z" stroke="#0000ff" stroke-width="1" fill="#0000ff" stroke-linejoin="round" stroke-linecap="round" />
<rect x="613.50" y="633.50" width="52.20" height="9.50" fill="#000"/>
<path d="M613.50,625.60 L614.10,625.56 L614.70,625.48 L615.30,625.68 L615.90,625.63 L616.50,625.71 L617.10,625.65 L617.70,625.64 L618.30,625.77 L618.90,625.72 L619.50,625.63 L620.10,625.53 L620.70,625.77 L621.30,625.55 L621.90,625.44 L622.50,625.53 L623.10,625.68 L623.70,625.77 L624.30,625.66 L624.90,625.67 L625.50,625.77 L626.10,625.71 L626.70,625.58 L627.30,625.58 L627.90,625.70 L628.50,625.53 L629.10,625.44 L629.70,625.65 L630.30,625.72 L630.90,625.50 L631.50,625.67 L632.10,625.76 L632.70,625.45 L633.30,625.45 L633.90,625.60 L634.50,625.53 L635.10,625.78 L635.70,625.80 L636.30,625.58 L636.90,625.72 L637.50,625.65 L638.10,625.47 L638.70,625.79 L639.30,625.47 L639.90,625.43 L640.50,625.58 L641.10,625.41 L641.70,625.59 L642.30,625.56 L642.90,625.78 L643.50,625.57 L644.10,625.74 L644.70,625.71 L645.30,625.63 L645.90,625.50 L646.50,625.52 L647.10,625.60 L647.70,625.56 L648.30,625.66 L648.90,625.60 L649.50,625.53 L650.10,625.64 L650.70,625.80 L651.30,625.48 L651.90,625.53 L652.50,625.40 L653.10,625.44 L653.70,625.42 L654.30,625.57 L654.90,625.73 L655.50,625.68 L656.10,625.79 L656.70,625.73 L657.30,625.63 L657.90,625.63 L658.50,625.41 L659.10,625.55 L659.70,625.50 L660.30,625.65 L660.90,625.43 L661.50,625.62 L662.10,625.55 L662.70,625.60 L663.30,625.56 L663.90,625.44 L664.50,625.69 L665.10,625.72 L665.70,625.60" stroke="#000" stroke-width="2.3" fill="none" stroke-linejoin="round" stroke-linecap="round" />
<path d="M613.50,628.50 L614.10,628.54 L614.70,628.35 L615.30,628.54 L615.90,628.65 L616.50,628.69 L617.10,628.60 L617.70,628.32 L618.30,628.65 L618.90,628.57 L619.50,628.41 L620.10,628.67 L620.70,628.63 L621.30,628.66 L621.90,628.40 L622.50,628.53 L623.10,628.45 L623.70,628.42 L624.30,628.60 L624.90,628.55 L625.50,628.43 L626.10,628.52 L626.70,628.67 L627.30,628.53 L627.90,628.67 L628.50,628.53 L629.10,628.70 L629.70,628.31 L630.30,628.48 L630.90,628.52 L631.50,628.59 L632.10,628.69 L632.70,628.55 L633.30,628.49 L633.90,628.55 L634.50,628.51 L635.10,628.58 L635.70,628.68 L636.30,628.31 L636.90,628.43 L637.50,628.65 L638.10,628.32 L638.70,628.62 L639.30,628.31 L639.90,628.56 L640.50,628.62 L641.10,628.40 L641.70,628.45 L642.30,628.39 L642.90,628.58 L643.50,628.51 L644.10,628.54 L644.70,628.43 L645.30,628.53 L645.90,628.68 L646.50,628.61 L647.10,628.68 L647.70,628.40 L648.30,628.51 L648.90,628.45 L649.50,628.44 L650.10,628.62 L650.70,628.37 L651.30,628.52 L651.90,628.61 L652.50,628.67 L653.10,628.31 L653.70,628.41 L654.30,628.50 L654.90,628.67 L655.50,628.37 L656.10,628.64 L656.70,628.46 L657.30,628.52 L657.90,628.67 L658.50,628.33 L659.10,628.43 L659.70,628.36 L660.30,628.35 L660.90,628.42 L661.50,628.58 L662.10,628.53 L662.70,628.35 L663.30,628.62 L663.90,628.50 L664.50,628.36 L665.10,628.63 L665.70,628.50" stroke="#000" stroke-width="2.3" fill="none" stroke-linejoin="round" stroke-linecap="round" />
<path d="M613.50,631.50 L614.10,631.63 L614.70,631.39 L615.30,631.68 L615.90,631.62 L616.50,631.39 L617.10,631.30 L617.70,631.65 L618.30,631.63 L618.90,631.34 L619.50,631.61 L620.10,631.61 L620.70,631.55 L621.30,631.63 L621.90,631.69 L622.50,631.43 L623.10,631.63 L623.70,631.67 L624.30,631.43 L624.90,631.57 L625.50,631.57 L626.10,631.64 L626.70,631.53 L627.30,631.41 L627.90,631.40 L628.50,631.52 L629.10,631.35 L629.70,631.64 L630.30,631.66 L630.90,631.40 L631.50,631.58 L632.10,631.57 L632.70,631.35 L633.30,631.61 L633.90,631.61 L634.50,631.42 L635.10,631.34 L635.70,631.41 L636.30,631.61 L636.90,631.49 L637.50,631.63 L638.10,631.36 L638.70,631.34 L639.30,631.44 L639.90,631.65 L640.50,631.36 L641.10,631.33 L641.70,631.60 L642.30,631.34 L642.90,631.57 L643.50,631.33 L644.10,631.40 L644.70,631.57 L645.30,631.65 L645.90,631.46 L646.50,631.48 L647.10,631.31 L647.70,631.44 L648.30,631.40 L648.90,631.62 L649.50,631.59 L650.10,631.61 L650.70,631.51 L651.30,631.58 L651.90,631.35 L652.50,631.45 L653.10,631.42 L653.70,631.41 L654.30,631.60 L654.90,631.39 L655.50,631.43 L656.10,631.41 L656.70,631.65 L657.30,631.56 L657.90,631.49 L658.50,631.45 L659.10,631.67 L659.70,631.68 L660.30,631.48 L660.90,631.53 L661.50,631.65 L662.10,631.40 L662.70,631.40 L663.30,631.34 L663.90,631.50 L664.50,631.61 L665.10,631.36 L665.70,631.50" stroke="#000" stroke-width="2.3" fill="none" stroke-linejoin="round" stroke-linecap="round" />
<path d="M613.50,634.50 L614.10,634.47 L614.70,634.70 L615.30,634.49 L615.90,634.45 L616.50,634.64 L617.10,634.66 L617.70,634.45 L618.30,634.35 L618.90,634.55 L619.50,634.60 L620.10,634.67 L620.70,634.56 L621.30,634.42 L621.90,634.51 L622.50,634.42 L623.10,634.48 L623.70,634.49 L624.30,634.66 L624.90,634.66 L625.50,634.67 L626.10,634.49 L626.70,634.69 L627.30,634.36 L627.90,634.67 L628.50,634.56 L629.10,634.65 L629.70,634.47 L630.30,634.70 L630.90,634.31 L631.50,634.64 L632.10,634.63 L632.70,634.45 L633.30,634.63 L633.90,634.39 L634.50,634.60 L635.10,634.49 L635.70,634.46 L636.30,634.38 L636.90,634.62 L637.50,634.59 L638.10,634.34 L638.70,634.69 L639.30,634.39 L639.90,634.45 L640.50,634.47 L641.10,634.53 L641.70,634.66 L642.30,634.68 L642.90,634.55 L643.50,634.45 L644.10,634.34 L644.70,634.33 L645.30,634.51 L645.90,634.53 L646.50,634.48 L647.10,634.69 L647.70,634.47 L648.30,634.44 L648.90,634.47 L649.50,634.37 L650.10,634.68 L650.70,634.54 L651.30,634.52 L651.90,634.47 L652.50,634.40 L653.10,634.43 L653.70,634.50 L654.30,634.48 L654.90,634.69 L655.50,634.53 L656.10,634.38 L656.70,634.32 L657.30,634.36 L657.90,634.44 L658.50,634.61 L659.10,634.66 L659.70,634.39 L660.30,634.61 L660.90,634.48 L661.50,634.52 L662.10,634.51 L662.70,634.32 L663.30,634.33 L663.90,634.57 L664.50,634.58 L665.10,634.45 L665.70,634.50" stroke="#000" stroke-width="2.3" fill="none" stroke-linejoin="round" stroke-linecap="round" />
<line x1="613.50" y1="627.60" x2="613.50" y2="643.00" stroke="#000" stroke-width="2.4" stroke-linecap="butt"/>
<line x1="665.70" y1="625.60" x2="665.70" y2="643.00" stroke="#000" stroke-width="2.4" stroke-linecap="butt"/>
<line x1="607.20" y1="636.80" x2="613.50" y2="636.80" stroke="#000" stroke-width="3.0" stroke-linecap="round"/>
<line x1="665.70" y1="640.90" x2="675.60" y2="640.90" stroke="#000" stroke-width="3.6" stroke-linecap="round"/>
<path d="M698.90,582.20 L699.50,578.14 L700.11,574.37 L700.71,570.86 L701.32,567.96 L701.92,565.87 L702.53,563.88 L703.13,561.85 L703.74,560.21 L704.34,559.16 L704.95,557.74 L705.55,557.18 L706.16,556.26 L706.76,555.31 L707.37,554.77 L707.97,554.09 L708.58,553.58 L709.18,553.15 L709.78,553.17 L710.39,552.64 L710.99,552.52 L711.60,552.06 L712.20,552.12 L712.81,551.81 L713.41,551.69 L714.02,551.39 L714.62,551.37 L715.23,551.03 L715.83,551.41 L716.44,551.14 L717.04,550.98 L717.65,550.98 L718.25,550.60 L718.86,550.68 L719.46,550.57 L720.06,550.90 L720.67,550.36 L721.27,550.59 L721.88,550.81 L722.48,550.73 L723.09,550.67 L723.69,550.40 L724.30,550.33 L724.90,550.60 L725.51,550.34 L726.11,550.57 L726.72,550.34 L727.32,550.57 L727.93,550.44 L728.53,550.58 L729.14,550.67 L729.74,550.29 L730.34,550.65 L730.95,550.05 L731.55,550.57 L732.16,550.05 L732.76,550.35 L733.37,550.25 L733.97,550.47 L734.58,550.20 L735.18,550.13 L735.79,550.47 L736.39,550.32 L737.00,550.44 L737.60,550.27 L738.21,550.00 L738.81,550.44 L739.42,550.10 L740.02,550.25 L740.62,549.96 L741.23,550.11 L741.83,550.36 L742.44,550.41 L743.04,550.33 L743.65,550.21 L744.25,550.39 L744.86,550.35 L745.46,550.07 L746.07,550.26 L746.67,550.30 L747.28,550.37 L747.88,550.05 L748.49,550.12 L749.09,550.14 L749.70,549.99 L750.30,550.23" stroke="#0000ff" stroke-width="2.2" fill="none" stroke-linejoin="round" stroke-linecap="round" />
<path d="M698.90,587.30 L699.50,584.90 L700.11,583.21 L700.71,581.52 L701.32,579.95 L701.92,579.18 L702.53,577.89 L703.13,577.50 L703.74,576.50 L704.34,575.93 L704.95,575.57 L705.55,575.35 L706.16,574.89 L706.76,574.99 L707.37,574.80 L707.97,574.22 L708.58,574.34 L709.18,574.17 L709.78,573.97 L710.39,573.69 L710.99,574.02 L711.60,573.96 L712.20,573.33 L712.81,573.47 L713.41,573.41 L714.02,573.30 L714.62,573.40 L715.23,573.65 L715.83,573.10 L716.44,573.56 L717.04,573.23 L717.65,573.03 L718.25,573.54 L718.86,573.15 L719.46,573.10 L720.06,573.03 L720.67,573.17 L721.27,573.01 L721.88,573.04 L722.48,573.07 L723.09,573.26 L723.69,573.17 L724.30,573.08 L724.90,573.21 L725.51,573.35 L726.11,573.32 L726.72,573.08 L727.32,573.42 L727.93,573.34 L728.53,573.20 L729.14,573.14 L729.74,573.05 L730.34,572.93 L730.95,573.38 L731.55,573.21 L732.16,572.90 L732.76,573.40 L733.37,573.37 L733.97,572.86 L734.58,573.25 L735.18,572.97 L735.79,573.15 L736.39,573.33 L737.00,573.04 L737.60,573.12 L738.21,573.22 L738.81,572.94 L739.42,573.20 L740.02,573.07 L740.62,573.41 L741.23,572.93 L741.83,573.24 L742.44,572.84 L743.04,572.98 L743.65,572.88 L744.25,572.90 L744.86,573.13 L745.46,572.92 L746.07,573.29 L746.67,572.87 L747.28,573.18 L747.88,573.33 L748.49,572.88 L749.09,572.94 L749.70,573.27 L750.30,573.11" stroke="#0000ff" stroke-width="2.2" fill="none" stroke-linejoin="round" stroke-linecap="round" />
<path d="M698.90,602.70 L699.50,600.98 L700.11,599.89 L700.71,598.45 L701.32,597.62 L701.92,597.27 L702.53,596.34 L703.13,596.27 L703.74,595.87 L704.34,595.17 L704.95,595.15 L705.55,595.20 L706.16,594.55 L706.76,594.86 L707.37,594.72 L707.97,594.62 L708.58,594.46 L709.18,594.10 L709.78,594.57 L710.39,594.01 L710.99,594.39 L711.60,594.32 L712.20,594.05 L712.81,594.25 L713.41,594.06 L714.02,594.25 L714.62,593.81 L715.23,594.33 L715.83,593.99 L716.44,594.23 L717.04,594.02 L717.65,594.22 L718.25,593.90 L718.86,594.04 L719.46,593.72 L720.06,593.99 L720.67,593.74 L721.27,594.20 L721.88,594.09 L722.48,593.93 L723.09,594.26 L723.69,594.24 L724.30,594.24 L724.90,593.71 L725.51,594.08 L726.11,594.09 L726.72,594.01 L727.32,593.66 L727.93,594.20 L728.53,593.90 L729.14,594.00 L729.74,594.13 L730.34,593.80 L730.95,593.65 L731.55,594.18 L732.16,593.79 L732.76,593.65 L733.37,593.71 L733.97,594.22 L734.58,594.07 L735.18,593.75 L735.79,593.71 L736.39,594.16 L737.00,594.02 L737.60,593.97 L738.21,593.69 L738.81,593.86 L739.42,594.18 L740.02,593.62 L740.62,593.86 L741.23,593.65 L741.83,594.21 L742.44,593.67 L743.04,594.18 L743.65,594.11 L744.25,594.05 L744.86,593.63 L745.46,594.02 L746.07,593.90 L746.67,593.90 L747.28,593.69 L747.88,593.91 L748.49,594.09 L749.09,593.68 L749.70,594.13 L750.30,593.90" stroke="#0000ff" stroke-width="2.2" fill="none" stroke-linejoin="round" stroke-linecap="round" />
<path d="M698.90,615.10 L699.50,614.41 L700.11,613.80 L700.71,613.36 L701.32,613.14 L701.92,612.97 L702.53,612.69 L703.13,612.69 L703.74,612.30 L704.34,612.18 L704.95,612.36 L705.55,611.81 L706.16,611.62 L706.76,611.75 L707.37,611.70 L707.97,611.54 L708.58,611.69 L709.18,611.43 L709.78,611.95 L710.39,611.67 L710.99,611.89 L711.60,611.77 L712.20,611.78 L712.81,611.79 L713.41,611.51 L714.02,611.76 L714.62,611.44 L715.23,611.65 L715.83,611.67 L716.44,611.78 L717.04,611.41 L717.65,611.51 L718.25,611.80 L718.86,611.79 L719.46,611.89 L720.06,611.37 L720.67,611.43 L721.27,611.37 L721.88,611.74 L722.48,611.75 L723.09,611.69 L723.69,611.77 L724.30,611.61 L724.90,611.64 L725.51,611.85 L726.11,611.69 L726.72,611.69 L727.32,611.65 L727.93,611.60 L728.53,611.75 L729.14,611.64 L729.74,611.38 L730.34,611.56 L730.95,611.55 L731.55,611.56 L732.16,611.64 L732.76,611.52 L733.37,611.53 L733.97,611.56 L734.58,611.52 L735.18,611.88 L735.79,611.35 L736.39,611.31 L737.00,611.73 L737.60,611.54 L738.21,611.57 L738.81,611.66 L739.42,611.52 L740.02,611.44 L740.62,611.31 L741.23,611.82 L741.83,611.86 L742.44,611.47 L743.04,611.58 L743.65,611.49 L744.25,611.34 L744.86,611.84 L745.46,611.80 L746.07,611.44 L746.67,611.45 L747.28,611.72 L747.88,611.78 L748.49,611.58 L749.09,611.53 L749.70,611.44 L750.30,611.60" stroke="#0000ff" stroke-width="2.2" fill="none" stroke-linejoin="round" stroke-linecap="round" />
<path d="M698.90,627.10 L699.50,627.01 L700.11,626.82 L700.71,626.63 L701.32,626.04 L701.92,626.20 L702.53,626.34 L703.13,626.09 L703.74,625.87 L704.34,625.63 L704.95,625.54 L705.55,625.90 L706.16,625.47 L706.76,625.89 L707.37,625.79 L707.97,625.66 L708.58,625.89 L709.18,625.91 L709.78,625.71 L710.39,625.39 L710.99,625.68 L711.60,625.57 L712.20,625.47 L712.81,625.87 L713.41,625.75 L714.02,625.38 L714.62,625.45 L715.23,625.51 L715.83,625.65 L716.44,625.50 L717.04,625.57 L717.65,625.79 L718.25,625.41 L718.86,625.73 L719.46,625.50 L720.06,625.87 L720.67,625.87 L721.27,625.50 L721.88,625.66 L722.48,625.37 L723.09,625.55 L723.69,625.67 L724.30,625.68 L724.90,625.51 L725.51,625.32 L726.11,625.37 L726.72,625.64 L727.32,625.40 L727.93,625.48 L728.53,625.67 L729.14,625.84 L729.74,625.61 L730.34,625.45 L730.95,625.65 L731.55,625.47 L732.16,625.77 L732.76,625.39 L733.37,625.46 L733.97,625.56 L734.58,625.84 L735.18,625.40 L735.79,625.42 L736.39,625.38 L737.00,625.43 L737.60,625.50 L738.21,625.54 L738.81,625.76 L739.42,625.54 L740.02,625.59 L740.62,625.54 L741.23,625.76 L741.83,625.84 L742.44,625.56 L743.04,625.85 L743.65,625.45 L744.25,625.89 L744.86,625.62 L745.46,625.71 L746.07,625.53 L746.67,625.46 L747.28,625.38 L747.88,625.83 L748.49,625.52 L749.09,625.72 L749.70,625.58 L750.30,625.60" stroke="#0000ff" stroke-width="2.2" fill="none" stroke-linejoin="round" stroke-linecap="round" />
<path d="M698.90,637.70 L699.50,637.72 L700.11,637.52 L700.71,637.51 L701.32,637.60 L701.92,637.81 L702.53,637.73 L703.13,637.40 L703.74,637.83 L704.34,637.66 L704.95,637.44 L705.55,637.56 L706.16,637.53 L706.76,637.89 L707.37,637.73 L707.97,637.60 L708.58,637.55 L709.18,637.57 L709.78,637.57 L710.39,637.61 L710.99,637.87 L711.60,637.87 L712.20,637.82 L712.81,637.93 L713.41,637.79 L714.02,637.47 L714.62,637.43 L715.23,637.50 L715.83,637.55 L716.44,637.72 L717.04,637.89 L717.65,637.75 L718.25,637.66 L718.86,637.55 L719.46,637.99 L720.06,637.85 L720.67,637.60 L721.27,637.43 L721.88,637.99 L722.48,637.55 L723.09,637.91 L723.69,637.47 L724.30,637.79 L724.90,637.61 L725.51,637.93 L726.11,637.58 L726.72,637.46 L727.32,637.52 L727.93,637.88 L728.53,637.99 L729.14,637.79 L729.74,637.81 L730.34,637.57 L730.95,637.56 L731.55,637.45 L732.16,637.99 L732.76,637.43 L733.37,637.77 L733.97,637.61 L734.58,637.51 L735.18,637.66 L735.79,637.96 L736.39,637.55 L737.00,637.50 L737.60,637.78 L738.21,637.79 L738.81,637.71 L739.42,637.51 L740.02,637.92 L740.62,637.47 L741.23,637.50 L741.83,637.55 L742.44,637.71 L743.04,637.69 L743.65,637.73 L744.25,637.84 L744.86,637.94 L745.46,637.68 L746.07,637.43 L746.67,637.90 L747.28,637.41 L747.88,637.59 L748.49,637.49 L749.09,637.76 L749.70,637.87 L750.30,637.70" stroke="#0000ff" stroke-width="2.2" fill="none" stroke-linejoin="round" stroke-linecap="round" />
<path d="M698.90,646.50 L699.50,646.28 L700.11,646.38 L700.71,646.71 L701.32,646.61 L701.92,646.27 L702.53,646.61 L703.13,646.68 L703.74,646.45 L704.34,646.29 L704.95,646.60 L705.55,646.39 L706.16,646.28 L706.76,646.30 L707.37,646.44 L707.97,646.28 L708.58,646.43 L709.18,646.53 L709.78,646.53 L710.39,646.44 L710.99,646.68 L711.60,646.25 L712.20,646.40 L712.81,646.76 L713.41,646.72 L714.02,646.75 L714.62,646.66 L715.23,646.52 L715.83,646.67 L716.44,646.54 L717.04,646.27 L717.65,646.35 L718.25,646.26 L718.86,646.73 L719.46,646.39 L720.06,646.44 L720.67,646.52 L721.27,646.26 L721.88,646.62 L722.48,646.68 L723.09,646.68 L723.69,646.73 L724.30,646.39 L724.90,646.29 L725.51,646.66 L726.11,646.62 L726.72,646.42 L727.32,646.41 L727.93,646.29 L728.53,646.70 L729.14,646.48 L729.74,646.69 L730.34,646.40 L730.95,646.39 L731.55,646.51 L732.16,646.65 L732.76,646.73 L733.37,646.41 L733.97,646.62 L734.58,646.44 L735.18,646.72 L735.79,646.66 L736.39,646.53 L737.00,646.42 L737.60,646.36 L738.21,646.73 L738.81,646.68 L739.42,646.38 L740.02,646.25 L740.62,646.32 L741.23,646.78 L741.83,646.22 L742.44,646.69 L743.04,646.52 L743.65,646.53 L744.25,646.52 L744.86,646.45 L745.46,646.53 L746.07,646.25 L746.67,646.75 L747.28,646.26 L747.88,646.28 L748.49,646.60 L749.09,646.58 L749.70,646.68 L750.30,646.50" stroke="#0000ff" stroke-width="2.2" fill="none" stroke-linejoin="round" stroke-linecap="round" />
<path d="M698.90,651.50 L699.50,651.62 L700.11,651.76 L700.71,651.23 L701.32,651.21 L701.92,651.34 L702.53,651.67 L703.13,651.29 L703.74,651.52 L704.34,651.66 L704.95,651.29 L705.55,651.52 L706.16,651.74 L706.76,651.65 L707.37,651.44 L707.97,651.49 L708.58,651.37 L709.18,651.78 L709.78,651.67 L710.39,651.61 L710.99,651.38 L711.60,651.64 L712.20,651.49 L712.81,651.68 L713.41,651.42 L714.02,651.73 L714.62,651.61 L715.23,651.47 L715.83,651.54 L716.44,651.68 L717.04,651.52 L717.65,651.78 L718.25,651.20 L718.86,651.74 L719.46,651.63 L720.06,651.49 L720.67,651.71 L721.27,651.29 L721.88,651.40 L722.48,651.63 L723.09,651.69 L723.69,651.42 L724.30,651.80 L724.90,651.59 L725.51,651.23 L726.11,651.27 L726.72,651.25 L727.32,651.54 L727.93,651.39 L728.53,651.36 L729.14,651.47 L729.74,651.25 L730.34,651.75 L730.95,651.70 L731.55,651.54 L732.16,651.47 L732.76,651.39 L733.37,651.56 L733.97,651.41 L734.58,651.79 L735.18,651.77 L735.79,651.64 L736.39,651.70 L737.00,651.25 L737.60,651.27 L738.21,651.41 L738.81,651.28 L739.42,651.45 L740.02,651.79 L740.62,651.70 L741.23,651.78 L741.83,651.33 L742.44,651.33 L743.04,651.21 L743.65,651.36 L744.25,651.23 L744.86,651.52 L745.46,651.38 L746.07,651.60 L746.67,651.54 L747.28,651.56 L747.88,651.38 L748.49,651.64 L749.09,651.61 L749.70,651.63 L750.30,651.50" stroke="#0000ff" stroke-width="2.2" fill="none" stroke-linejoin="round" stroke-linecap="round" />
<path d="M698.90,656.40 L699.50,656.38 L700.11,656.38 L700.71,656.27 L701.32,656.12 L701.92,656.38 L702.53,656.47 L703.13,656.21 L703.74,656.62 L704.34,656.63 L704.95,656.61 L705.55,656.59 L706.16,656.39 L706.76,656.21 L707.37,656.26 L707.97,656.54 L708.58,656.69 L709.18,656.17 L709.78,656.10 L710.39,656.31 L710.99,656.31 L711.60,656.46 L712.20,656.17 L712.81,656.61 L713.41,656.30 L714.02,656.65 L714.62,656.30 L715.23,656.28 L715.83,656.21 L716.44,656.68 L717.04,656.45 L717.65,656.60 L718.25,656.14 L718.86,656.43 L719.46,656.54 L720.06,656.69 L720.67,656.66 L721.27,656.16 L721.88,656.32 L722.48,656.70 L723.09,656.42 L723.69,656.67 L724.30,656.25 L724.90,656.12 L725.51,656.67 L726.11,656.26 L726.72,656.44 L727.32,656.32 L727.93,656.45 L728.53,656.66 L729.14,656.67 L729.74,656.63 L730.34,656.25 L730.95,656.59 L731.55,656.11 L732.16,656.35 L732.76,656.67 L733.37,656.25 L733.97,656.32 L734.58,656.45 L735.18,656.24 L735.79,656.53 L736.39,656.49 L737.00,656.16 L737.60,656.65 L738.21,656.14 L738.81,656.52 L739.42,656.31 L740.02,656.19 L740.62,656.15 L741.23,656.70 L741.83,656.58 L742.44,656.38 L743.04,656.58 L743.65,656.68 L744.25,656.66 L744.86,656.42 L745.46,656.26 L746.07,656.41 L746.67,656.69 L747.28,656.54 L747.88,656.50 L748.49,656.61 L749.09,656.35 L749.70,656.44 L750.30,656.40" stroke="#0000ff" stroke-width="2.2" fill="none" stroke-linejoin="round" stroke-linecap="round" />
<path d="M698.90,661.10 L699.50,661.31 L700.11,660.92 L700.71,661.32 L701.32,660.81 L701.92,661.12 L702.53,661.14 L703.13,660.89 L703.74,661.35 L704.34,661.06 L704.95,660.91 L705.55,661.05 L706.16,661.15 L706.76,661.06 L707.37,660.80 L707.97,660.86 L708.58,661.23 L709.18,660.88 L709.78,660.95 L710.39,661.28 L710.99,661.32 L711.60,661.33 L712.20,660.90 L712.81,660.80 L713.41,661.25 L714.02,661.16 L714.62,661.02 L715.23,660.81 L715.83,661.06 L716.44,660.94 L717.04,661.15 L717.65,661.39 L718.25,660.93 L718.86,660.85 L719.46,661.22 L720.06,660.86 L720.67,660.93 L721.27,661.06 L721.88,661.39 L722.48,660.99 L723.09,660.99 L723.69,661.09 L724.30,660.90 L724.90,661.04 L725.51,661.22 L726.11,660.99 L726.72,661.28 L727.32,660.91 L727.93,660.86 L728.53,661.18 L729.14,661.07 L729.74,661.35 L730.34,660.86 L730.95,661.25 L731.55,661.20 L732.16,661.02 L732.76,660.88 L733.37,661.17 L733.97,661.25 L734.58,661.08 L735.18,661.08 L735.79,661.21 L736.39,661.17 L737.00,661.05 L737.60,660.91 L738.21,661.08 L738.81,661.13 L739.42,661.34 L740.02,661.40 L740.62,661.13 L741.23,661.00 L741.83,660.93 L742.44,661.18 L743.04,661.24 L743.65,660.95 L744.25,661.21 L744.86,661.40 L745.46,661.03 L746.07,661.36 L746.67,661.06 L747.28,661.19 L747.88,661.32 L748.49,660.92 L749.09,661.01 L749.70,661.39 L750.30,661.10" stroke="#0000ff" stroke-width="2.2" fill="none" stroke-linejoin="round" stroke-linecap="round" />
<path d="M698.90,665.00 L699.50,664.74 L700.11,664.88 L700.71,664.99 L701.32,665.15 L701.92,665.08 L702.53,665.26 L703.13,665.10 L703.74,664.70 L704.34,664.74 L704.95,664.72 L705.55,664.96 L706.16,664.72 L706.76,665.02 L707.37,665.08 L707.97,664.82 L708.58,665.21 L709.18,664.95 L709.78,665.28 L710.39,664.91 L710.99,665.07 L711.60,665.03 L712.20,664.86 L712.81,665.17 L713.41,664.70 L714.02,664.85 L714.62,664.89 L715.23,665.23 L715.83,665.00 L716.44,664.72 L717.04,664.88 L717.65,665.07 L718.25,665.19 L718.86,664.77 L719.46,665.17 L720.06,664.93 L720.67,665.01 L721.27,664.95 L721.88,664.96 L722.48,665.29 L723.09,665.25 L723.69,665.25 L724.30,665.14 L724.90,665.12 L725.51,664.78 L726.11,664.72 L726.72,665.20 L727.32,665.10 L727.93,665.08 L728.53,664.89 L729.14,664.86 L729.74,665.25 L730.34,665.02 L730.95,664.71 L731.55,664.90 L732.16,664.91 L732.76,664.74 L733.37,665.29 L733.97,665.24 L734.58,665.19 L735.18,664.70 L735.79,664.95 L736.39,664.77 L737.00,665.14 L737.60,665.19 L738.21,665.17 L738.81,665.18 L739.42,664.77 L740.02,664.71 L740.62,664.76 L741.23,665.21 L741.83,665.20 L742.44,665.01 L743.04,664.84 L743.65,665.21 L744.25,664.77 L744.86,664.89 L745.46,664.70 L746.07,665.29 L746.67,664.95 L747.28,665.16 L747.88,665.18 L748.49,665.05 L749.09,665.29 L749.70,665.16 L750.30,665.00" stroke="#0000ff" stroke-width="2.2" fill="none" stroke-linejoin="round" stroke-linecap="round" />
<path d="M698.90,671.00 L699.50,670.71 L700.11,670.28 L700.71,669.39 L701.32,669.49 L701.92,668.93 L702.53,668.79 L703.13,668.64 L703.74,668.89 L704.34,668.23 L704.95,668.36 L705.55,668.10 L706.16,668.57 L706.76,668.22 L707.37,668.30 L707.97,668.16 L708.58,668.28 L709.18,668.00 L709.78,668.03 L710.39,668.21 L710.99,668.17 L711.60,668.28 L712.20,667.92 L712.81,668.24 L713.41,668.17 L714.02,668.06 L714.62,667.96 L715.23,668.05 L715.83,667.76 L716.44,667.77 L717.04,667.89 L717.65,667.78 L718.25,667.73 L718.86,668.13 L719.46,668.14 L720.06,668.07 L720.67,667.83 L721.27,668.13 L721.88,668.20 L722.48,668.07 L723.09,667.84 L723.69,668.04 L724.30,667.94 L724.90,667.86 L725.51,667.79 L726.11,668.22 L726.72,668.08 L727.32,668.26 L727.93,667.80 L728.53,667.86 L729.14,668.01 L729.74,667.74 L730.34,667.88 L730.95,668.02 L731.55,667.99 L732.16,668.25 L732.76,668.05 L733.37,668.08 L733.97,668.05 L734.58,668.17 L735.18,667.92 L735.79,667.70 L736.39,668.29 L737.00,668.18 L737.60,667.78 L738.21,667.77 L738.81,667.83 L739.42,668.09 L740.02,667.78 L740.62,667.71 L741.23,668.00 L741.83,667.70 L742.44,667.86 L743.04,667.93 L743.65,667.82 L744.25,667.70 L744.86,667.86 L745.46,667.85 L746.07,667.89 L746.67,667.95 L747.28,667.92 L747.88,667.89 L748.49,667.71 L749.09,668.20 L749.70,668.14 L750.30,668.00" stroke="#0000ff" stroke-width="2.2" fill="none" stroke-linejoin="round" stroke-linecap="round" />
<line x1="698.90" y1="570.00" x2="698.90" y2="672.80" stroke="#0000ff" stroke-width="2.3" stroke-linecap="butt"/>
<line x1="750.30" y1="549.20" x2="750.30" y2="693.50" stroke="#0000ff" stroke-width="2.3" stroke-linecap="butt"/>
<path d="M693.3,646 L693.3,639.3 Q693.8,637.8 698.9,637.8" stroke="#0000ff" stroke-width="3.0" fill="none" stroke-linejoin="round" stroke-linecap="round" />
<path d="M750.3,665 L761.6,665 L761.6,671.3 L755,671.6 Q752,680 751.2,693.9 L750.3,693.9 Z" stroke="#0000ff" stroke-width="1" fill="#0000ff" stroke-linejoin="round" stroke-linecap="round" />
<line x1="135.40" y1="806.60" x2="135.40" y2="983.10" stroke="#000" stroke-width="2.3" stroke-linecap="butt"/>
<line x1="24.20" y1="954.80" x2="246.60" y2="954.80" stroke="#000" stroke-width="2.3" stroke-linecap="butt"/>
<line x1="127.80" y1="806.60" x2="143.00" y2="806.60" stroke="#000" stroke-width="2.3" stroke-linecap="butt"/>
<line x1="127.80" y1="836.02" x2="143.00" y2="836.02" stroke="#000" stroke-width="2.3" stroke-linecap="butt"/>
<line x1="127.80" y1="865.43" x2="143.00" y2="865.43" stroke="#000" stroke-width="2.3" stroke-linecap="butt"/>
<line x1="127.80" y1="894.85" x2="143.00" y2="894.85" stroke="#000" stroke-width="2.3" stroke-linecap="butt"/>
<line x1="127.80" y1="924.27" x2="143.00" y2="924.27" stroke="#000" stroke-width="2.3" stroke-linecap="butt"/>
<line x1="127.80" y1="953.68" x2="143.00" y2="953.68" stroke="#000" stroke-width="2.3" stroke-linecap="butt"/>
<line x1="127.80" y1="983.10" x2="143.00" y2="983.10" stroke="#000" stroke-width="2.3" stroke-linecap="butt"/>
<line x1="24.20" y1="947.20" x2="24.20" y2="962.40" stroke="#000" stroke-width="2.3" stroke-linecap="butt"/>
<line x1="46.44" y1="947.20" x2="46.44" y2="962.40" stroke="#000" stroke-width="2.3" stroke-linecap="butt"/>
<line x1="68.68" y1="947.20" x2="68.68" y2="962.40" stroke="#000" stroke-width="2.3" stroke-linecap="butt"/>
<line x1="90.92" y1="947.20" x2="90.92" y2="962.40" stroke="#000" stroke-width="2.3" stroke-linecap="butt"/>
<line x1="113.16" y1="947.20" x2="113.16" y2="962.40" stroke="#000" stroke-width="2.3" stroke-linecap="butt"/>
<line x1="135.40" y1="947.20" x2="135.40" y2="962.40" stroke="#000" stroke-width="2.3" stroke-linecap="butt"/>
<line x1="157.64" y1="947.20" x2="157.64" y2="962.40" stroke="#000" stroke-width="2.3" stroke-linecap="butt"/>
<line x1="179.88" y1="947.20" x2="179.88" y2="962.40" stroke="#000" stroke-width="2.3" stroke-linecap="butt"/>
<line x1="202.12" y1="947.20" x2="202.12" y2="962.40" stroke="#000" stroke-width="2.3" stroke-linecap="butt"/>
<line x1="224.36" y1="947.20" x2="224.36" y2="962.40" stroke="#000" stroke-width="2.3" stroke-linecap="butt"/>
<line x1="246.60" y1="947.20" x2="246.60" y2="962.40" stroke="#000" stroke-width="2.3" stroke-linecap="butt"/>
<text x="94.36" y="814.51" font-size="22.4" fill="#000">10</text>
<text x="106.92" y="843.93" font-size="22.4" fill="#000">8</text>
<text x="106.93" y="873.34" font-size="22.4" fill="#000">6</text>
<text x="106.60" y="902.76" font-size="22.4" fill="#000">4</text>
<text x="107.07" y="932.29" font-size="22.4" fill="#000">2</text>
<text x="99.61" y="992.32" font-size="22.4" fill="#000">-2</text>
<text x="-1.38" y="938.98" font-size="22.3" fill="#000">-100</text>
<text x="210.28" y="981.68" font-size="22.3" fill="#000">+100</text>
<text x="201.78" y="1006.12" font-size="22.5" fill="#000">V(mV)</text>
<text transform="translate(160.10,827.45) rotate(-90)" x="-27.23" y="5.69" font-size="22" fill="#000">I (nA)</text>
<circle cx="43.20" cy="821.70" r="7.20" fill="#000" stroke="#000" stroke-width="1.6"/>
<circle cx="43.20" cy="844.20" r="7.20" fill="url(#pb)" stroke="#000" stroke-width="1.6"/>
<text x="59.33" y="827.42" font-size="20.5" fill="#000">con</text>
<text x="59.11" y="850.55" font-size="20.5" fill="#000">Iono</text>
<text x="63.08" y="871.69" font-size="21.8" fill="#000">(7)</text>
<path d="M24.20,960.70 L46.44,958.70 L68.68,957.30 L90.92,954.50 L113.16,953.00 L135.40,950.70 L157.64,946.80 L179.88,944.30 L202.12,941.80 L224.36,937.60 L246.60,933.20" stroke="#000" stroke-width="3" fill="none" stroke-linejoin="round" stroke-linecap="round" />
<circle cx="24.20" cy="960.70" r="6.20" fill="#000" stroke="#000" stroke-width="2.0"/>
<circle cx="46.44" cy="958.70" r="6.20" fill="#000" stroke="#000" stroke-width="2.0"/>
<circle cx="68.68" cy="957.30" r="6.20" fill="#000" stroke="#000" stroke-width="2.0"/>
<circle cx="90.92" cy="954.50" r="6.20" fill="#000" stroke="#000" stroke-width="2.0"/>
<circle cx="113.16" cy="953.00" r="6.20" fill="#000" stroke="#000" stroke-width="2.0"/>
<circle cx="135.40" cy="950.70" r="6.20" fill="#000" stroke="#000" stroke-width="2.0"/>
<circle cx="157.64" cy="946.80" r="6.20" fill="#000" stroke="#000" stroke-width="2.0"/>
<circle cx="179.88" cy="944.30" r="6.20" fill="#000" stroke="#000" stroke-width="2.0"/>
<circle cx="202.12" cy="941.80" r="6.20" fill="#000" stroke="#000" stroke-width="2.0"/>
<circle cx="224.36" cy="937.60" r="6.20" fill="#000" stroke="#000" stroke-width="2.0"/>
<circle cx="246.60" cy="933.20" r="6.20" fill="#000" stroke="#000" stroke-width="2.0"/>
<line x1="24.20" y1="997.10" x2="24.20" y2="1009.80" stroke="#0000ff" stroke-width="2.2" stroke-linecap="butt"/>
<line x1="17.70" y1="1009.80" x2="30.70" y2="1009.80" stroke="#0000ff" stroke-width="2.2" stroke-linecap="butt"/>
<line x1="46.44" y1="984.40" x2="46.44" y2="992.90" stroke="#0000ff" stroke-width="2.2" stroke-linecap="butt"/>
<line x1="39.94" y1="992.90" x2="52.94" y2="992.90" stroke="#0000ff" stroke-width="2.2" stroke-linecap="butt"/>
<line x1="68.68" y1="973.70" x2="68.68" y2="978.70" stroke="#0000ff" stroke-width="2.2" stroke-linecap="butt"/>
<line x1="62.18" y1="978.70" x2="75.18" y2="978.70" stroke="#0000ff" stroke-width="2.2" stroke-linecap="butt"/>
<line x1="157.64" y1="918.30" x2="157.64" y2="910.40" stroke="#0000ff" stroke-width="2.2" stroke-linecap="butt"/>
<line x1="151.14" y1="910.40" x2="164.14" y2="910.40" stroke="#0000ff" stroke-width="2.2" stroke-linecap="butt"/>
<line x1="179.88" y1="902.30" x2="179.88" y2="890.40" stroke="#0000ff" stroke-width="2.2" stroke-linecap="butt"/>
<line x1="173.38" y1="890.40" x2="186.38" y2="890.40" stroke="#0000ff" stroke-width="2.2" stroke-linecap="butt"/>
<line x1="202.12" y1="880.80" x2="202.12" y2="865.20" stroke="#0000ff" stroke-width="2.2" stroke-linecap="butt"/>
<line x1="195.62" y1="865.20" x2="208.62" y2="865.20" stroke="#0000ff" stroke-width="2.2" stroke-linecap="butt"/>
<line x1="224.36" y1="851.60" x2="224.36" y2="829.80" stroke="#0000ff" stroke-width="2.2" stroke-linecap="butt"/>
<line x1="217.86" y1="829.80" x2="230.86" y2="829.80" stroke="#0000ff" stroke-width="2.2" stroke-linecap="butt"/>
<line x1="246.60" y1="817.50" x2="246.60" y2="787.80" stroke="#0000ff" stroke-width="2.2" stroke-linecap="butt"/>
<line x1="240.10" y1="787.80" x2="253.10" y2="787.80" stroke="#0000ff" stroke-width="2.2" stroke-linecap="butt"/>
<path d="M24.20,997.10 L46.44,984.40 L68.68,973.70 L90.92,961.60 L113.16,950.90 L135.40,935.30 L157.64,918.30 L179.88,902.30 L202.12,880.80 L224.36,851.60 L246.60,817.50" stroke="#0000ff" stroke-width="3" fill="none" stroke-linejoin="round" stroke-linecap="round" />
<circle cx="24.20" cy="997.10" r="6.20" fill="#0000ff" stroke="#000" stroke-width="2.0"/>
<circle cx="46.44" cy="984.40" r="6.20" fill="#0000ff" stroke="#000" stroke-width="2.0"/>
<circle cx="68.68" cy="973.70" r="6.20" fill="#0000ff" stroke="#000" stroke-width="2.0"/>
<circle cx="90.92" cy="961.60" r="6.20" fill="#0000ff" stroke="#000" stroke-width="2.0"/>
<circle cx="113.16" cy="950.90" r="6.20" fill="#0000ff" stroke="#000" stroke-width="2.0"/>
<circle cx="135.40" cy="935.30" r="6.20" fill="#0000ff" stroke="#000" stroke-width="2.0"/>
<circle cx="157.64" cy="918.30" r="6.20" fill="#0000ff" stroke="#000" stroke-width="2.0"/>
<circle cx="179.88" cy="902.30" r="6.20" fill="#0000ff" stroke="#000" stroke-width="2.0"/>
<circle cx="202.12" cy="880.80" r="6.20" fill="#0000ff" stroke="#000" stroke-width="2.0"/>
<circle cx="224.36" cy="851.60" r="6.20" fill="#0000ff" stroke="#000" stroke-width="2.0"/>
<circle cx="246.60" cy="817.50" r="6.20" fill="#0000ff" stroke="#000" stroke-width="2.0"/>
<text x="241.03" y="792.97" font-size="25.5" fill="#000" stroke="#000" stroke-width="0.45">*</text>
<text x="218.73" y="831.27" font-size="25.5" fill="#000" stroke="#000" stroke-width="0.45">*</text>
<text x="197.23" y="866.67" font-size="25.5" fill="#000" stroke="#000" stroke-width="0.45">*</text>
<text x="175.03" y="893.87" font-size="25.5" fill="#000" stroke="#000" stroke-width="0.45">*</text>
<text x="153.23" y="912.87" font-size="25.5" fill="#000" stroke="#000" stroke-width="0.45">*</text>
<text x="130.33" y="929.07" font-size="25.5" fill="#000" stroke="#000" stroke-width="0.45">*</text>
<text x="108.13" y="945.07" font-size="25.5" fill="#000" stroke="#000" stroke-width="0.45">*</text>
<text x="19.03" y="1030.37" font-size="25.5" fill="#000" stroke="#000" stroke-width="0.45">*</text>
<text x="41.03" y="1015.77" font-size="25.5" fill="#000" stroke="#000" stroke-width="0.45">*</text>
<text x="62.73" y="1001.77" font-size="25.5" fill="#000" stroke="#000" stroke-width="0.45">*</text>
<text x="86.13" y="987.77" font-size="25.5" fill="#000" stroke="#000" stroke-width="0.45">*</text>
<line x1="402.90" y1="806.40" x2="402.90" y2="983.30" stroke="#000" stroke-width="2.3" stroke-linecap="butt"/>
<line x1="291.90" y1="954.00" x2="513.90" y2="954.00" stroke="#000" stroke-width="2.3" stroke-linecap="butt"/>
<line x1="395.30" y1="806.40" x2="410.50" y2="806.40" stroke="#000" stroke-width="2.3" stroke-linecap="butt"/>
<line x1="395.30" y1="835.88" x2="410.50" y2="835.88" stroke="#000" stroke-width="2.3" stroke-linecap="butt"/>
<line x1="395.30" y1="865.37" x2="410.50" y2="865.37" stroke="#000" stroke-width="2.3" stroke-linecap="butt"/>
<line x1="395.30" y1="894.85" x2="410.50" y2="894.85" stroke="#000" stroke-width="2.3" stroke-linecap="butt"/>
<line x1="395.30" y1="924.33" x2="410.50" y2="924.33" stroke="#000" stroke-width="2.3" stroke-linecap="butt"/>
<line x1="395.30" y1="953.82" x2="410.50" y2="953.82" stroke="#000" stroke-width="2.3" stroke-linecap="butt"/>
<line x1="395.30" y1="983.30" x2="410.50" y2="983.30" stroke="#000" stroke-width="2.3" stroke-linecap="butt"/>
<line x1="291.90" y1="946.40" x2="291.90" y2="961.60" stroke="#000" stroke-width="2.3" stroke-linecap="butt"/>
<line x1="314.10" y1="946.40" x2="314.10" y2="961.60" stroke="#000" stroke-width="2.3" stroke-linecap="butt"/>
<line x1="336.30" y1="946.40" x2="336.30" y2="961.60" stroke="#000" stroke-width="2.3" stroke-linecap="butt"/>
<line x1="358.50" y1="946.40" x2="358.50" y2="961.60" stroke="#000" stroke-width="2.3" stroke-linecap="butt"/>
<line x1="380.70" y1="946.40" x2="380.70" y2="961.60" stroke="#000" stroke-width="2.3" stroke-linecap="butt"/>
<line x1="402.90" y1="946.40" x2="402.90" y2="961.60" stroke="#000" stroke-width="2.3" stroke-linecap="butt"/>
<line x1="425.10" y1="946.40" x2="425.10" y2="961.60" stroke="#000" stroke-width="2.3" stroke-linecap="butt"/>
<line x1="447.30" y1="946.40" x2="447.30" y2="961.60" stroke="#000" stroke-width="2.3" stroke-linecap="butt"/>
<line x1="469.50" y1="946.40" x2="469.50" y2="961.60" stroke="#000" stroke-width="2.3" stroke-linecap="butt"/>
<line x1="491.70" y1="946.40" x2="491.70" y2="961.60" stroke="#000" stroke-width="2.3" stroke-linecap="butt"/>
<line x1="513.90" y1="946.40" x2="513.90" y2="961.60" stroke="#000" stroke-width="2.3" stroke-linecap="butt"/>
<text x="361.86" y="814.31" font-size="22.4" fill="#000">10</text>
<text x="374.42" y="843.79" font-size="22.4" fill="#000">8</text>
<text x="374.43" y="873.28" font-size="22.4" fill="#000">6</text>
<text x="374.10" y="902.76" font-size="22.4" fill="#000">4</text>
<text x="374.57" y="932.35" font-size="22.4" fill="#000">2</text>
<text x="367.11" y="992.52" font-size="22.4" fill="#000">-2</text>
<text x="268.42" y="938.43" font-size="22.3" fill="#000">-100</text>
<text x="481.63" y="981.93" font-size="22.3" fill="#000">+100</text>
<text x="473.13" y="1007.02" font-size="22.5" fill="#000">V(mV)</text>
<text transform="translate(433.10,832.30) rotate(-90)" x="-27.23" y="5.69" font-size="22" fill="#000">I (nA)</text>
<circle cx="313.50" cy="820.90" r="7.20" fill="#000" stroke="#000" stroke-width="1.6"/>
<circle cx="313.50" cy="844.40" r="7.20" fill="url(#pb)" stroke="#000" stroke-width="1.6"/>
<text x="329.53" y="826.62" font-size="20.5" fill="#000">con</text>
<text x="329.31" y="850.75" font-size="20.5" fill="#000">Iono</text>
<text x="328.83" y="875.99" font-size="21.8" fill="#000">(6)</text>
<line x1="291.90" y1="977.30" x2="291.90" y2="983.30" stroke="#0000ff" stroke-width="2.2" stroke-linecap="butt"/>
<line x1="285.40" y1="983.30" x2="298.40" y2="983.30" stroke="#0000ff" stroke-width="2.2" stroke-linecap="butt"/>
<line x1="425.10" y1="938.60" x2="425.10" y2="931.40" stroke="#0000ff" stroke-width="2.2" stroke-linecap="butt"/>
<line x1="418.60" y1="931.40" x2="431.60" y2="931.40" stroke="#0000ff" stroke-width="2.2" stroke-linecap="butt"/>
<line x1="447.30" y1="929.40" x2="447.30" y2="921.00" stroke="#0000ff" stroke-width="2.2" stroke-linecap="butt"/>
<line x1="440.80" y1="921.00" x2="453.80" y2="921.00" stroke="#0000ff" stroke-width="2.2" stroke-linecap="butt"/>
<line x1="469.50" y1="919.30" x2="469.50" y2="908.90" stroke="#0000ff" stroke-width="2.2" stroke-linecap="butt"/>
<line x1="463.00" y1="908.90" x2="476.00" y2="908.90" stroke="#0000ff" stroke-width="2.2" stroke-linecap="butt"/>
<line x1="491.70" y1="907.90" x2="491.70" y2="893.90" stroke="#0000ff" stroke-width="2.2" stroke-linecap="butt"/>
<line x1="485.20" y1="893.90" x2="498.20" y2="893.90" stroke="#0000ff" stroke-width="2.2" stroke-linecap="butt"/>
<line x1="513.90" y1="894.60" x2="513.90" y2="876.50" stroke="#0000ff" stroke-width="2.2" stroke-linecap="butt"/>
<line x1="507.40" y1="876.50" x2="520.40" y2="876.50" stroke="#0000ff" stroke-width="2.2" stroke-linecap="butt"/>
<path d="M291.90,977.30 L314.10,972.90 L336.30,966.40 L358.50,960.40 L380.70,955.10 L402.90,944.70 L425.10,938.60 L447.30,929.40 L469.50,919.30 L491.70,907.90 L513.90,894.60" stroke="#0000ff" stroke-width="3" fill="none" stroke-linejoin="round" stroke-linecap="round" />
<circle cx="291.90" cy="977.30" r="6.20" fill="#0000ff" stroke="#000" stroke-width="2.0"/>
<circle cx="314.10" cy="972.90" r="6.20" fill="#0000ff" stroke="#000" stroke-width="2.0"/>
<circle cx="336.30" cy="966.40" r="6.20" fill="#0000ff" stroke="#000" stroke-width="2.0"/>
<circle cx="358.50" cy="960.40" r="6.20" fill="#0000ff" stroke="#000" stroke-width="2.0"/>
<circle cx="380.70" cy="955.10" r="6.20" fill="#0000ff" stroke="#000" stroke-width="2.0"/>
<circle cx="402.90" cy="944.70" r="6.20" fill="#0000ff" stroke="#000" stroke-width="2.0"/>
<circle cx="425.10" cy="938.60" r="6.20" fill="#0000ff" stroke="#000" stroke-width="2.0"/>
<circle cx="447.30" cy="929.40" r="6.20" fill="#0000ff" stroke="#000" stroke-width="2.0"/>
<circle cx="469.50" cy="919.30" r="6.20" fill="#0000ff" stroke="#000" stroke-width="2.0"/>
<circle cx="491.70" cy="907.90" r="6.20" fill="#0000ff" stroke="#000" stroke-width="2.0"/>
<circle cx="513.90" cy="894.60" r="6.20" fill="#0000ff" stroke="#000" stroke-width="2.0"/>
<path d="M291.90,959.20 L314.10,956.70 L336.30,955.50 L358.50,953.80 L380.70,951.90 L402.90,950.70 L425.10,948.30 L447.30,945.90 L469.50,942.20 L491.70,940.30 L513.90,937.90" stroke="#000" stroke-width="3" fill="none" stroke-linejoin="round" stroke-linecap="round" />
<circle cx="291.90" cy="959.20" r="6.20" fill="#000" stroke="#000" stroke-width="2.0"/>
<circle cx="314.10" cy="956.70" r="6.20" fill="#000" stroke="#000" stroke-width="2.0"/>
<circle cx="336.30" cy="955.50" r="6.20" fill="#000" stroke="#000" stroke-width="2.0"/>
<circle cx="358.50" cy="953.80" r="6.20" fill="#000" stroke="#000" stroke-width="2.0"/>
<circle cx="380.70" cy="951.90" r="6.20" fill="#000" stroke="#000" stroke-width="2.0"/>
<circle cx="402.90" cy="950.70" r="6.20" fill="#000" stroke="#000" stroke-width="2.0"/>
<circle cx="425.10" cy="948.30" r="6.20" fill="#000" stroke="#000" stroke-width="2.0"/>
<circle cx="447.30" cy="945.90" r="6.20" fill="#000" stroke="#000" stroke-width="2.0"/>
<circle cx="469.50" cy="942.20" r="6.20" fill="#000" stroke="#000" stroke-width="2.0"/>
<circle cx="491.70" cy="940.30" r="6.20" fill="#000" stroke="#000" stroke-width="2.0"/>
<circle cx="513.90" cy="937.90" r="6.20" fill="#000" stroke="#000" stroke-width="2.0"/>
<text x="507.71" y="855.87" font-size="23" fill="#000" stroke="#000" stroke-width="0.55">#</text>
<text x="509.13" y="880.37" font-size="25.5" fill="#000" stroke="#000" stroke-width="0.45">*</text>
<text x="483.51" y="871.57" font-size="23" fill="#000" stroke="#000" stroke-width="0.55">#</text>
<text x="484.93" y="898.57" font-size="25.5" fill="#000" stroke="#000" stroke-width="0.45">*</text>
<text x="461.81" y="890.87" font-size="23" fill="#000" stroke="#000" stroke-width="0.55">#</text>
<text x="463.23" y="913.07" font-size="25.5" fill="#000" stroke="#000" stroke-width="0.45">*</text>
<text x="441.21" y="902.27" font-size="23" fill="#000" stroke="#000" stroke-width="0.55">#</text>
<text x="442.63" y="925.07" font-size="25.5" fill="#000" stroke="#000" stroke-width="0.45">*</text>
<text x="417.11" y="910.27" font-size="23" fill="#000" stroke="#000" stroke-width="0.55">#</text>
<text x="419.73" y="934.77" font-size="25.5" fill="#000" stroke="#000" stroke-width="0.45">*</text>
<text x="397.43" y="944.47" font-size="25.5" fill="#000" stroke="#000" stroke-width="0.45">*</text>
<text x="354.43" y="989.17" font-size="25.5" fill="#000" stroke="#000" stroke-width="0.45">*</text>
<text x="331.93" y="995.17" font-size="25.5" fill="#000" stroke="#000" stroke-width="0.45">*</text>
<text x="308.53" y="1001.27" font-size="25.5" fill="#000" stroke="#000" stroke-width="0.45">*</text>
<text x="308.31" y="1012.97" font-size="23" fill="#000" stroke="#000" stroke-width="0.55">#</text>
<text x="288.03" y="1007.27" font-size="25.5" fill="#000" stroke="#000" stroke-width="0.45">*</text>
<text x="286.61" y="1016.57" font-size="23" fill="#000" stroke="#000" stroke-width="0.55">#</text>
<line x1="680.90" y1="805.70" x2="680.90" y2="982.60" stroke="#000" stroke-width="2.3" stroke-linecap="butt"/>
<line x1="569.90" y1="953.30" x2="791.90" y2="953.30" stroke="#000" stroke-width="2.3" stroke-linecap="butt"/>
<line x1="673.30" y1="805.70" x2="688.50" y2="805.70" stroke="#000" stroke-width="2.3" stroke-linecap="butt"/>
<line x1="673.30" y1="835.18" x2="688.50" y2="835.18" stroke="#000" stroke-width="2.3" stroke-linecap="butt"/>
<line x1="673.30" y1="864.67" x2="688.50" y2="864.67" stroke="#000" stroke-width="2.3" stroke-linecap="butt"/>
<line x1="673.30" y1="894.15" x2="688.50" y2="894.15" stroke="#000" stroke-width="2.3" stroke-linecap="butt"/>
<line x1="673.30" y1="923.63" x2="688.50" y2="923.63" stroke="#000" stroke-width="2.3" stroke-linecap="butt"/>
<line x1="673.30" y1="953.12" x2="688.50" y2="953.12" stroke="#000" stroke-width="2.3" stroke-linecap="butt"/>
<line x1="673.30" y1="982.60" x2="688.50" y2="982.60" stroke="#000" stroke-width="2.3" stroke-linecap="butt"/>
<line x1="569.90" y1="945.70" x2="569.90" y2="960.90" stroke="#000" stroke-width="2.3" stroke-linecap="butt"/>
<line x1="592.10" y1="945.70" x2="592.10" y2="960.90" stroke="#000" stroke-width="2.3" stroke-linecap="butt"/>
<line x1="614.30" y1="945.70" x2="614.30" y2="960.90" stroke="#000" stroke-width="2.3" stroke-linecap="butt"/>
<line x1="636.50" y1="945.70" x2="636.50" y2="960.90" stroke="#000" stroke-width="2.3" stroke-linecap="butt"/>
<line x1="658.70" y1="945.70" x2="658.70" y2="960.90" stroke="#000" stroke-width="2.3" stroke-linecap="butt"/>
<line x1="680.90" y1="945.70" x2="680.90" y2="960.90" stroke="#000" stroke-width="2.3" stroke-linecap="butt"/>
<line x1="703.10" y1="945.70" x2="703.10" y2="960.90" stroke="#000" stroke-width="2.3" stroke-linecap="butt"/>
<line x1="725.30" y1="945.70" x2="725.30" y2="960.90" stroke="#000" stroke-width="2.3" stroke-linecap="butt"/>
<line x1="747.50" y1="945.70" x2="747.50" y2="960.90" stroke="#000" stroke-width="2.3" stroke-linecap="butt"/>
<line x1="769.70" y1="945.70" x2="769.70" y2="960.90" stroke="#000" stroke-width="2.3" stroke-linecap="butt"/>
<line x1="791.90" y1="945.70" x2="791.90" y2="960.90" stroke="#000" stroke-width="2.3" stroke-linecap="butt"/>
<text x="639.86" y="813.61" font-size="22.4" fill="#000">10</text>
<text x="652.42" y="843.09" font-size="22.4" fill="#000">8</text>
<text x="652.43" y="872.58" font-size="22.4" fill="#000">6</text>
<text x="652.10" y="902.06" font-size="22.4" fill="#000">4</text>
<text x="652.57" y="931.65" font-size="22.4" fill="#000">2</text>
<text x="645.11" y="991.82" font-size="22.4" fill="#000">-2</text>
<text x="545.77" y="937.83" font-size="22.3" fill="#000">-100</text>
<text x="759.68" y="981.93" font-size="22.3" fill="#000">+100</text>
<text x="750.88" y="1006.12" font-size="22.5" fill="#000">V(mV)</text>
<text transform="translate(710.70,831.10) rotate(-90)" x="-27.23" y="5.69" font-size="22" fill="#000">I (nA)</text>
<circle cx="589.10" cy="815.50" r="7.20" fill="#000" stroke="#000" stroke-width="1.6"/>
<circle cx="589.10" cy="838.30" r="7.20" fill="url(#pb)" stroke="#000" stroke-width="1.6"/>
<text x="605.33" y="821.22" font-size="20.5" fill="#000">con</text>
<text x="605.11" y="844.65" font-size="20.5" fill="#000">Iono</text>
<text x="607.78" y="869.94" font-size="21.8" fill="#000">(6)</text>
<line x1="569.90" y1="982.60" x2="569.90" y2="989.40" stroke="#0000ff" stroke-width="2.2" stroke-linecap="butt"/>
<line x1="563.40" y1="989.40" x2="576.40" y2="989.40" stroke="#0000ff" stroke-width="2.2" stroke-linecap="butt"/>
<line x1="703.10" y1="933.80" x2="703.10" y2="928.20" stroke="#0000ff" stroke-width="2.2" stroke-linecap="butt"/>
<line x1="696.60" y1="928.20" x2="709.60" y2="928.20" stroke="#0000ff" stroke-width="2.2" stroke-linecap="butt"/>
<line x1="725.30" y1="922.40" x2="725.30" y2="915.20" stroke="#0000ff" stroke-width="2.2" stroke-linecap="butt"/>
<line x1="718.80" y1="915.20" x2="731.80" y2="915.20" stroke="#0000ff" stroke-width="2.2" stroke-linecap="butt"/>
<line x1="747.50" y1="910.30" x2="747.50" y2="900.70" stroke="#0000ff" stroke-width="2.2" stroke-linecap="butt"/>
<line x1="741.00" y1="900.70" x2="754.00" y2="900.70" stroke="#0000ff" stroke-width="2.2" stroke-linecap="butt"/>
<line x1="769.70" y1="895.80" x2="769.70" y2="882.30" stroke="#0000ff" stroke-width="2.2" stroke-linecap="butt"/>
<line x1="763.20" y1="882.30" x2="776.20" y2="882.30" stroke="#0000ff" stroke-width="2.2" stroke-linecap="butt"/>
<line x1="791.90" y1="878.90" x2="791.90" y2="862.00" stroke="#0000ff" stroke-width="2.2" stroke-linecap="butt"/>
<line x1="785.40" y1="862.00" x2="798.40" y2="862.00" stroke="#0000ff" stroke-width="2.2" stroke-linecap="butt"/>
<path d="M569.90,982.60 L592.10,977.30 L614.30,968.80 L636.50,960.40 L658.70,955.10 L680.90,942.20 L703.10,933.80 L725.30,922.40 L747.50,910.30 L769.70,895.80 L791.90,878.90" stroke="#0000ff" stroke-width="3" fill="none" stroke-linejoin="round" stroke-linecap="round" />
<circle cx="569.90" cy="982.60" r="6.20" fill="#0000ff" stroke="#000" stroke-width="2.0"/>
<circle cx="592.10" cy="977.30" r="6.20" fill="#0000ff" stroke="#000" stroke-width="2.0"/>
<circle cx="614.30" cy="968.80" r="6.20" fill="#0000ff" stroke="#000" stroke-width="2.0"/>
<circle cx="636.50" cy="960.40" r="6.20" fill="#0000ff" stroke="#000" stroke-width="2.0"/>
<circle cx="658.70" cy="955.10" r="6.20" fill="#0000ff" stroke="#000" stroke-width="2.0"/>
<circle cx="680.90" cy="942.20" r="6.20" fill="#0000ff" stroke="#000" stroke-width="2.0"/>
<circle cx="703.10" cy="933.80" r="6.20" fill="#0000ff" stroke="#000" stroke-width="2.0"/>
<circle cx="725.30" cy="922.40" r="6.20" fill="#0000ff" stroke="#000" stroke-width="2.0"/>
<circle cx="747.50" cy="910.30" r="6.20" fill="#0000ff" stroke="#000" stroke-width="2.0"/>
<circle cx="769.70" cy="895.80" r="6.20" fill="#0000ff" stroke="#000" stroke-width="2.0"/>
<circle cx="791.90" cy="878.90" r="6.20" fill="#0000ff" stroke="#000" stroke-width="2.0"/>
<path d="M569.90,958.00 L592.10,956.30 L614.30,955.50 L636.50,953.10 L658.70,951.40 L680.90,949.50 L703.10,947.60 L725.30,945.90 L747.50,942.20 L769.70,940.30 L791.90,937.90" stroke="#000" stroke-width="3" fill="none" stroke-linejoin="round" stroke-linecap="round" />
<circle cx="569.90" cy="958.00" r="6.20" fill="#000" stroke="#000" stroke-width="2.0"/>
<circle cx="592.10" cy="956.30" r="6.20" fill="#000" stroke="#000" stroke-width="2.0"/>
<circle cx="614.30" cy="955.50" r="6.20" fill="#000" stroke="#000" stroke-width="2.0"/>
<circle cx="636.50" cy="953.10" r="6.20" fill="#000" stroke="#000" stroke-width="2.0"/>
<circle cx="658.70" cy="951.40" r="6.20" fill="#000" stroke="#000" stroke-width="2.0"/>
<circle cx="680.90" cy="949.50" r="6.20" fill="#000" stroke="#000" stroke-width="2.0"/>
<circle cx="703.10" cy="947.60" r="6.20" fill="#000" stroke="#000" stroke-width="2.0"/>
<circle cx="725.30" cy="945.90" r="6.20" fill="#000" stroke="#000" stroke-width="2.0"/>
<circle cx="747.50" cy="942.20" r="6.20" fill="#000" stroke="#000" stroke-width="2.0"/>
<circle cx="769.70" cy="940.30" r="6.20" fill="#000" stroke="#000" stroke-width="2.0"/>
<circle cx="791.90" cy="937.90" r="6.20" fill="#000" stroke="#000" stroke-width="2.0"/>
<text x="784.91" y="842.57" font-size="23" fill="#000" stroke="#000" stroke-width="0.55">#</text>
<text x="786.33" y="868.27" font-size="25.5" fill="#000" stroke="#000" stroke-width="0.45">*</text>
<text x="763.21" y="869.17" font-size="23" fill="#000" stroke="#000" stroke-width="0.55">#</text>
<text x="765.83" y="890.57" font-size="25.5" fill="#000" stroke="#000" stroke-width="0.45">*</text>
<text x="740.91" y="881.27" font-size="23" fill="#000" stroke="#000" stroke-width="0.55">#</text>
<text x="742.33" y="907.47" font-size="25.5" fill="#000" stroke="#000" stroke-width="0.45">*</text>
<text x="720.91" y="894.57" font-size="23" fill="#000" stroke="#000" stroke-width="0.55">#</text>
<text x="721.13" y="921.47" font-size="25.5" fill="#000" stroke="#000" stroke-width="0.45">*</text>
<text x="696.71" y="910.27" font-size="23" fill="#000" stroke="#000" stroke-width="0.55">#</text>
<text x="698.13" y="934.77" font-size="25.5" fill="#000" stroke="#000" stroke-width="0.45">*</text>
<text x="672.73" y="942.07" font-size="25.5" fill="#000" stroke="#000" stroke-width="0.45">*</text>
<text x="631.73" y="990.37" font-size="25.5" fill="#000" stroke="#000" stroke-width="0.45">*</text>
<text x="609.43" y="996.37" font-size="25.5" fill="#000" stroke="#000" stroke-width="0.45">*</text>
<text x="587.03" y="1007.27" font-size="25.5" fill="#000" stroke="#000" stroke-width="0.45">*</text>
<text x="587.61" y="1018.97" font-size="23" fill="#000" stroke="#000" stroke-width="0.55">#</text>
<text x="565.23" y="1013.27" font-size="25.5" fill="#000" stroke="#000" stroke-width="0.45">*</text>
<text x="566.21" y="1022.57" font-size="23" fill="#000" stroke="#000" stroke-width="0.55">#</text>
</svg></body></html>
